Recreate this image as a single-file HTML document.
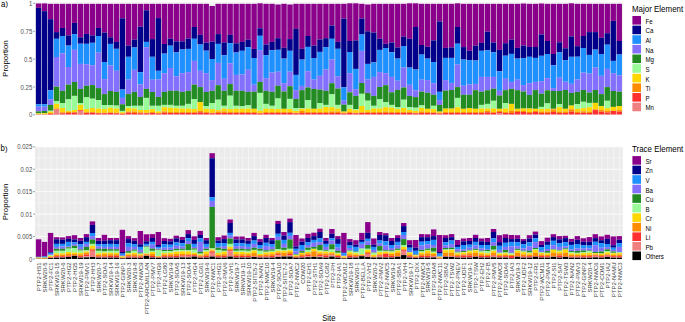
<!DOCTYPE html><html><head><meta charset="utf-8"><style>html,body{margin:0;padding:0;background:#fff;}svg{display:block}text{font-family:"Liberation Sans",sans-serif;}</style></head><body>
<svg width="685" height="322" viewBox="0 0 685 322">
<rect width="685" height="322" fill="#fff"/>
<rect x="35" y="2.4" width="587.8" height="112.4" fill="#EBEBEB"/>
<line x1="35" x2="622.8" y1="100.88" y2="100.88" stroke="#fff" stroke-width="0.45"/>
<line x1="35" x2="622.8" y1="73.03" y2="73.03" stroke="#fff" stroke-width="0.45"/>
<line x1="35" x2="622.8" y1="45.17" y2="45.17" stroke="#fff" stroke-width="0.45"/>
<line x1="35" x2="622.8" y1="17.33" y2="17.33" stroke="#fff" stroke-width="0.45"/>
<line x1="35" x2="622.8" y1="114.8" y2="114.8" stroke="#fff" stroke-width="0.8"/>
<line x1="35" x2="622.8" y1="86.95" y2="86.95" stroke="#fff" stroke-width="0.8"/>
<line x1="35" x2="622.8" y1="59.1" y2="59.1" stroke="#fff" stroke-width="0.8"/>
<line x1="35" x2="622.8" y1="31.25" y2="31.25" stroke="#fff" stroke-width="0.8"/>
<line x1="35" x2="622.8" y1="3.4" y2="3.4" stroke="#fff" stroke-width="0.8"/>
<line x1="39.09" x2="39.09" y1="3.4" y2="114.8" stroke="#fff" stroke-width="0.45"/>
<line x1="45.08" x2="45.08" y1="3.4" y2="114.8" stroke="#fff" stroke-width="0.45"/>
<line x1="51.07" x2="51.07" y1="3.4" y2="114.8" stroke="#fff" stroke-width="0.45"/>
<line x1="57.05" x2="57.05" y1="3.4" y2="114.8" stroke="#fff" stroke-width="0.45"/>
<line x1="63.04" x2="63.04" y1="3.4" y2="114.8" stroke="#fff" stroke-width="0.45"/>
<line x1="69.02" x2="69.02" y1="3.4" y2="114.8" stroke="#fff" stroke-width="0.45"/>
<line x1="75.01" x2="75.01" y1="3.4" y2="114.8" stroke="#fff" stroke-width="0.45"/>
<line x1="81" x2="81" y1="3.4" y2="114.8" stroke="#fff" stroke-width="0.45"/>
<line x1="86.98" x2="86.98" y1="3.4" y2="114.8" stroke="#fff" stroke-width="0.45"/>
<line x1="92.97" x2="92.97" y1="3.4" y2="114.8" stroke="#fff" stroke-width="0.45"/>
<line x1="98.95" x2="98.95" y1="3.4" y2="114.8" stroke="#fff" stroke-width="0.45"/>
<line x1="104.94" x2="104.94" y1="3.4" y2="114.8" stroke="#fff" stroke-width="0.45"/>
<line x1="110.93" x2="110.93" y1="3.4" y2="114.8" stroke="#fff" stroke-width="0.45"/>
<line x1="116.91" x2="116.91" y1="3.4" y2="114.8" stroke="#fff" stroke-width="0.45"/>
<line x1="122.9" x2="122.9" y1="3.4" y2="114.8" stroke="#fff" stroke-width="0.45"/>
<line x1="128.88" x2="128.88" y1="3.4" y2="114.8" stroke="#fff" stroke-width="0.45"/>
<line x1="134.87" x2="134.87" y1="3.4" y2="114.8" stroke="#fff" stroke-width="0.45"/>
<line x1="140.86" x2="140.86" y1="3.4" y2="114.8" stroke="#fff" stroke-width="0.45"/>
<line x1="146.84" x2="146.84" y1="3.4" y2="114.8" stroke="#fff" stroke-width="0.45"/>
<line x1="152.83" x2="152.83" y1="3.4" y2="114.8" stroke="#fff" stroke-width="0.45"/>
<line x1="158.81" x2="158.81" y1="3.4" y2="114.8" stroke="#fff" stroke-width="0.45"/>
<line x1="164.8" x2="164.8" y1="3.4" y2="114.8" stroke="#fff" stroke-width="0.45"/>
<line x1="170.79" x2="170.79" y1="3.4" y2="114.8" stroke="#fff" stroke-width="0.45"/>
<line x1="176.77" x2="176.77" y1="3.4" y2="114.8" stroke="#fff" stroke-width="0.45"/>
<line x1="182.76" x2="182.76" y1="3.4" y2="114.8" stroke="#fff" stroke-width="0.45"/>
<line x1="188.74" x2="188.74" y1="3.4" y2="114.8" stroke="#fff" stroke-width="0.45"/>
<line x1="194.73" x2="194.73" y1="3.4" y2="114.8" stroke="#fff" stroke-width="0.45"/>
<line x1="200.72" x2="200.72" y1="3.4" y2="114.8" stroke="#fff" stroke-width="0.45"/>
<line x1="206.7" x2="206.7" y1="3.4" y2="114.8" stroke="#fff" stroke-width="0.45"/>
<line x1="212.69" x2="212.69" y1="3.4" y2="114.8" stroke="#fff" stroke-width="0.45"/>
<line x1="218.67" x2="218.67" y1="3.4" y2="114.8" stroke="#fff" stroke-width="0.45"/>
<line x1="224.66" x2="224.66" y1="3.4" y2="114.8" stroke="#fff" stroke-width="0.45"/>
<line x1="230.65" x2="230.65" y1="3.4" y2="114.8" stroke="#fff" stroke-width="0.45"/>
<line x1="236.63" x2="236.63" y1="3.4" y2="114.8" stroke="#fff" stroke-width="0.45"/>
<line x1="242.62" x2="242.62" y1="3.4" y2="114.8" stroke="#fff" stroke-width="0.45"/>
<line x1="248.6" x2="248.6" y1="3.4" y2="114.8" stroke="#fff" stroke-width="0.45"/>
<line x1="254.59" x2="254.59" y1="3.4" y2="114.8" stroke="#fff" stroke-width="0.45"/>
<line x1="260.58" x2="260.58" y1="3.4" y2="114.8" stroke="#fff" stroke-width="0.45"/>
<line x1="266.56" x2="266.56" y1="3.4" y2="114.8" stroke="#fff" stroke-width="0.45"/>
<line x1="272.55" x2="272.55" y1="3.4" y2="114.8" stroke="#fff" stroke-width="0.45"/>
<line x1="278.53" x2="278.53" y1="3.4" y2="114.8" stroke="#fff" stroke-width="0.45"/>
<line x1="284.52" x2="284.52" y1="3.4" y2="114.8" stroke="#fff" stroke-width="0.45"/>
<line x1="290.51" x2="290.51" y1="3.4" y2="114.8" stroke="#fff" stroke-width="0.45"/>
<line x1="296.49" x2="296.49" y1="3.4" y2="114.8" stroke="#fff" stroke-width="0.45"/>
<line x1="302.48" x2="302.48" y1="3.4" y2="114.8" stroke="#fff" stroke-width="0.45"/>
<line x1="308.46" x2="308.46" y1="3.4" y2="114.8" stroke="#fff" stroke-width="0.45"/>
<line x1="314.45" x2="314.45" y1="3.4" y2="114.8" stroke="#fff" stroke-width="0.45"/>
<line x1="320.44" x2="320.44" y1="3.4" y2="114.8" stroke="#fff" stroke-width="0.45"/>
<line x1="326.42" x2="326.42" y1="3.4" y2="114.8" stroke="#fff" stroke-width="0.45"/>
<line x1="332.41" x2="332.41" y1="3.4" y2="114.8" stroke="#fff" stroke-width="0.45"/>
<line x1="338.39" x2="338.39" y1="3.4" y2="114.8" stroke="#fff" stroke-width="0.45"/>
<line x1="344.38" x2="344.38" y1="3.4" y2="114.8" stroke="#fff" stroke-width="0.45"/>
<line x1="350.37" x2="350.37" y1="3.4" y2="114.8" stroke="#fff" stroke-width="0.45"/>
<line x1="356.35" x2="356.35" y1="3.4" y2="114.8" stroke="#fff" stroke-width="0.45"/>
<line x1="362.34" x2="362.34" y1="3.4" y2="114.8" stroke="#fff" stroke-width="0.45"/>
<line x1="368.32" x2="368.32" y1="3.4" y2="114.8" stroke="#fff" stroke-width="0.45"/>
<line x1="374.31" x2="374.31" y1="3.4" y2="114.8" stroke="#fff" stroke-width="0.45"/>
<line x1="380.3" x2="380.3" y1="3.4" y2="114.8" stroke="#fff" stroke-width="0.45"/>
<line x1="386.28" x2="386.28" y1="3.4" y2="114.8" stroke="#fff" stroke-width="0.45"/>
<line x1="392.27" x2="392.27" y1="3.4" y2="114.8" stroke="#fff" stroke-width="0.45"/>
<line x1="398.25" x2="398.25" y1="3.4" y2="114.8" stroke="#fff" stroke-width="0.45"/>
<line x1="404.24" x2="404.24" y1="3.4" y2="114.8" stroke="#fff" stroke-width="0.45"/>
<line x1="410.23" x2="410.23" y1="3.4" y2="114.8" stroke="#fff" stroke-width="0.45"/>
<line x1="416.21" x2="416.21" y1="3.4" y2="114.8" stroke="#fff" stroke-width="0.45"/>
<line x1="422.2" x2="422.2" y1="3.4" y2="114.8" stroke="#fff" stroke-width="0.45"/>
<line x1="428.18" x2="428.18" y1="3.4" y2="114.8" stroke="#fff" stroke-width="0.45"/>
<line x1="434.17" x2="434.17" y1="3.4" y2="114.8" stroke="#fff" stroke-width="0.45"/>
<line x1="440.16" x2="440.16" y1="3.4" y2="114.8" stroke="#fff" stroke-width="0.45"/>
<line x1="446.14" x2="446.14" y1="3.4" y2="114.8" stroke="#fff" stroke-width="0.45"/>
<line x1="452.13" x2="452.13" y1="3.4" y2="114.8" stroke="#fff" stroke-width="0.45"/>
<line x1="458.11" x2="458.11" y1="3.4" y2="114.8" stroke="#fff" stroke-width="0.45"/>
<line x1="464.1" x2="464.1" y1="3.4" y2="114.8" stroke="#fff" stroke-width="0.45"/>
<line x1="470.09" x2="470.09" y1="3.4" y2="114.8" stroke="#fff" stroke-width="0.45"/>
<line x1="476.07" x2="476.07" y1="3.4" y2="114.8" stroke="#fff" stroke-width="0.45"/>
<line x1="482.06" x2="482.06" y1="3.4" y2="114.8" stroke="#fff" stroke-width="0.45"/>
<line x1="488.04" x2="488.04" y1="3.4" y2="114.8" stroke="#fff" stroke-width="0.45"/>
<line x1="494.03" x2="494.03" y1="3.4" y2="114.8" stroke="#fff" stroke-width="0.45"/>
<line x1="500.02" x2="500.02" y1="3.4" y2="114.8" stroke="#fff" stroke-width="0.45"/>
<line x1="506" x2="506" y1="3.4" y2="114.8" stroke="#fff" stroke-width="0.45"/>
<line x1="511.99" x2="511.99" y1="3.4" y2="114.8" stroke="#fff" stroke-width="0.45"/>
<line x1="517.97" x2="517.97" y1="3.4" y2="114.8" stroke="#fff" stroke-width="0.45"/>
<line x1="523.96" x2="523.96" y1="3.4" y2="114.8" stroke="#fff" stroke-width="0.45"/>
<line x1="529.95" x2="529.95" y1="3.4" y2="114.8" stroke="#fff" stroke-width="0.45"/>
<line x1="535.93" x2="535.93" y1="3.4" y2="114.8" stroke="#fff" stroke-width="0.45"/>
<line x1="541.92" x2="541.92" y1="3.4" y2="114.8" stroke="#fff" stroke-width="0.45"/>
<line x1="547.9" x2="547.9" y1="3.4" y2="114.8" stroke="#fff" stroke-width="0.45"/>
<line x1="553.89" x2="553.89" y1="3.4" y2="114.8" stroke="#fff" stroke-width="0.45"/>
<line x1="559.88" x2="559.88" y1="3.4" y2="114.8" stroke="#fff" stroke-width="0.45"/>
<line x1="565.86" x2="565.86" y1="3.4" y2="114.8" stroke="#fff" stroke-width="0.45"/>
<line x1="571.85" x2="571.85" y1="3.4" y2="114.8" stroke="#fff" stroke-width="0.45"/>
<line x1="577.83" x2="577.83" y1="3.4" y2="114.8" stroke="#fff" stroke-width="0.45"/>
<line x1="583.82" x2="583.82" y1="3.4" y2="114.8" stroke="#fff" stroke-width="0.45"/>
<line x1="589.81" x2="589.81" y1="3.4" y2="114.8" stroke="#fff" stroke-width="0.45"/>
<line x1="595.79" x2="595.79" y1="3.4" y2="114.8" stroke="#fff" stroke-width="0.45"/>
<line x1="601.78" x2="601.78" y1="3.4" y2="114.8" stroke="#fff" stroke-width="0.45"/>
<line x1="607.76" x2="607.76" y1="3.4" y2="114.8" stroke="#fff" stroke-width="0.45"/>
<line x1="613.75" x2="613.75" y1="3.4" y2="114.8" stroke="#fff" stroke-width="0.45"/>
<line x1="619.74" x2="619.74" y1="3.4" y2="114.8" stroke="#fff" stroke-width="0.45"/>
<rect x="35.9" y="3.45" width="5.39" height="4.35" fill="#8B008B"/>
<rect x="35.9" y="7.8" width="5.39" height="96.4" fill="#00008B"/>
<rect x="35.9" y="104.2" width="5.39" height="2.5" fill="#1E90FF"/>
<rect x="35.9" y="106.7" width="5.39" height="4.7" fill="#8470FF"/>
<rect x="35.9" y="111.4" width="5.39" height="1.9" fill="#228B22"/>
<rect x="35.9" y="113.3" width="5.39" height="0.2" fill="#98FB98"/>
<rect x="35.9" y="113.5" width="5.39" height="0.7" fill="#FFD700"/>
<rect x="35.9" y="114.2" width="5.39" height="0.2" fill="#FF8C00"/>
<rect x="35.9" y="114.4" width="5.39" height="0.2" fill="#FF3030"/>
<rect x="35.9" y="114.6" width="5.39" height="0.2" fill="#F08080"/>
<rect x="41.89" y="3.4" width="5.39" height="7.8" fill="#8B008B"/>
<rect x="41.89" y="11.2" width="5.39" height="93" fill="#00008B"/>
<rect x="41.89" y="104.2" width="5.39" height="2.5" fill="#1E90FF"/>
<rect x="41.89" y="106.7" width="5.39" height="4.3" fill="#8470FF"/>
<rect x="41.89" y="111" width="5.39" height="2" fill="#228B22"/>
<rect x="41.89" y="113" width="5.39" height="0.2" fill="#98FB98"/>
<rect x="41.89" y="113.2" width="5.39" height="1" fill="#FFD700"/>
<rect x="41.89" y="114.2" width="5.39" height="0.2" fill="#FF8C00"/>
<rect x="41.89" y="114.4" width="5.39" height="0.2" fill="#FF3030"/>
<rect x="41.89" y="114.6" width="5.39" height="0.2" fill="#F08080"/>
<rect x="47.87" y="3.8" width="5.39" height="15.4" fill="#8B008B"/>
<rect x="47.87" y="19.2" width="5.39" height="71" fill="#00008B"/>
<rect x="47.87" y="90.2" width="5.39" height="9.1" fill="#1E90FF"/>
<rect x="47.87" y="99.3" width="5.39" height="5.7" fill="#8470FF"/>
<rect x="47.87" y="105" width="5.39" height="5.7" fill="#228B22"/>
<rect x="47.87" y="110.7" width="5.39" height="0.9" fill="#98FB98"/>
<rect x="47.87" y="111.6" width="5.39" height="1.4" fill="#FFD700"/>
<rect x="47.87" y="113" width="5.39" height="0.8" fill="#FF8C00"/>
<rect x="47.87" y="113.8" width="5.39" height="0.8" fill="#FF3030"/>
<rect x="47.87" y="114.6" width="5.39" height="0.2" fill="#F08080"/>
<rect x="53.86" y="3.8" width="5.39" height="28.3" fill="#8B008B"/>
<rect x="53.86" y="32.1" width="5.39" height="6.7" fill="#00008B"/>
<rect x="53.86" y="38.8" width="5.39" height="18.2" fill="#1E90FF"/>
<rect x="53.86" y="57" width="5.39" height="29.7" fill="#8470FF"/>
<rect x="53.86" y="86.7" width="5.39" height="14.4" fill="#228B22"/>
<rect x="53.86" y="101.1" width="5.39" height="2.8" fill="#98FB98"/>
<rect x="53.86" y="103.9" width="5.39" height="4.7" fill="#FFD700"/>
<rect x="53.86" y="108.6" width="5.39" height="0.7" fill="#FF8C00"/>
<rect x="53.86" y="109.3" width="5.39" height="0.5" fill="#FF3030"/>
<rect x="53.86" y="109.8" width="5.39" height="5" fill="#F08080"/>
<rect x="59.84" y="3.8" width="5.39" height="24.2" fill="#8B008B"/>
<rect x="59.84" y="28" width="5.39" height="8" fill="#00008B"/>
<rect x="59.84" y="36" width="5.39" height="17.3" fill="#1E90FF"/>
<rect x="59.84" y="53.3" width="5.39" height="37.5" fill="#8470FF"/>
<rect x="59.84" y="90.8" width="5.39" height="12.2" fill="#228B22"/>
<rect x="59.84" y="103" width="5.39" height="4.9" fill="#98FB98"/>
<rect x="59.84" y="107.9" width="5.39" height="4.4" fill="#FFD700"/>
<rect x="59.84" y="112.3" width="5.39" height="1" fill="#FF8C00"/>
<rect x="59.84" y="113.3" width="5.39" height="1.2" fill="#FF3030"/>
<rect x="59.84" y="114.5" width="5.39" height="0.3" fill="#F08080"/>
<rect x="65.83" y="3.8" width="5.39" height="31.6" fill="#8B008B"/>
<rect x="65.83" y="35.4" width="5.39" height="10.2" fill="#00008B"/>
<rect x="65.83" y="45.6" width="5.39" height="21.4" fill="#1E90FF"/>
<rect x="65.83" y="67" width="5.39" height="17.7" fill="#8470FF"/>
<rect x="65.83" y="84.7" width="5.39" height="14.6" fill="#228B22"/>
<rect x="65.83" y="99.3" width="5.39" height="11.6" fill="#98FB98"/>
<rect x="65.83" y="110.9" width="5.39" height="0.9" fill="#FFD700"/>
<rect x="65.83" y="111.8" width="5.39" height="1.2" fill="#FF8C00"/>
<rect x="65.83" y="113" width="5.39" height="1.5" fill="#FF3030"/>
<rect x="65.83" y="114.5" width="5.39" height="0.3" fill="#F08080"/>
<rect x="71.82" y="3.8" width="5.39" height="19.1" fill="#8B008B"/>
<rect x="71.82" y="22.9" width="5.39" height="11.2" fill="#00008B"/>
<rect x="71.82" y="34.1" width="5.39" height="15.7" fill="#1E90FF"/>
<rect x="71.82" y="49.8" width="5.39" height="32.2" fill="#8470FF"/>
<rect x="71.82" y="82" width="5.39" height="13.9" fill="#228B22"/>
<rect x="71.82" y="95.9" width="5.39" height="14.1" fill="#98FB98"/>
<rect x="71.82" y="110" width="5.39" height="2.1" fill="#FFD700"/>
<rect x="71.82" y="112.1" width="5.39" height="0.5" fill="#FF8C00"/>
<rect x="71.82" y="112.6" width="5.39" height="1.9" fill="#FF3030"/>
<rect x="71.82" y="114.5" width="5.39" height="0.3" fill="#F08080"/>
<rect x="77.8" y="3.8" width="5.39" height="33.5" fill="#8B008B"/>
<rect x="77.8" y="37.3" width="5.39" height="6.4" fill="#00008B"/>
<rect x="77.8" y="43.7" width="5.39" height="20.2" fill="#1E90FF"/>
<rect x="77.8" y="63.9" width="5.39" height="25" fill="#8470FF"/>
<rect x="77.8" y="88.9" width="5.39" height="14.1" fill="#228B22"/>
<rect x="77.8" y="103" width="5.39" height="1.9" fill="#98FB98"/>
<rect x="77.8" y="104.9" width="5.39" height="5.1" fill="#FFD700"/>
<rect x="77.8" y="110" width="5.39" height="0.3" fill="#FF8C00"/>
<rect x="77.8" y="110.3" width="5.39" height="0.7" fill="#FF3030"/>
<rect x="77.8" y="111" width="5.39" height="3.8" fill="#F08080"/>
<rect x="83.79" y="3.8" width="5.39" height="30.1" fill="#8B008B"/>
<rect x="83.79" y="33.9" width="5.39" height="9.9" fill="#00008B"/>
<rect x="83.79" y="43.8" width="5.39" height="20.4" fill="#1E90FF"/>
<rect x="83.79" y="64.2" width="5.39" height="21.6" fill="#8470FF"/>
<rect x="83.79" y="85.8" width="5.39" height="11.5" fill="#228B22"/>
<rect x="83.79" y="97.3" width="5.39" height="11.8" fill="#98FB98"/>
<rect x="83.79" y="109.1" width="5.39" height="3.2" fill="#FFD700"/>
<rect x="83.79" y="112.3" width="5.39" height="0.7" fill="#FF8C00"/>
<rect x="83.79" y="113" width="5.39" height="1.5" fill="#FF3030"/>
<rect x="83.79" y="114.5" width="5.39" height="0.3" fill="#F08080"/>
<rect x="89.77" y="3.8" width="5.39" height="31.6" fill="#8B008B"/>
<rect x="89.77" y="35.4" width="5.39" height="7.4" fill="#00008B"/>
<rect x="89.77" y="42.8" width="5.39" height="22.4" fill="#1E90FF"/>
<rect x="89.77" y="65.2" width="5.39" height="19.9" fill="#8470FF"/>
<rect x="89.77" y="85.1" width="5.39" height="13.6" fill="#228B22"/>
<rect x="89.77" y="98.7" width="5.39" height="9.4" fill="#98FB98"/>
<rect x="89.77" y="108.1" width="5.39" height="4" fill="#FFD700"/>
<rect x="89.77" y="112.1" width="5.39" height="0.7" fill="#FF8C00"/>
<rect x="89.77" y="112.8" width="5.39" height="1.7" fill="#FF3030"/>
<rect x="89.77" y="114.5" width="5.39" height="0.3" fill="#F08080"/>
<rect x="95.76" y="3.8" width="5.39" height="24.2" fill="#8B008B"/>
<rect x="95.76" y="28" width="5.39" height="8" fill="#00008B"/>
<rect x="95.76" y="36" width="5.39" height="16.7" fill="#1E90FF"/>
<rect x="95.76" y="52.7" width="5.39" height="35.4" fill="#8470FF"/>
<rect x="95.76" y="88.1" width="5.39" height="12" fill="#228B22"/>
<rect x="95.76" y="100.1" width="5.39" height="8.5" fill="#98FB98"/>
<rect x="95.76" y="108.6" width="5.39" height="4.2" fill="#FFD700"/>
<rect x="95.76" y="112.8" width="5.39" height="0.5" fill="#FF8C00"/>
<rect x="95.76" y="113.3" width="5.39" height="1.2" fill="#FF3030"/>
<rect x="95.76" y="114.5" width="5.39" height="0.3" fill="#F08080"/>
<rect x="101.75" y="3.8" width="5.39" height="28.8" fill="#8B008B"/>
<rect x="101.75" y="32.6" width="5.39" height="29.4" fill="#00008B"/>
<rect x="101.75" y="62" width="5.39" height="17.1" fill="#1E90FF"/>
<rect x="101.75" y="79.1" width="5.39" height="15" fill="#8470FF"/>
<rect x="101.75" y="94.1" width="5.39" height="10.9" fill="#228B22"/>
<rect x="101.75" y="105" width="5.39" height="4.1" fill="#98FB98"/>
<rect x="101.75" y="109.1" width="5.39" height="3.7" fill="#FFD700"/>
<rect x="101.75" y="112.8" width="5.39" height="0.5" fill="#FF8C00"/>
<rect x="101.75" y="113.3" width="5.39" height="1.2" fill="#FF3030"/>
<rect x="101.75" y="114.5" width="5.39" height="0.3" fill="#F08080"/>
<rect x="107.73" y="3.8" width="5.39" height="33.5" fill="#8B008B"/>
<rect x="107.73" y="37.3" width="5.39" height="6.6" fill="#00008B"/>
<rect x="107.73" y="43.9" width="5.39" height="21.6" fill="#1E90FF"/>
<rect x="107.73" y="65.5" width="5.39" height="25.5" fill="#8470FF"/>
<rect x="107.73" y="91" width="5.39" height="14" fill="#228B22"/>
<rect x="107.73" y="105" width="5.39" height="2.7" fill="#98FB98"/>
<rect x="107.73" y="107.7" width="5.39" height="4.6" fill="#FFD700"/>
<rect x="107.73" y="112.3" width="5.39" height="0.7" fill="#FF8C00"/>
<rect x="107.73" y="113" width="5.39" height="1.5" fill="#FF3030"/>
<rect x="107.73" y="114.5" width="5.39" height="0.3" fill="#F08080"/>
<rect x="113.72" y="3.8" width="5.39" height="38.1" fill="#8B008B"/>
<rect x="113.72" y="41.9" width="5.39" height="6.9" fill="#00008B"/>
<rect x="113.72" y="48.8" width="5.39" height="22" fill="#1E90FF"/>
<rect x="113.72" y="70.8" width="5.39" height="21.1" fill="#8470FF"/>
<rect x="113.72" y="91.9" width="5.39" height="13.7" fill="#228B22"/>
<rect x="113.72" y="105.6" width="5.39" height="3" fill="#98FB98"/>
<rect x="113.72" y="108.6" width="5.39" height="4.2" fill="#FFD700"/>
<rect x="113.72" y="112.8" width="5.39" height="0.5" fill="#FF8C00"/>
<rect x="113.72" y="113.3" width="5.39" height="1.2" fill="#FF3030"/>
<rect x="113.72" y="114.5" width="5.39" height="0.3" fill="#F08080"/>
<rect x="119.7" y="3.8" width="5.39" height="14.5" fill="#8B008B"/>
<rect x="119.7" y="18.3" width="5.39" height="71.2" fill="#00008B"/>
<rect x="119.7" y="89.5" width="5.39" height="8.4" fill="#1E90FF"/>
<rect x="119.7" y="97.9" width="5.39" height="6.4" fill="#8470FF"/>
<rect x="119.7" y="104.3" width="5.39" height="6.6" fill="#228B22"/>
<rect x="119.7" y="110.9" width="5.39" height="1.4" fill="#98FB98"/>
<rect x="119.7" y="112.3" width="5.39" height="1" fill="#FFD700"/>
<rect x="119.7" y="113.3" width="5.39" height="0.7" fill="#FF8C00"/>
<rect x="119.7" y="114" width="5.39" height="0.6" fill="#FF3030"/>
<rect x="119.7" y="114.6" width="5.39" height="0.2" fill="#F08080"/>
<rect x="125.69" y="3.8" width="5.39" height="41.8" fill="#8B008B"/>
<rect x="125.69" y="45.6" width="5.39" height="11.2" fill="#00008B"/>
<rect x="125.69" y="56.8" width="5.39" height="22.8" fill="#1E90FF"/>
<rect x="125.69" y="79.6" width="5.39" height="14.5" fill="#8470FF"/>
<rect x="125.69" y="94.1" width="5.39" height="11.9" fill="#228B22"/>
<rect x="125.69" y="106" width="5.39" height="2.1" fill="#98FB98"/>
<rect x="125.69" y="108.1" width="5.39" height="3.5" fill="#FFD700"/>
<rect x="125.69" y="111.6" width="5.39" height="1" fill="#FF8C00"/>
<rect x="125.69" y="112.6" width="5.39" height="1.9" fill="#FF3030"/>
<rect x="125.69" y="114.5" width="5.39" height="0.3" fill="#F08080"/>
<rect x="131.68" y="3.8" width="5.39" height="35.9" fill="#8B008B"/>
<rect x="131.68" y="39.7" width="5.39" height="7.8" fill="#00008B"/>
<rect x="131.68" y="47.5" width="5.39" height="22.3" fill="#1E90FF"/>
<rect x="131.68" y="69.8" width="5.39" height="22.1" fill="#8470FF"/>
<rect x="131.68" y="91.9" width="5.39" height="13.9" fill="#228B22"/>
<rect x="131.68" y="105.8" width="5.39" height="2.8" fill="#98FB98"/>
<rect x="131.68" y="108.6" width="5.39" height="3" fill="#FFD700"/>
<rect x="131.68" y="111.6" width="5.39" height="1.4" fill="#FF8C00"/>
<rect x="131.68" y="113" width="5.39" height="1.5" fill="#FF3030"/>
<rect x="131.68" y="114.5" width="5.39" height="0.3" fill="#F08080"/>
<rect x="137.66" y="3.8" width="5.39" height="22.9" fill="#8B008B"/>
<rect x="137.66" y="26.7" width="5.39" height="45.5" fill="#00008B"/>
<rect x="137.66" y="72.2" width="5.39" height="12.2" fill="#1E90FF"/>
<rect x="137.66" y="84.4" width="5.39" height="12.5" fill="#8470FF"/>
<rect x="137.66" y="96.9" width="5.39" height="8.9" fill="#228B22"/>
<rect x="137.66" y="105.8" width="5.39" height="4.2" fill="#98FB98"/>
<rect x="137.66" y="110" width="5.39" height="2.3" fill="#FFD700"/>
<rect x="137.66" y="112.3" width="5.39" height="1" fill="#FF8C00"/>
<rect x="137.66" y="113.3" width="5.39" height="1.2" fill="#FF3030"/>
<rect x="137.66" y="114.5" width="5.39" height="0.3" fill="#F08080"/>
<rect x="143.65" y="3.8" width="5.39" height="6.5" fill="#8B008B"/>
<rect x="143.65" y="10.3" width="5.39" height="31.6" fill="#00008B"/>
<rect x="143.65" y="41.9" width="5.39" height="5.3" fill="#1E90FF"/>
<rect x="143.65" y="47.2" width="5.39" height="41.7" fill="#8470FF"/>
<rect x="143.65" y="88.9" width="5.39" height="9" fill="#228B22"/>
<rect x="143.65" y="97.9" width="5.39" height="12.1" fill="#98FB98"/>
<rect x="143.65" y="110" width="5.39" height="2.8" fill="#FFD700"/>
<rect x="143.65" y="112.8" width="5.39" height="0.5" fill="#FF8C00"/>
<rect x="143.65" y="113.3" width="5.39" height="1.2" fill="#FF3030"/>
<rect x="143.65" y="114.5" width="5.39" height="0.3" fill="#F08080"/>
<rect x="149.63" y="3.8" width="5.39" height="35.3" fill="#8B008B"/>
<rect x="149.63" y="39.1" width="5.39" height="17.7" fill="#00008B"/>
<rect x="149.63" y="56.8" width="5.39" height="22.9" fill="#1E90FF"/>
<rect x="149.63" y="79.7" width="5.39" height="12.3" fill="#8470FF"/>
<rect x="149.63" y="92" width="5.39" height="13.8" fill="#228B22"/>
<rect x="149.63" y="105.8" width="5.39" height="3.3" fill="#98FB98"/>
<rect x="149.63" y="109.1" width="5.39" height="3" fill="#FFD700"/>
<rect x="149.63" y="112.1" width="5.39" height="0.9" fill="#FF8C00"/>
<rect x="149.63" y="113" width="5.39" height="1.5" fill="#FF3030"/>
<rect x="149.63" y="114.5" width="5.39" height="0.3" fill="#F08080"/>
<rect x="155.62" y="3.8" width="5.39" height="14.3" fill="#8B008B"/>
<rect x="155.62" y="18.1" width="5.39" height="52.7" fill="#00008B"/>
<rect x="155.62" y="70.8" width="5.39" height="8.7" fill="#1E90FF"/>
<rect x="155.62" y="79.5" width="5.39" height="17.4" fill="#8470FF"/>
<rect x="155.62" y="96.9" width="5.39" height="8.9" fill="#228B22"/>
<rect x="155.62" y="105.8" width="5.39" height="5.6" fill="#98FB98"/>
<rect x="155.62" y="111.4" width="5.39" height="1.6" fill="#FFD700"/>
<rect x="155.62" y="113" width="5.39" height="0.5" fill="#FF8C00"/>
<rect x="155.62" y="113.5" width="5.39" height="1" fill="#FF3030"/>
<rect x="155.62" y="114.5" width="5.39" height="0.3" fill="#F08080"/>
<rect x="161.61" y="3.8" width="5.39" height="40.2" fill="#8B008B"/>
<rect x="161.61" y="44" width="5.39" height="9.6" fill="#00008B"/>
<rect x="161.61" y="53.6" width="5.39" height="19.6" fill="#1E90FF"/>
<rect x="161.61" y="73.2" width="5.39" height="18.7" fill="#8470FF"/>
<rect x="161.61" y="91.9" width="5.39" height="13" fill="#228B22"/>
<rect x="161.61" y="104.9" width="5.39" height="2.3" fill="#98FB98"/>
<rect x="161.61" y="107.2" width="5.39" height="4.4" fill="#FFD700"/>
<rect x="161.61" y="111.6" width="5.39" height="1.2" fill="#FF8C00"/>
<rect x="161.61" y="112.8" width="5.39" height="1.7" fill="#FF3030"/>
<rect x="161.61" y="114.5" width="5.39" height="0.3" fill="#F08080"/>
<rect x="167.59" y="3.8" width="5.39" height="35" fill="#8B008B"/>
<rect x="167.59" y="38.8" width="5.39" height="6.9" fill="#00008B"/>
<rect x="167.59" y="45.7" width="5.39" height="22.3" fill="#1E90FF"/>
<rect x="167.59" y="68" width="5.39" height="22.8" fill="#8470FF"/>
<rect x="167.59" y="90.8" width="5.39" height="14.1" fill="#228B22"/>
<rect x="167.59" y="104.9" width="5.39" height="2.8" fill="#98FB98"/>
<rect x="167.59" y="107.7" width="5.39" height="4.4" fill="#FFD700"/>
<rect x="167.59" y="112.1" width="5.39" height="0.9" fill="#FF8C00"/>
<rect x="167.59" y="113" width="5.39" height="1.5" fill="#FF3030"/>
<rect x="167.59" y="114.5" width="5.39" height="0.3" fill="#F08080"/>
<rect x="173.58" y="3.8" width="5.39" height="37.6" fill="#8B008B"/>
<rect x="173.58" y="41.4" width="5.39" height="11" fill="#00008B"/>
<rect x="173.58" y="52.4" width="5.39" height="23.9" fill="#1E90FF"/>
<rect x="173.58" y="76.3" width="5.39" height="14.5" fill="#8470FF"/>
<rect x="173.58" y="90.8" width="5.39" height="15" fill="#228B22"/>
<rect x="173.58" y="105.8" width="5.39" height="2.3" fill="#98FB98"/>
<rect x="173.58" y="108.1" width="5.39" height="4" fill="#FFD700"/>
<rect x="173.58" y="112.1" width="5.39" height="0.9" fill="#FF8C00"/>
<rect x="173.58" y="113" width="5.39" height="1.5" fill="#FF3030"/>
<rect x="173.58" y="114.5" width="5.39" height="0.3" fill="#F08080"/>
<rect x="179.56" y="3.8" width="5.39" height="37.6" fill="#8B008B"/>
<rect x="179.56" y="41.4" width="5.39" height="8.1" fill="#00008B"/>
<rect x="179.56" y="49.5" width="5.39" height="23.7" fill="#1E90FF"/>
<rect x="179.56" y="73.2" width="5.39" height="18.7" fill="#8470FF"/>
<rect x="179.56" y="91.9" width="5.39" height="13.9" fill="#228B22"/>
<rect x="179.56" y="105.8" width="5.39" height="2.8" fill="#98FB98"/>
<rect x="179.56" y="108.6" width="5.39" height="3.5" fill="#FFD700"/>
<rect x="179.56" y="112.1" width="5.39" height="0.9" fill="#FF8C00"/>
<rect x="179.56" y="113" width="5.39" height="1.5" fill="#FF3030"/>
<rect x="179.56" y="114.5" width="5.39" height="0.3" fill="#F08080"/>
<rect x="185.55" y="3.8" width="5.39" height="34.8" fill="#8B008B"/>
<rect x="185.55" y="38.6" width="5.39" height="10.3" fill="#00008B"/>
<rect x="185.55" y="48.9" width="5.39" height="23.2" fill="#1E90FF"/>
<rect x="185.55" y="72.1" width="5.39" height="18.7" fill="#8470FF"/>
<rect x="185.55" y="90.8" width="5.39" height="13.1" fill="#228B22"/>
<rect x="185.55" y="103.9" width="5.39" height="4.7" fill="#98FB98"/>
<rect x="185.55" y="108.6" width="5.39" height="3.5" fill="#FFD700"/>
<rect x="185.55" y="112.1" width="5.39" height="0.9" fill="#FF8C00"/>
<rect x="185.55" y="113" width="5.39" height="1.5" fill="#FF3030"/>
<rect x="185.55" y="114.5" width="5.39" height="0.3" fill="#F08080"/>
<rect x="191.54" y="3.8" width="5.39" height="23.2" fill="#8B008B"/>
<rect x="191.54" y="27" width="5.39" height="11.8" fill="#00008B"/>
<rect x="191.54" y="38.8" width="5.39" height="22.1" fill="#1E90FF"/>
<rect x="191.54" y="60.9" width="5.39" height="23.8" fill="#8470FF"/>
<rect x="191.54" y="84.7" width="5.39" height="14.3" fill="#228B22"/>
<rect x="191.54" y="99" width="5.39" height="10.1" fill="#98FB98"/>
<rect x="191.54" y="109.1" width="5.39" height="3" fill="#FFD700"/>
<rect x="191.54" y="112.1" width="5.39" height="0.9" fill="#FF8C00"/>
<rect x="191.54" y="113" width="5.39" height="1.5" fill="#FF3030"/>
<rect x="191.54" y="114.5" width="5.39" height="0.3" fill="#F08080"/>
<rect x="197.52" y="3.8" width="5.39" height="31.1" fill="#8B008B"/>
<rect x="197.52" y="34.9" width="5.39" height="9.6" fill="#00008B"/>
<rect x="197.52" y="44.5" width="5.39" height="26.3" fill="#1E90FF"/>
<rect x="197.52" y="70.8" width="5.39" height="16.3" fill="#8470FF"/>
<rect x="197.52" y="87.1" width="5.39" height="15" fill="#228B22"/>
<rect x="197.52" y="102.1" width="5.39" height="8.8" fill="#FFD700"/>
<rect x="197.52" y="110.9" width="5.39" height="1.4" fill="#FF8C00"/>
<rect x="197.52" y="112.3" width="5.39" height="2.2" fill="#FF3030"/>
<rect x="197.52" y="114.5" width="5.39" height="0.3" fill="#F08080"/>
<rect x="203.51" y="3.8" width="5.39" height="38.8" fill="#8B008B"/>
<rect x="203.51" y="42.6" width="5.39" height="8.1" fill="#00008B"/>
<rect x="203.51" y="50.7" width="5.39" height="22.5" fill="#1E90FF"/>
<rect x="203.51" y="73.2" width="5.39" height="18.7" fill="#8470FF"/>
<rect x="203.51" y="91.9" width="5.39" height="14.1" fill="#228B22"/>
<rect x="203.51" y="106" width="5.39" height="2.8" fill="#98FB98"/>
<rect x="203.51" y="108.8" width="5.39" height="3.3" fill="#FFD700"/>
<rect x="203.51" y="112.1" width="5.39" height="0.9" fill="#FF8C00"/>
<rect x="203.51" y="113" width="5.39" height="1.5" fill="#FF3030"/>
<rect x="203.51" y="114.5" width="5.39" height="0.3" fill="#F08080"/>
<rect x="209.49" y="6" width="5.39" height="35.7" fill="#8B008B"/>
<rect x="209.49" y="41.7" width="5.39" height="17.3" fill="#00008B"/>
<rect x="209.49" y="59" width="5.39" height="21.1" fill="#1E90FF"/>
<rect x="209.49" y="80.1" width="5.39" height="10.7" fill="#8470FF"/>
<rect x="209.49" y="90.8" width="5.39" height="12.2" fill="#228B22"/>
<rect x="209.49" y="103" width="5.39" height="6.1" fill="#98FB98"/>
<rect x="209.49" y="109.1" width="5.39" height="3.7" fill="#FFD700"/>
<rect x="209.49" y="112.8" width="5.39" height="0.5" fill="#FF8C00"/>
<rect x="209.49" y="113.3" width="5.39" height="1.2" fill="#FF3030"/>
<rect x="209.49" y="114.5" width="5.39" height="0.3" fill="#F08080"/>
<rect x="215.48" y="3.8" width="5.39" height="30.3" fill="#8B008B"/>
<rect x="215.48" y="34.1" width="5.39" height="9.8" fill="#00008B"/>
<rect x="215.48" y="43.9" width="5.39" height="19" fill="#1E90FF"/>
<rect x="215.48" y="62.9" width="5.39" height="22.3" fill="#8470FF"/>
<rect x="215.48" y="85.2" width="5.39" height="14.5" fill="#228B22"/>
<rect x="215.48" y="99.7" width="5.39" height="10.3" fill="#98FB98"/>
<rect x="215.48" y="110" width="5.39" height="1.6" fill="#FFD700"/>
<rect x="215.48" y="111.6" width="5.39" height="1.4" fill="#FF8C00"/>
<rect x="215.48" y="113" width="5.39" height="1.5" fill="#FF3030"/>
<rect x="215.48" y="114.5" width="5.39" height="0.3" fill="#F08080"/>
<rect x="221.47" y="3.8" width="5.39" height="38.6" fill="#8B008B"/>
<rect x="221.47" y="42.4" width="5.39" height="12.8" fill="#00008B"/>
<rect x="221.47" y="55.2" width="5.39" height="23.6" fill="#1E90FF"/>
<rect x="221.47" y="78.8" width="5.39" height="12" fill="#8470FF"/>
<rect x="221.47" y="90.8" width="5.39" height="15" fill="#228B22"/>
<rect x="221.47" y="105.8" width="5.39" height="2.8" fill="#98FB98"/>
<rect x="221.47" y="108.6" width="5.39" height="3" fill="#FFD700"/>
<rect x="221.47" y="111.6" width="5.39" height="1.4" fill="#FF8C00"/>
<rect x="221.47" y="113" width="5.39" height="1.5" fill="#FF3030"/>
<rect x="221.47" y="114.5" width="5.39" height="0.3" fill="#F08080"/>
<rect x="227.45" y="3.8" width="5.39" height="31.1" fill="#8B008B"/>
<rect x="227.45" y="34.9" width="5.39" height="8.3" fill="#00008B"/>
<rect x="227.45" y="43.2" width="5.39" height="20.1" fill="#1E90FF"/>
<rect x="227.45" y="63.3" width="5.39" height="20.8" fill="#8470FF"/>
<rect x="227.45" y="84.1" width="5.39" height="11.6" fill="#228B22"/>
<rect x="227.45" y="95.7" width="5.39" height="13.4" fill="#98FB98"/>
<rect x="227.45" y="109.1" width="5.39" height="3" fill="#FFD700"/>
<rect x="227.45" y="112.1" width="5.39" height="0.9" fill="#FF8C00"/>
<rect x="227.45" y="113" width="5.39" height="1.5" fill="#FF3030"/>
<rect x="227.45" y="114.5" width="5.39" height="0.3" fill="#F08080"/>
<rect x="233.44" y="3.8" width="5.39" height="39.5" fill="#8B008B"/>
<rect x="233.44" y="43.3" width="5.39" height="9.2" fill="#00008B"/>
<rect x="233.44" y="52.5" width="5.39" height="22.4" fill="#1E90FF"/>
<rect x="233.44" y="74.9" width="5.39" height="15.9" fill="#8470FF"/>
<rect x="233.44" y="90.8" width="5.39" height="15" fill="#228B22"/>
<rect x="233.44" y="105.8" width="5.39" height="3" fill="#98FB98"/>
<rect x="233.44" y="108.8" width="5.39" height="3.3" fill="#FFD700"/>
<rect x="233.44" y="112.1" width="5.39" height="0.9" fill="#FF8C00"/>
<rect x="233.44" y="113" width="5.39" height="1.5" fill="#FF3030"/>
<rect x="233.44" y="114.5" width="5.39" height="0.3" fill="#F08080"/>
<rect x="239.42" y="3.8" width="5.39" height="38.1" fill="#8B008B"/>
<rect x="239.42" y="41.9" width="5.39" height="8.9" fill="#00008B"/>
<rect x="239.42" y="50.8" width="5.39" height="23.7" fill="#1E90FF"/>
<rect x="239.42" y="74.5" width="5.39" height="16.3" fill="#8470FF"/>
<rect x="239.42" y="90.8" width="5.39" height="15.5" fill="#228B22"/>
<rect x="239.42" y="106.3" width="5.39" height="2.5" fill="#98FB98"/>
<rect x="239.42" y="108.8" width="5.39" height="3.3" fill="#FFD700"/>
<rect x="239.42" y="112.1" width="5.39" height="0.9" fill="#FF8C00"/>
<rect x="239.42" y="113" width="5.39" height="1.5" fill="#FF3030"/>
<rect x="239.42" y="114.5" width="5.39" height="0.3" fill="#F08080"/>
<rect x="245.41" y="3.8" width="5.39" height="35.9" fill="#8B008B"/>
<rect x="245.41" y="39.7" width="5.39" height="7.4" fill="#00008B"/>
<rect x="245.41" y="47.1" width="5.39" height="22.7" fill="#1E90FF"/>
<rect x="245.41" y="69.8" width="5.39" height="22.1" fill="#8470FF"/>
<rect x="245.41" y="91.9" width="5.39" height="13.4" fill="#228B22"/>
<rect x="245.41" y="105.3" width="5.39" height="3.3" fill="#98FB98"/>
<rect x="245.41" y="108.6" width="5.39" height="3.5" fill="#FFD700"/>
<rect x="245.41" y="112.1" width="5.39" height="0.9" fill="#FF8C00"/>
<rect x="245.41" y="113" width="5.39" height="1.5" fill="#FF3030"/>
<rect x="245.41" y="114.5" width="5.39" height="0.3" fill="#F08080"/>
<rect x="251.4" y="3.8" width="5.39" height="45.1" fill="#8B008B"/>
<rect x="251.4" y="48.9" width="5.39" height="9.1" fill="#00008B"/>
<rect x="251.4" y="58" width="5.39" height="26.7" fill="#1E90FF"/>
<rect x="251.4" y="84.7" width="5.39" height="7" fill="#8470FF"/>
<rect x="251.4" y="91.7" width="5.39" height="17.1" fill="#228B22"/>
<rect x="251.4" y="108.8" width="5.39" height="3.3" fill="#FFD700"/>
<rect x="251.4" y="112.1" width="5.39" height="0.9" fill="#FF8C00"/>
<rect x="251.4" y="113" width="5.39" height="1.5" fill="#FF3030"/>
<rect x="251.4" y="114.5" width="5.39" height="0.3" fill="#F08080"/>
<rect x="257.38" y="3.3" width="5.39" height="25" fill="#8B008B"/>
<rect x="257.38" y="28.3" width="5.39" height="7.5" fill="#00008B"/>
<rect x="257.38" y="35.8" width="5.39" height="14.4" fill="#1E90FF"/>
<rect x="257.38" y="50.2" width="5.39" height="31.7" fill="#8470FF"/>
<rect x="257.38" y="81.9" width="5.39" height="11" fill="#228B22"/>
<rect x="257.38" y="92.9" width="5.39" height="17.8" fill="#98FB98"/>
<rect x="257.38" y="110.7" width="5.39" height="2.3" fill="#FFD700"/>
<rect x="257.38" y="113" width="5.39" height="0.5" fill="#FF8C00"/>
<rect x="257.38" y="113.5" width="5.39" height="1" fill="#FF3030"/>
<rect x="257.38" y="114.5" width="5.39" height="0.3" fill="#F08080"/>
<rect x="263.37" y="3.8" width="5.39" height="40.7" fill="#8B008B"/>
<rect x="263.37" y="44.5" width="5.39" height="10.7" fill="#00008B"/>
<rect x="263.37" y="55.2" width="5.39" height="23" fill="#1E90FF"/>
<rect x="263.37" y="78.2" width="5.39" height="12.6" fill="#8470FF"/>
<rect x="263.37" y="90.8" width="5.39" height="13.1" fill="#228B22"/>
<rect x="263.37" y="103.9" width="5.39" height="4.9" fill="#98FB98"/>
<rect x="263.37" y="108.8" width="5.39" height="3.3" fill="#FFD700"/>
<rect x="263.37" y="112.1" width="5.39" height="0.9" fill="#FF8C00"/>
<rect x="263.37" y="113" width="5.39" height="1.5" fill="#FF3030"/>
<rect x="263.37" y="114.5" width="5.39" height="0.3" fill="#F08080"/>
<rect x="269.35" y="3.8" width="5.39" height="38.1" fill="#8B008B"/>
<rect x="269.35" y="41.9" width="5.39" height="8.4" fill="#00008B"/>
<rect x="269.35" y="50.3" width="5.39" height="22.3" fill="#1E90FF"/>
<rect x="269.35" y="72.6" width="5.39" height="19.2" fill="#8470FF"/>
<rect x="269.35" y="91.8" width="5.39" height="14" fill="#228B22"/>
<rect x="269.35" y="105.8" width="5.39" height="3" fill="#98FB98"/>
<rect x="269.35" y="108.8" width="5.39" height="3.3" fill="#FFD700"/>
<rect x="269.35" y="112.1" width="5.39" height="0.9" fill="#FF8C00"/>
<rect x="269.35" y="113" width="5.39" height="1.5" fill="#FF3030"/>
<rect x="269.35" y="114.5" width="5.39" height="0.3" fill="#F08080"/>
<rect x="275.34" y="4.5" width="5.39" height="33.7" fill="#8B008B"/>
<rect x="275.34" y="38.2" width="5.39" height="11.6" fill="#00008B"/>
<rect x="275.34" y="49.8" width="5.39" height="21.9" fill="#1E90FF"/>
<rect x="275.34" y="71.7" width="5.39" height="14.1" fill="#8470FF"/>
<rect x="275.34" y="85.8" width="5.39" height="12.7" fill="#228B22"/>
<rect x="275.34" y="98.5" width="5.39" height="10.6" fill="#98FB98"/>
<rect x="275.34" y="109.1" width="5.39" height="3" fill="#FFD700"/>
<rect x="275.34" y="112.1" width="5.39" height="0.9" fill="#FF8C00"/>
<rect x="275.34" y="113" width="5.39" height="1.5" fill="#FF3030"/>
<rect x="275.34" y="114.5" width="5.39" height="0.3" fill="#F08080"/>
<rect x="281.33" y="3.8" width="5.39" height="44" fill="#8B008B"/>
<rect x="281.33" y="47.8" width="5.39" height="10.8" fill="#00008B"/>
<rect x="281.33" y="58.6" width="5.39" height="24.6" fill="#1E90FF"/>
<rect x="281.33" y="83.2" width="5.39" height="8.3" fill="#8470FF"/>
<rect x="281.33" y="91.5" width="5.39" height="17.3" fill="#228B22"/>
<rect x="281.33" y="108.8" width="5.39" height="3.3" fill="#FFD700"/>
<rect x="281.33" y="112.1" width="5.39" height="0.9" fill="#FF8C00"/>
<rect x="281.33" y="113" width="5.39" height="1.5" fill="#FF3030"/>
<rect x="281.33" y="114.5" width="5.39" height="0.3" fill="#F08080"/>
<rect x="287.31" y="4.5" width="5.39" height="34.6" fill="#8B008B"/>
<rect x="287.31" y="39.1" width="5.39" height="11.7" fill="#00008B"/>
<rect x="287.31" y="50.8" width="5.39" height="20.9" fill="#1E90FF"/>
<rect x="287.31" y="71.7" width="5.39" height="14.5" fill="#8470FF"/>
<rect x="287.31" y="86.2" width="5.39" height="12.7" fill="#228B22"/>
<rect x="287.31" y="98.9" width="5.39" height="10.2" fill="#98FB98"/>
<rect x="287.31" y="109.1" width="5.39" height="3" fill="#FFD700"/>
<rect x="287.31" y="112.1" width="5.39" height="0.9" fill="#FF8C00"/>
<rect x="287.31" y="113" width="5.39" height="1.5" fill="#FF3030"/>
<rect x="287.31" y="114.5" width="5.39" height="0.3" fill="#F08080"/>
<rect x="293.3" y="3.8" width="5.39" height="25.1" fill="#8B008B"/>
<rect x="293.3" y="28.9" width="5.39" height="46" fill="#00008B"/>
<rect x="293.3" y="74.9" width="5.39" height="15.3" fill="#1E90FF"/>
<rect x="293.3" y="90.2" width="5.39" height="8.7" fill="#8470FF"/>
<rect x="293.3" y="98.9" width="5.39" height="9.2" fill="#228B22"/>
<rect x="293.3" y="108.1" width="5.39" height="2.8" fill="#98FB98"/>
<rect x="293.3" y="110.9" width="5.39" height="1.9" fill="#FFD700"/>
<rect x="293.3" y="112.8" width="5.39" height="0.5" fill="#FF8C00"/>
<rect x="293.3" y="113.3" width="5.39" height="1.2" fill="#FF3030"/>
<rect x="293.3" y="114.5" width="5.39" height="0.3" fill="#F08080"/>
<rect x="299.28" y="3.8" width="5.39" height="45" fill="#8B008B"/>
<rect x="299.28" y="48.8" width="5.39" height="10.8" fill="#00008B"/>
<rect x="299.28" y="59.6" width="5.39" height="26.3" fill="#1E90FF"/>
<rect x="299.28" y="85.9" width="5.39" height="4.3" fill="#8470FF"/>
<rect x="299.28" y="90.2" width="5.39" height="17.9" fill="#228B22"/>
<rect x="299.28" y="108.1" width="5.39" height="0.7" fill="#98FB98"/>
<rect x="299.28" y="108.8" width="5.39" height="2.2" fill="#FFD700"/>
<rect x="299.28" y="111" width="5.39" height="2" fill="#FF8C00"/>
<rect x="299.28" y="113" width="5.39" height="1.5" fill="#FF3030"/>
<rect x="299.28" y="114.5" width="5.39" height="0.3" fill="#F08080"/>
<rect x="305.27" y="3.8" width="5.39" height="32.2" fill="#8B008B"/>
<rect x="305.27" y="36" width="5.39" height="10.9" fill="#00008B"/>
<rect x="305.27" y="46.9" width="5.39" height="24.4" fill="#1E90FF"/>
<rect x="305.27" y="71.3" width="5.39" height="16.2" fill="#8470FF"/>
<rect x="305.27" y="87.5" width="5.39" height="12.5" fill="#228B22"/>
<rect x="305.27" y="100" width="5.39" height="8.6" fill="#98FB98"/>
<rect x="305.27" y="108.6" width="5.39" height="3.5" fill="#FFD700"/>
<rect x="305.27" y="112.1" width="5.39" height="0.9" fill="#FF8C00"/>
<rect x="305.27" y="113" width="5.39" height="1.5" fill="#FF3030"/>
<rect x="305.27" y="114.5" width="5.39" height="0.3" fill="#F08080"/>
<rect x="311.26" y="3.8" width="5.39" height="41.8" fill="#8B008B"/>
<rect x="311.26" y="45.6" width="5.39" height="12.4" fill="#00008B"/>
<rect x="311.26" y="58" width="5.39" height="21.6" fill="#1E90FF"/>
<rect x="311.26" y="79.6" width="5.39" height="9.4" fill="#8470FF"/>
<rect x="311.26" y="89" width="5.39" height="19.8" fill="#228B22"/>
<rect x="311.26" y="108.8" width="5.39" height="3.3" fill="#FFD700"/>
<rect x="311.26" y="112.1" width="5.39" height="0.9" fill="#FF8C00"/>
<rect x="311.26" y="113" width="5.39" height="1.5" fill="#FF3030"/>
<rect x="311.26" y="114.5" width="5.39" height="0.3" fill="#F08080"/>
<rect x="317.24" y="3.8" width="5.39" height="35.7" fill="#8B008B"/>
<rect x="317.24" y="39.5" width="5.39" height="12.4" fill="#00008B"/>
<rect x="317.24" y="51.9" width="5.39" height="23.9" fill="#1E90FF"/>
<rect x="317.24" y="75.8" width="5.39" height="13.8" fill="#8470FF"/>
<rect x="317.24" y="89.6" width="5.39" height="13.4" fill="#228B22"/>
<rect x="317.24" y="103" width="5.39" height="5.6" fill="#98FB98"/>
<rect x="317.24" y="108.6" width="5.39" height="3.5" fill="#FFD700"/>
<rect x="317.24" y="112.1" width="5.39" height="0.9" fill="#FF8C00"/>
<rect x="317.24" y="113" width="5.39" height="1.5" fill="#FF3030"/>
<rect x="317.24" y="114.5" width="5.39" height="0.3" fill="#F08080"/>
<rect x="323.23" y="3.8" width="5.39" height="34.4" fill="#8B008B"/>
<rect x="323.23" y="38.2" width="5.39" height="8.9" fill="#00008B"/>
<rect x="323.23" y="47.1" width="5.39" height="22.4" fill="#1E90FF"/>
<rect x="323.23" y="69.5" width="5.39" height="21.3" fill="#8470FF"/>
<rect x="323.23" y="90.8" width="5.39" height="14.1" fill="#228B22"/>
<rect x="323.23" y="104.9" width="5.39" height="2.1" fill="#98FB98"/>
<rect x="323.23" y="107" width="5.39" height="5.1" fill="#FFD700"/>
<rect x="323.23" y="112.1" width="5.39" height="0.9" fill="#FF8C00"/>
<rect x="323.23" y="113" width="5.39" height="1.5" fill="#FF3030"/>
<rect x="323.23" y="114.5" width="5.39" height="0.3" fill="#F08080"/>
<rect x="329.21" y="3.8" width="5.39" height="21.7" fill="#8B008B"/>
<rect x="329.21" y="25.5" width="5.39" height="13.3" fill="#00008B"/>
<rect x="329.21" y="38.8" width="5.39" height="20.8" fill="#1E90FF"/>
<rect x="329.21" y="59.6" width="5.39" height="23.6" fill="#8470FF"/>
<rect x="329.21" y="83.2" width="5.39" height="11.1" fill="#228B22"/>
<rect x="329.21" y="94.3" width="5.39" height="12.9" fill="#98FB98"/>
<rect x="329.21" y="107.2" width="5.39" height="4.4" fill="#FFD700"/>
<rect x="329.21" y="111.6" width="5.39" height="1.4" fill="#FF8C00"/>
<rect x="329.21" y="113" width="5.39" height="1.5" fill="#FF3030"/>
<rect x="329.21" y="114.5" width="5.39" height="0.3" fill="#F08080"/>
<rect x="335.2" y="3.8" width="5.39" height="38.1" fill="#8B008B"/>
<rect x="335.2" y="41.9" width="5.39" height="6.9" fill="#00008B"/>
<rect x="335.2" y="48.8" width="5.39" height="27.5" fill="#1E90FF"/>
<rect x="335.2" y="76.3" width="5.39" height="12.3" fill="#8470FF"/>
<rect x="335.2" y="88.6" width="5.39" height="16.3" fill="#228B22"/>
<rect x="335.2" y="104.9" width="5.39" height="3.7" fill="#98FB98"/>
<rect x="335.2" y="108.6" width="5.39" height="3" fill="#FFD700"/>
<rect x="335.2" y="111.6" width="5.39" height="1.4" fill="#FF8C00"/>
<rect x="335.2" y="113" width="5.39" height="1.5" fill="#FF3030"/>
<rect x="335.2" y="114.5" width="5.39" height="0.3" fill="#F08080"/>
<rect x="341.19" y="3.8" width="5.39" height="14.8" fill="#8B008B"/>
<rect x="341.19" y="18.6" width="5.39" height="68.7" fill="#00008B"/>
<rect x="341.19" y="87.3" width="5.39" height="13.4" fill="#1E90FF"/>
<rect x="341.19" y="100.7" width="5.39" height="3.9" fill="#8470FF"/>
<rect x="341.19" y="104.6" width="5.39" height="7" fill="#228B22"/>
<rect x="341.19" y="111.6" width="5.39" height="1.2" fill="#FFD700"/>
<rect x="341.19" y="112.8" width="5.39" height="0.7" fill="#FF8C00"/>
<rect x="341.19" y="113.5" width="5.39" height="1" fill="#FF3030"/>
<rect x="341.19" y="114.5" width="5.39" height="0.3" fill="#F08080"/>
<rect x="347.17" y="3.3" width="5.39" height="37.7" fill="#8B008B"/>
<rect x="347.17" y="41" width="5.39" height="11" fill="#00008B"/>
<rect x="347.17" y="52" width="5.39" height="21.2" fill="#1E90FF"/>
<rect x="347.17" y="73.2" width="5.39" height="19.2" fill="#8470FF"/>
<rect x="347.17" y="92.4" width="5.39" height="12.5" fill="#228B22"/>
<rect x="347.17" y="104.9" width="5.39" height="3.9" fill="#98FB98"/>
<rect x="347.17" y="108.8" width="5.39" height="3.3" fill="#FFD700"/>
<rect x="347.17" y="112.1" width="5.39" height="0.9" fill="#FF8C00"/>
<rect x="347.17" y="113" width="5.39" height="1.5" fill="#FF3030"/>
<rect x="347.17" y="114.5" width="5.39" height="0.3" fill="#F08080"/>
<rect x="353.16" y="3.3" width="5.39" height="37.1" fill="#8B008B"/>
<rect x="353.16" y="40.4" width="5.39" height="28.5" fill="#00008B"/>
<rect x="353.16" y="68.9" width="5.39" height="20.3" fill="#1E90FF"/>
<rect x="353.16" y="89.2" width="5.39" height="6.7" fill="#8470FF"/>
<rect x="353.16" y="95.9" width="5.39" height="13.2" fill="#228B22"/>
<rect x="353.16" y="109.1" width="5.39" height="1.1" fill="#98FB98"/>
<rect x="353.16" y="110.2" width="5.39" height="2.6" fill="#FFD700"/>
<rect x="353.16" y="112.8" width="5.39" height="0.5" fill="#FF8C00"/>
<rect x="353.16" y="113.3" width="5.39" height="1.2" fill="#FF3030"/>
<rect x="353.16" y="114.5" width="5.39" height="0.3" fill="#F08080"/>
<rect x="359.14" y="3.8" width="5.39" height="14.8" fill="#8B008B"/>
<rect x="359.14" y="18.6" width="5.39" height="15.9" fill="#00008B"/>
<rect x="359.14" y="34.5" width="5.39" height="16.3" fill="#1E90FF"/>
<rect x="359.14" y="50.8" width="5.39" height="32.2" fill="#8470FF"/>
<rect x="359.14" y="83" width="5.39" height="10.8" fill="#228B22"/>
<rect x="359.14" y="93.8" width="5.39" height="12.2" fill="#98FB98"/>
<rect x="359.14" y="106" width="5.39" height="6.3" fill="#FFD700"/>
<rect x="359.14" y="112.3" width="5.39" height="0.7" fill="#FF8C00"/>
<rect x="359.14" y="113" width="5.39" height="1.5" fill="#FF3030"/>
<rect x="359.14" y="114.5" width="5.39" height="0.3" fill="#F08080"/>
<rect x="365.13" y="4.5" width="5.39" height="26.8" fill="#8B008B"/>
<rect x="365.13" y="31.3" width="5.39" height="32.6" fill="#00008B"/>
<rect x="365.13" y="63.9" width="5.39" height="15.6" fill="#1E90FF"/>
<rect x="365.13" y="79.5" width="5.39" height="13.4" fill="#8470FF"/>
<rect x="365.13" y="92.9" width="5.39" height="7.8" fill="#228B22"/>
<rect x="365.13" y="100.7" width="5.39" height="9.3" fill="#98FB98"/>
<rect x="365.13" y="110" width="5.39" height="2.1" fill="#FFD700"/>
<rect x="365.13" y="112.1" width="5.39" height="0.9" fill="#FF8C00"/>
<rect x="365.13" y="113" width="5.39" height="1.5" fill="#FF3030"/>
<rect x="365.13" y="114.5" width="5.39" height="0.3" fill="#F08080"/>
<rect x="371.12" y="3.8" width="5.39" height="28.8" fill="#8B008B"/>
<rect x="371.12" y="32.6" width="5.39" height="29.8" fill="#00008B"/>
<rect x="371.12" y="62.4" width="5.39" height="14.5" fill="#1E90FF"/>
<rect x="371.12" y="76.9" width="5.39" height="19" fill="#8470FF"/>
<rect x="371.12" y="95.9" width="5.39" height="9.9" fill="#228B22"/>
<rect x="371.12" y="105.8" width="5.39" height="2.8" fill="#98FB98"/>
<rect x="371.12" y="108.6" width="5.39" height="3.5" fill="#FFD700"/>
<rect x="371.12" y="112.1" width="5.39" height="0.9" fill="#FF8C00"/>
<rect x="371.12" y="113" width="5.39" height="1.5" fill="#FF3030"/>
<rect x="371.12" y="114.5" width="5.39" height="0.3" fill="#F08080"/>
<rect x="377.1" y="3.8" width="5.39" height="35" fill="#8B008B"/>
<rect x="377.1" y="38.8" width="5.39" height="11.1" fill="#00008B"/>
<rect x="377.1" y="49.9" width="5.39" height="22.2" fill="#1E90FF"/>
<rect x="377.1" y="72.1" width="5.39" height="14.9" fill="#8470FF"/>
<rect x="377.1" y="87" width="5.39" height="12.3" fill="#228B22"/>
<rect x="377.1" y="99.3" width="5.39" height="9.3" fill="#98FB98"/>
<rect x="377.1" y="108.6" width="5.39" height="3.5" fill="#FFD700"/>
<rect x="377.1" y="112.1" width="5.39" height="0.9" fill="#FF8C00"/>
<rect x="377.1" y="113" width="5.39" height="1.5" fill="#FF3030"/>
<rect x="377.1" y="114.5" width="5.39" height="0.3" fill="#F08080"/>
<rect x="383.09" y="3.8" width="5.39" height="40" fill="#8B008B"/>
<rect x="383.09" y="43.8" width="5.39" height="4.2" fill="#00008B"/>
<rect x="383.09" y="48" width="5.39" height="25.2" fill="#1E90FF"/>
<rect x="383.09" y="73.2" width="5.39" height="12" fill="#8470FF"/>
<rect x="383.09" y="85.2" width="5.39" height="16.9" fill="#228B22"/>
<rect x="383.09" y="102.1" width="5.39" height="5.1" fill="#98FB98"/>
<rect x="383.09" y="107.2" width="5.39" height="4.4" fill="#FFD700"/>
<rect x="383.09" y="111.6" width="5.39" height="1.4" fill="#FF8C00"/>
<rect x="383.09" y="113" width="5.39" height="1.5" fill="#FF3030"/>
<rect x="383.09" y="114.5" width="5.39" height="0.3" fill="#F08080"/>
<rect x="389.07" y="3.8" width="5.39" height="38.7" fill="#8B008B"/>
<rect x="389.07" y="42.5" width="5.39" height="9.8" fill="#00008B"/>
<rect x="389.07" y="52.3" width="5.39" height="24.6" fill="#1E90FF"/>
<rect x="389.07" y="76.9" width="5.39" height="15.4" fill="#8470FF"/>
<rect x="389.07" y="92.3" width="5.39" height="12.6" fill="#228B22"/>
<rect x="389.07" y="104.9" width="5.39" height="2.8" fill="#98FB98"/>
<rect x="389.07" y="107.7" width="5.39" height="4.4" fill="#FFD700"/>
<rect x="389.07" y="112.1" width="5.39" height="0.9" fill="#FF8C00"/>
<rect x="389.07" y="113" width="5.39" height="1.5" fill="#FF3030"/>
<rect x="389.07" y="114.5" width="5.39" height="0.3" fill="#F08080"/>
<rect x="395.06" y="3.8" width="5.39" height="43.7" fill="#8B008B"/>
<rect x="395.06" y="47.5" width="5.39" height="11.1" fill="#00008B"/>
<rect x="395.06" y="58.6" width="5.39" height="22.1" fill="#1E90FF"/>
<rect x="395.06" y="80.7" width="5.39" height="9.2" fill="#8470FF"/>
<rect x="395.06" y="89.9" width="5.39" height="17.3" fill="#228B22"/>
<rect x="395.06" y="107.2" width="5.39" height="1.9" fill="#98FB98"/>
<rect x="395.06" y="109.1" width="5.39" height="3" fill="#FFD700"/>
<rect x="395.06" y="112.1" width="5.39" height="0.9" fill="#FF8C00"/>
<rect x="395.06" y="113" width="5.39" height="1.5" fill="#FF3030"/>
<rect x="395.06" y="114.5" width="5.39" height="0.3" fill="#F08080"/>
<rect x="401.05" y="3.8" width="5.39" height="32.9" fill="#8B008B"/>
<rect x="401.05" y="36.7" width="5.39" height="9.3" fill="#00008B"/>
<rect x="401.05" y="46" width="5.39" height="21.6" fill="#1E90FF"/>
<rect x="401.05" y="67.6" width="5.39" height="19.9" fill="#8470FF"/>
<rect x="401.05" y="87.5" width="5.39" height="12.2" fill="#228B22"/>
<rect x="401.05" y="99.7" width="5.39" height="8.4" fill="#98FB98"/>
<rect x="401.05" y="108.1" width="5.39" height="4" fill="#FFD700"/>
<rect x="401.05" y="112.1" width="5.39" height="0.9" fill="#FF8C00"/>
<rect x="401.05" y="113" width="5.39" height="1.5" fill="#FF3030"/>
<rect x="401.05" y="114.5" width="5.39" height="0.3" fill="#F08080"/>
<rect x="407.03" y="3.3" width="5.39" height="35.5" fill="#8B008B"/>
<rect x="407.03" y="38.8" width="5.39" height="28.8" fill="#00008B"/>
<rect x="407.03" y="67.6" width="5.39" height="17.2" fill="#1E90FF"/>
<rect x="407.03" y="84.8" width="5.39" height="11.1" fill="#8470FF"/>
<rect x="407.03" y="95.9" width="5.39" height="11.3" fill="#228B22"/>
<rect x="407.03" y="107.2" width="5.39" height="2.8" fill="#98FB98"/>
<rect x="407.03" y="110" width="5.39" height="2.1" fill="#FFD700"/>
<rect x="407.03" y="112.1" width="5.39" height="0.9" fill="#FF8C00"/>
<rect x="407.03" y="113" width="5.39" height="1.5" fill="#FF3030"/>
<rect x="407.03" y="114.5" width="5.39" height="0.3" fill="#F08080"/>
<rect x="413.02" y="3.3" width="5.39" height="23.7" fill="#8B008B"/>
<rect x="413.02" y="27" width="5.39" height="42.5" fill="#00008B"/>
<rect x="413.02" y="69.5" width="5.39" height="20.8" fill="#1E90FF"/>
<rect x="413.02" y="90.3" width="5.39" height="6.8" fill="#8470FF"/>
<rect x="413.02" y="97.1" width="5.39" height="10.6" fill="#228B22"/>
<rect x="413.02" y="107.7" width="5.39" height="3.2" fill="#98FB98"/>
<rect x="413.02" y="110.9" width="5.39" height="1.9" fill="#FFD700"/>
<rect x="413.02" y="112.8" width="5.39" height="0.5" fill="#FF8C00"/>
<rect x="413.02" y="113.3" width="5.39" height="1.2" fill="#FF3030"/>
<rect x="413.02" y="114.5" width="5.39" height="0.3" fill="#F08080"/>
<rect x="419" y="3.8" width="5.39" height="41.2" fill="#8B008B"/>
<rect x="419" y="45" width="5.39" height="9.6" fill="#00008B"/>
<rect x="419" y="54.6" width="5.39" height="25.1" fill="#1E90FF"/>
<rect x="419" y="79.7" width="5.39" height="12" fill="#8470FF"/>
<rect x="419" y="91.7" width="5.39" height="13.6" fill="#228B22"/>
<rect x="419" y="105.3" width="5.39" height="2.6" fill="#98FB98"/>
<rect x="419" y="107.9" width="5.39" height="3.7" fill="#FFD700"/>
<rect x="419" y="111.6" width="5.39" height="1.4" fill="#FF8C00"/>
<rect x="419" y="113" width="5.39" height="1.5" fill="#FF3030"/>
<rect x="419" y="114.5" width="5.39" height="0.3" fill="#F08080"/>
<rect x="424.99" y="3.8" width="5.39" height="43" fill="#8B008B"/>
<rect x="424.99" y="46.8" width="5.39" height="11.8" fill="#00008B"/>
<rect x="424.99" y="58.6" width="5.39" height="21.5" fill="#1E90FF"/>
<rect x="424.99" y="80.1" width="5.39" height="12.7" fill="#8470FF"/>
<rect x="424.99" y="92.8" width="5.39" height="16" fill="#228B22"/>
<rect x="424.99" y="108.8" width="5.39" height="3.3" fill="#FFD700"/>
<rect x="424.99" y="112.1" width="5.39" height="0.9" fill="#FF8C00"/>
<rect x="424.99" y="113" width="5.39" height="1.5" fill="#FF3030"/>
<rect x="424.99" y="114.5" width="5.39" height="0.3" fill="#F08080"/>
<rect x="430.98" y="3.8" width="5.39" height="36.6" fill="#8B008B"/>
<rect x="430.98" y="40.4" width="5.39" height="21.6" fill="#00008B"/>
<rect x="430.98" y="62" width="5.39" height="21.2" fill="#1E90FF"/>
<rect x="430.98" y="83.2" width="5.39" height="11.6" fill="#8470FF"/>
<rect x="430.98" y="94.8" width="5.39" height="11" fill="#228B22"/>
<rect x="430.98" y="105.8" width="5.39" height="3.3" fill="#98FB98"/>
<rect x="430.98" y="109.1" width="5.39" height="3.2" fill="#FFD700"/>
<rect x="430.98" y="112.3" width="5.39" height="0.7" fill="#FF8C00"/>
<rect x="430.98" y="113" width="5.39" height="1.5" fill="#FF3030"/>
<rect x="430.98" y="114.5" width="5.39" height="0.3" fill="#F08080"/>
<rect x="436.96" y="3.8" width="5.39" height="17.6" fill="#8B008B"/>
<rect x="436.96" y="21.4" width="5.39" height="70.4" fill="#00008B"/>
<rect x="436.96" y="91.8" width="5.39" height="8.3" fill="#1E90FF"/>
<rect x="436.96" y="100.1" width="5.39" height="4.8" fill="#8470FF"/>
<rect x="436.96" y="104.9" width="5.39" height="6.7" fill="#228B22"/>
<rect x="436.96" y="111.6" width="5.39" height="1.2" fill="#FFD700"/>
<rect x="436.96" y="112.8" width="5.39" height="0.7" fill="#FF8C00"/>
<rect x="436.96" y="113.5" width="5.39" height="1" fill="#FF3030"/>
<rect x="436.96" y="114.5" width="5.39" height="0.3" fill="#F08080"/>
<rect x="442.95" y="3.8" width="5.39" height="44.1" fill="#8B008B"/>
<rect x="442.95" y="47.9" width="5.39" height="10" fill="#00008B"/>
<rect x="442.95" y="57.9" width="5.39" height="22.2" fill="#1E90FF"/>
<rect x="442.95" y="80.1" width="5.39" height="10.5" fill="#8470FF"/>
<rect x="442.95" y="90.6" width="5.39" height="18" fill="#228B22"/>
<rect x="442.95" y="108.6" width="5.39" height="3.5" fill="#FFD700"/>
<rect x="442.95" y="112.1" width="5.39" height="0.9" fill="#FF8C00"/>
<rect x="442.95" y="113" width="5.39" height="1.5" fill="#FF3030"/>
<rect x="442.95" y="114.5" width="5.39" height="0.3" fill="#F08080"/>
<rect x="448.93" y="3.8" width="5.39" height="43.7" fill="#8B008B"/>
<rect x="448.93" y="47.5" width="5.39" height="10.4" fill="#00008B"/>
<rect x="448.93" y="57.9" width="5.39" height="25" fill="#1E90FF"/>
<rect x="448.93" y="82.9" width="5.39" height="7.1" fill="#8470FF"/>
<rect x="448.93" y="90" width="5.39" height="18.6" fill="#228B22"/>
<rect x="448.93" y="108.6" width="5.39" height="3.5" fill="#FFD700"/>
<rect x="448.93" y="112.1" width="5.39" height="0.9" fill="#FF8C00"/>
<rect x="448.93" y="113" width="5.39" height="1.5" fill="#FF3030"/>
<rect x="448.93" y="114.5" width="5.39" height="0.3" fill="#F08080"/>
<rect x="454.92" y="3.3" width="5.39" height="23.7" fill="#8B008B"/>
<rect x="454.92" y="27" width="5.39" height="16.7" fill="#00008B"/>
<rect x="454.92" y="43.7" width="5.39" height="20.9" fill="#1E90FF"/>
<rect x="454.92" y="64.6" width="5.39" height="22.5" fill="#8470FF"/>
<rect x="454.92" y="87.1" width="5.39" height="10.8" fill="#228B22"/>
<rect x="454.92" y="97.9" width="5.39" height="9.3" fill="#98FB98"/>
<rect x="454.92" y="107.2" width="5.39" height="4.9" fill="#FFD700"/>
<rect x="454.92" y="112.1" width="5.39" height="0.9" fill="#FF8C00"/>
<rect x="454.92" y="113" width="5.39" height="1.5" fill="#FF3030"/>
<rect x="454.92" y="114.5" width="5.39" height="0.3" fill="#F08080"/>
<rect x="460.91" y="3.8" width="5.39" height="43.3" fill="#8B008B"/>
<rect x="460.91" y="47.1" width="5.39" height="12.5" fill="#00008B"/>
<rect x="460.91" y="59.6" width="5.39" height="26.1" fill="#1E90FF"/>
<rect x="460.91" y="85.7" width="5.39" height="9.1" fill="#8470FF"/>
<rect x="460.91" y="94.8" width="5.39" height="14" fill="#228B22"/>
<rect x="460.91" y="108.8" width="5.39" height="3.3" fill="#FFD700"/>
<rect x="460.91" y="112.1" width="5.39" height="0.9" fill="#FF8C00"/>
<rect x="460.91" y="113" width="5.39" height="1.5" fill="#FF3030"/>
<rect x="460.91" y="114.5" width="5.39" height="0.3" fill="#F08080"/>
<rect x="466.89" y="3.8" width="5.39" height="47" fill="#8B008B"/>
<rect x="466.89" y="50.8" width="5.39" height="9.3" fill="#00008B"/>
<rect x="466.89" y="60.1" width="5.39" height="24.4" fill="#1E90FF"/>
<rect x="466.89" y="84.5" width="5.39" height="10.3" fill="#8470FF"/>
<rect x="466.89" y="94.8" width="5.39" height="13.3" fill="#228B22"/>
<rect x="466.89" y="108.1" width="5.39" height="4" fill="#FFD700"/>
<rect x="466.89" y="112.1" width="5.39" height="0.9" fill="#FF8C00"/>
<rect x="466.89" y="113" width="5.39" height="1.5" fill="#FF3030"/>
<rect x="466.89" y="114.5" width="5.39" height="0.3" fill="#F08080"/>
<rect x="472.88" y="3.8" width="5.39" height="41.9" fill="#8B008B"/>
<rect x="472.88" y="45.7" width="5.39" height="14.8" fill="#00008B"/>
<rect x="472.88" y="60.5" width="5.39" height="23.4" fill="#1E90FF"/>
<rect x="472.88" y="83.9" width="5.39" height="6.3" fill="#8470FF"/>
<rect x="472.88" y="90.2" width="5.39" height="18.6" fill="#228B22"/>
<rect x="472.88" y="108.8" width="5.39" height="3.3" fill="#FFD700"/>
<rect x="472.88" y="112.1" width="5.39" height="0.9" fill="#FF8C00"/>
<rect x="472.88" y="113" width="5.39" height="1.5" fill="#FF3030"/>
<rect x="472.88" y="114.5" width="5.39" height="0.3" fill="#F08080"/>
<rect x="478.86" y="3.8" width="5.39" height="39.1" fill="#8B008B"/>
<rect x="478.86" y="42.9" width="5.39" height="7.9" fill="#00008B"/>
<rect x="478.86" y="50.8" width="5.39" height="26.1" fill="#1E90FF"/>
<rect x="478.86" y="76.9" width="5.39" height="14.8" fill="#8470FF"/>
<rect x="478.86" y="91.7" width="5.39" height="13.2" fill="#228B22"/>
<rect x="478.86" y="104.9" width="5.39" height="3.7" fill="#98FB98"/>
<rect x="478.86" y="108.6" width="5.39" height="3.5" fill="#FFD700"/>
<rect x="478.86" y="112.1" width="5.39" height="0.9" fill="#FF8C00"/>
<rect x="478.86" y="113" width="5.39" height="1.5" fill="#FF3030"/>
<rect x="478.86" y="114.5" width="5.39" height="0.3" fill="#F08080"/>
<rect x="484.85" y="3.8" width="5.39" height="27.9" fill="#8B008B"/>
<rect x="484.85" y="31.7" width="5.39" height="18.5" fill="#00008B"/>
<rect x="484.85" y="50.2" width="5.39" height="26.7" fill="#1E90FF"/>
<rect x="484.85" y="76.9" width="5.39" height="13.3" fill="#8470FF"/>
<rect x="484.85" y="90.2" width="5.39" height="13.7" fill="#228B22"/>
<rect x="484.85" y="103.9" width="5.39" height="4.7" fill="#98FB98"/>
<rect x="484.85" y="108.6" width="5.39" height="2.3" fill="#FFD700"/>
<rect x="484.85" y="110.9" width="5.39" height="1.4" fill="#FF8C00"/>
<rect x="484.85" y="112.3" width="5.39" height="2.2" fill="#FF3030"/>
<rect x="484.85" y="114.5" width="5.39" height="0.3" fill="#F08080"/>
<rect x="490.84" y="3.8" width="5.39" height="38.7" fill="#8B008B"/>
<rect x="490.84" y="42.5" width="5.39" height="9.7" fill="#00008B"/>
<rect x="490.84" y="52.2" width="5.39" height="24.7" fill="#1E90FF"/>
<rect x="490.84" y="76.9" width="5.39" height="11.9" fill="#8470FF"/>
<rect x="490.84" y="88.8" width="5.39" height="12" fill="#228B22"/>
<rect x="490.84" y="100.8" width="5.39" height="7.8" fill="#98FB98"/>
<rect x="490.84" y="108.6" width="5.39" height="3.5" fill="#FFD700"/>
<rect x="490.84" y="112.1" width="5.39" height="0.9" fill="#FF8C00"/>
<rect x="490.84" y="113" width="5.39" height="1.5" fill="#FF3030"/>
<rect x="490.84" y="114.5" width="5.39" height="0.3" fill="#F08080"/>
<rect x="496.82" y="3.8" width="5.39" height="46.1" fill="#8B008B"/>
<rect x="496.82" y="49.9" width="5.39" height="21.4" fill="#00008B"/>
<rect x="496.82" y="71.3" width="5.39" height="19.5" fill="#1E90FF"/>
<rect x="496.82" y="90.8" width="5.39" height="4.7" fill="#8470FF"/>
<rect x="496.82" y="95.5" width="5.39" height="13.3" fill="#228B22"/>
<rect x="496.82" y="108.8" width="5.39" height="2.1" fill="#FFD700"/>
<rect x="496.82" y="110.9" width="5.39" height="1.1" fill="#FF8C00"/>
<rect x="496.82" y="112" width="5.39" height="1.5" fill="#FF3030"/>
<rect x="496.82" y="113.5" width="5.39" height="1.3" fill="#F08080"/>
<rect x="502.81" y="3.8" width="5.39" height="39.4" fill="#8B008B"/>
<rect x="502.81" y="43.2" width="5.39" height="12.5" fill="#00008B"/>
<rect x="502.81" y="55.7" width="5.39" height="23.1" fill="#1E90FF"/>
<rect x="502.81" y="78.8" width="5.39" height="11.4" fill="#8470FF"/>
<rect x="502.81" y="90.2" width="5.39" height="12.8" fill="#228B22"/>
<rect x="502.81" y="103" width="5.39" height="5.6" fill="#98FB98"/>
<rect x="502.81" y="108.6" width="5.39" height="3.5" fill="#FFD700"/>
<rect x="502.81" y="112.1" width="5.39" height="0.9" fill="#FF8C00"/>
<rect x="502.81" y="113" width="5.39" height="1.5" fill="#FF3030"/>
<rect x="502.81" y="114.5" width="5.39" height="0.3" fill="#F08080"/>
<rect x="508.79" y="3.8" width="5.39" height="35.9" fill="#8B008B"/>
<rect x="508.79" y="39.7" width="5.39" height="14.2" fill="#00008B"/>
<rect x="508.79" y="53.9" width="5.39" height="28" fill="#1E90FF"/>
<rect x="508.79" y="81.9" width="5.39" height="7" fill="#8470FF"/>
<rect x="508.79" y="88.9" width="5.39" height="15" fill="#228B22"/>
<rect x="508.79" y="103.9" width="5.39" height="7" fill="#FFD700"/>
<rect x="508.79" y="110.9" width="5.39" height="2.1" fill="#FF8C00"/>
<rect x="508.79" y="113" width="5.39" height="1.5" fill="#FF3030"/>
<rect x="508.79" y="114.5" width="5.39" height="0.3" fill="#F08080"/>
<rect x="514.78" y="3.8" width="5.39" height="44.1" fill="#8B008B"/>
<rect x="514.78" y="47.9" width="5.39" height="10.7" fill="#00008B"/>
<rect x="514.78" y="58.6" width="5.39" height="21.1" fill="#1E90FF"/>
<rect x="514.78" y="79.7" width="5.39" height="10.5" fill="#8470FF"/>
<rect x="514.78" y="90.2" width="5.39" height="18.6" fill="#228B22"/>
<rect x="514.78" y="108.8" width="5.39" height="2.1" fill="#FFD700"/>
<rect x="514.78" y="110.9" width="5.39" height="1.1" fill="#FF8C00"/>
<rect x="514.78" y="112" width="5.39" height="2.5" fill="#FF3030"/>
<rect x="514.78" y="114.5" width="5.39" height="0.3" fill="#F08080"/>
<rect x="520.77" y="3.5" width="5.39" height="42" fill="#8B008B"/>
<rect x="520.77" y="45.5" width="5.39" height="12.6" fill="#00008B"/>
<rect x="520.77" y="58.1" width="5.39" height="27" fill="#1E90FF"/>
<rect x="520.77" y="85.1" width="5.39" height="6.4" fill="#8470FF"/>
<rect x="520.77" y="91.5" width="5.39" height="17" fill="#228B22"/>
<rect x="520.77" y="108.5" width="5.39" height="2.4" fill="#FFD700"/>
<rect x="520.77" y="110.9" width="5.39" height="1.1" fill="#FF8C00"/>
<rect x="520.77" y="112" width="5.39" height="2.5" fill="#FF3030"/>
<rect x="520.77" y="114.5" width="5.39" height="0.3" fill="#F08080"/>
<rect x="526.75" y="3.8" width="5.39" height="43.1" fill="#8B008B"/>
<rect x="526.75" y="46.9" width="5.39" height="9.9" fill="#00008B"/>
<rect x="526.75" y="56.8" width="5.39" height="26.4" fill="#1E90FF"/>
<rect x="526.75" y="83.2" width="5.39" height="11.7" fill="#8470FF"/>
<rect x="526.75" y="94.9" width="5.39" height="13.6" fill="#228B22"/>
<rect x="526.75" y="108.5" width="5.39" height="3.5" fill="#FFD700"/>
<rect x="526.75" y="112" width="5.39" height="1" fill="#FF8C00"/>
<rect x="526.75" y="113" width="5.39" height="1.5" fill="#FF3030"/>
<rect x="526.75" y="114.5" width="5.39" height="0.3" fill="#F08080"/>
<rect x="532.74" y="3.8" width="5.39" height="43.2" fill="#8B008B"/>
<rect x="532.74" y="47" width="5.39" height="10.9" fill="#00008B"/>
<rect x="532.74" y="57.9" width="5.39" height="24" fill="#1E90FF"/>
<rect x="532.74" y="81.9" width="5.39" height="8.2" fill="#8470FF"/>
<rect x="532.74" y="90.1" width="5.39" height="18.7" fill="#228B22"/>
<rect x="532.74" y="108.8" width="5.39" height="2.1" fill="#FFD700"/>
<rect x="532.74" y="110.9" width="5.39" height="1.1" fill="#FF8C00"/>
<rect x="532.74" y="112" width="5.39" height="2.5" fill="#FF3030"/>
<rect x="532.74" y="114.5" width="5.39" height="0.3" fill="#F08080"/>
<rect x="538.72" y="3.5" width="5.39" height="31" fill="#8B008B"/>
<rect x="538.72" y="34.5" width="5.39" height="21.3" fill="#00008B"/>
<rect x="538.72" y="55.8" width="5.39" height="25.4" fill="#1E90FF"/>
<rect x="538.72" y="81.2" width="5.39" height="12.5" fill="#8470FF"/>
<rect x="538.72" y="93.7" width="5.39" height="13.2" fill="#228B22"/>
<rect x="538.72" y="106.9" width="5.39" height="2.1" fill="#98FB98"/>
<rect x="538.72" y="109" width="5.39" height="2.7" fill="#FFD700"/>
<rect x="538.72" y="111.7" width="5.39" height="1.3" fill="#FF8C00"/>
<rect x="538.72" y="113" width="5.39" height="1.5" fill="#FF3030"/>
<rect x="538.72" y="114.5" width="5.39" height="0.3" fill="#F08080"/>
<rect x="544.71" y="3.8" width="5.39" height="37.2" fill="#8B008B"/>
<rect x="544.71" y="41" width="5.39" height="13" fill="#00008B"/>
<rect x="544.71" y="54" width="5.39" height="24.2" fill="#1E90FF"/>
<rect x="544.71" y="78.2" width="5.39" height="12.1" fill="#8470FF"/>
<rect x="544.71" y="90.3" width="5.39" height="13.1" fill="#228B22"/>
<rect x="544.71" y="103.4" width="5.39" height="5.4" fill="#98FB98"/>
<rect x="544.71" y="108.8" width="5.39" height="2.9" fill="#FFD700"/>
<rect x="544.71" y="111.7" width="5.39" height="1.3" fill="#FF8C00"/>
<rect x="544.71" y="113" width="5.39" height="1.5" fill="#FF3030"/>
<rect x="544.71" y="114.5" width="5.39" height="0.3" fill="#F08080"/>
<rect x="550.7" y="3.8" width="5.39" height="50.2" fill="#8B008B"/>
<rect x="550.7" y="54" width="5.39" height="11.2" fill="#00008B"/>
<rect x="550.7" y="65.2" width="5.39" height="22.9" fill="#1E90FF"/>
<rect x="550.7" y="88.1" width="5.39" height="2.9" fill="#8470FF"/>
<rect x="550.7" y="91" width="5.39" height="17.8" fill="#228B22"/>
<rect x="550.7" y="108.8" width="5.39" height="0.7" fill="#FFD700"/>
<rect x="550.7" y="109.5" width="5.39" height="2.5" fill="#FF8C00"/>
<rect x="550.7" y="112" width="5.39" height="2.5" fill="#FF3030"/>
<rect x="550.7" y="114.5" width="5.39" height="0.3" fill="#F08080"/>
<rect x="556.68" y="3.8" width="5.39" height="38.5" fill="#8B008B"/>
<rect x="556.68" y="42.3" width="5.39" height="10.1" fill="#00008B"/>
<rect x="556.68" y="52.4" width="5.39" height="25.3" fill="#1E90FF"/>
<rect x="556.68" y="77.7" width="5.39" height="13.3" fill="#8470FF"/>
<rect x="556.68" y="91" width="5.39" height="13" fill="#228B22"/>
<rect x="556.68" y="104" width="5.39" height="3.2" fill="#98FB98"/>
<rect x="556.68" y="107.2" width="5.39" height="4.5" fill="#FFD700"/>
<rect x="556.68" y="111.7" width="5.39" height="1.3" fill="#FF8C00"/>
<rect x="556.68" y="113" width="5.39" height="1.5" fill="#FF3030"/>
<rect x="556.68" y="114.5" width="5.39" height="0.3" fill="#F08080"/>
<rect x="562.67" y="3.8" width="5.39" height="44.5" fill="#8B008B"/>
<rect x="562.67" y="48.3" width="5.39" height="11.8" fill="#00008B"/>
<rect x="562.67" y="60.1" width="5.39" height="21.6" fill="#1E90FF"/>
<rect x="562.67" y="81.7" width="5.39" height="8.3" fill="#8470FF"/>
<rect x="562.67" y="90" width="5.39" height="18.8" fill="#228B22"/>
<rect x="562.67" y="108.8" width="5.39" height="2.9" fill="#FFD700"/>
<rect x="562.67" y="111.7" width="5.39" height="1.3" fill="#FF8C00"/>
<rect x="562.67" y="113" width="5.39" height="1.5" fill="#FF3030"/>
<rect x="562.67" y="114.5" width="5.39" height="0.3" fill="#F08080"/>
<rect x="568.65" y="3.3" width="5.39" height="33.1" fill="#8B008B"/>
<rect x="568.65" y="36.4" width="5.39" height="20.4" fill="#00008B"/>
<rect x="568.65" y="56.8" width="5.39" height="27" fill="#1E90FF"/>
<rect x="568.65" y="83.8" width="5.39" height="9.1" fill="#8470FF"/>
<rect x="568.65" y="92.9" width="5.39" height="12.7" fill="#228B22"/>
<rect x="568.65" y="105.6" width="5.39" height="3.7" fill="#FFD700"/>
<rect x="568.65" y="109.3" width="5.39" height="2.4" fill="#FF8C00"/>
<rect x="568.65" y="111.7" width="5.39" height="2.8" fill="#FF3030"/>
<rect x="568.65" y="114.5" width="5.39" height="0.3" fill="#F08080"/>
<rect x="574.64" y="3.8" width="5.39" height="42.4" fill="#8B008B"/>
<rect x="574.64" y="46.2" width="5.39" height="10.5" fill="#00008B"/>
<rect x="574.64" y="56.7" width="5.39" height="22.8" fill="#1E90FF"/>
<rect x="574.64" y="79.5" width="5.39" height="12.4" fill="#8470FF"/>
<rect x="574.64" y="91.9" width="5.39" height="12.1" fill="#228B22"/>
<rect x="574.64" y="104" width="5.39" height="4.8" fill="#98FB98"/>
<rect x="574.64" y="108.8" width="5.39" height="2.9" fill="#FFD700"/>
<rect x="574.64" y="111.7" width="5.39" height="1.3" fill="#FF8C00"/>
<rect x="574.64" y="113" width="5.39" height="1.5" fill="#FF3030"/>
<rect x="574.64" y="114.5" width="5.39" height="0.3" fill="#F08080"/>
<rect x="580.63" y="3.8" width="5.39" height="32.2" fill="#8B008B"/>
<rect x="580.63" y="36" width="5.39" height="12" fill="#00008B"/>
<rect x="580.63" y="48" width="5.39" height="24.6" fill="#1E90FF"/>
<rect x="580.63" y="72.6" width="5.39" height="17.4" fill="#8470FF"/>
<rect x="580.63" y="90" width="5.39" height="11.8" fill="#228B22"/>
<rect x="580.63" y="101.8" width="5.39" height="6.4" fill="#98FB98"/>
<rect x="580.63" y="108.2" width="5.39" height="3.2" fill="#FFD700"/>
<rect x="580.63" y="111.4" width="5.39" height="1.4" fill="#FF8C00"/>
<rect x="580.63" y="112.8" width="5.39" height="1.7" fill="#FF3030"/>
<rect x="580.63" y="114.5" width="5.39" height="0.3" fill="#F08080"/>
<rect x="586.61" y="3.8" width="5.39" height="28.3" fill="#8B008B"/>
<rect x="586.61" y="32.1" width="5.39" height="22.8" fill="#00008B"/>
<rect x="586.61" y="54.9" width="5.39" height="18.7" fill="#1E90FF"/>
<rect x="586.61" y="73.6" width="5.39" height="18.9" fill="#8470FF"/>
<rect x="586.61" y="92.5" width="5.39" height="10.4" fill="#228B22"/>
<rect x="586.61" y="102.9" width="5.39" height="4.3" fill="#98FB98"/>
<rect x="586.61" y="107.2" width="5.39" height="4.5" fill="#FFD700"/>
<rect x="586.61" y="111.7" width="5.39" height="1.3" fill="#FF8C00"/>
<rect x="586.61" y="113" width="5.39" height="1.5" fill="#FF3030"/>
<rect x="586.61" y="114.5" width="5.39" height="0.3" fill="#F08080"/>
<rect x="592.6" y="3.8" width="5.39" height="28.3" fill="#8B008B"/>
<rect x="592.6" y="32.1" width="5.39" height="17.5" fill="#00008B"/>
<rect x="592.6" y="49.6" width="5.39" height="18" fill="#1E90FF"/>
<rect x="592.6" y="67.6" width="5.39" height="22.4" fill="#8470FF"/>
<rect x="592.6" y="90" width="5.39" height="12.9" fill="#228B22"/>
<rect x="592.6" y="102.9" width="5.39" height="6.4" fill="#FFD700"/>
<rect x="592.6" y="109.3" width="5.39" height="0.8" fill="#FF8C00"/>
<rect x="592.6" y="110.1" width="5.39" height="4.4" fill="#FF3030"/>
<rect x="592.6" y="114.5" width="5.39" height="0.3" fill="#F08080"/>
<rect x="598.58" y="3.8" width="5.39" height="34" fill="#8B008B"/>
<rect x="598.58" y="37.8" width="5.39" height="16.2" fill="#00008B"/>
<rect x="598.58" y="54" width="5.39" height="21.8" fill="#1E90FF"/>
<rect x="598.58" y="75.8" width="5.39" height="18.3" fill="#8470FF"/>
<rect x="598.58" y="94.1" width="5.39" height="12" fill="#228B22"/>
<rect x="598.58" y="106.1" width="5.39" height="4" fill="#FFD700"/>
<rect x="598.58" y="110.1" width="5.39" height="1.6" fill="#FF8C00"/>
<rect x="598.58" y="111.7" width="5.39" height="2.8" fill="#FF3030"/>
<rect x="598.58" y="114.5" width="5.39" height="0.3" fill="#F08080"/>
<rect x="604.57" y="3.8" width="5.39" height="29.4" fill="#8B008B"/>
<rect x="604.57" y="33.2" width="5.39" height="11.5" fill="#00008B"/>
<rect x="604.57" y="44.7" width="5.39" height="24.2" fill="#1E90FF"/>
<rect x="604.57" y="68.9" width="5.39" height="18.2" fill="#8470FF"/>
<rect x="604.57" y="87.1" width="5.39" height="13.7" fill="#228B22"/>
<rect x="604.57" y="100.8" width="5.39" height="7.4" fill="#98FB98"/>
<rect x="604.57" y="108.2" width="5.39" height="2.7" fill="#FFD700"/>
<rect x="604.57" y="110.9" width="5.39" height="1.6" fill="#FF8C00"/>
<rect x="604.57" y="112.5" width="5.39" height="2" fill="#FF3030"/>
<rect x="604.57" y="114.5" width="5.39" height="0.3" fill="#F08080"/>
<rect x="610.56" y="3.8" width="5.39" height="17.1" fill="#8B008B"/>
<rect x="610.56" y="20.9" width="5.39" height="40" fill="#00008B"/>
<rect x="610.56" y="60.9" width="5.39" height="12.3" fill="#1E90FF"/>
<rect x="610.56" y="73.2" width="5.39" height="17.8" fill="#8470FF"/>
<rect x="610.56" y="91" width="5.39" height="15.9" fill="#228B22"/>
<rect x="610.56" y="106.9" width="5.39" height="4" fill="#FFD700"/>
<rect x="610.56" y="110.9" width="5.39" height="3.6" fill="#FF3030"/>
<rect x="610.56" y="114.5" width="5.39" height="0.3" fill="#F08080"/>
<rect x="616.54" y="3.8" width="5.39" height="37.2" fill="#8B008B"/>
<rect x="616.54" y="41" width="5.39" height="13.5" fill="#00008B"/>
<rect x="616.54" y="54.5" width="5.39" height="20.9" fill="#1E90FF"/>
<rect x="616.54" y="75.4" width="5.39" height="16.3" fill="#8470FF"/>
<rect x="616.54" y="91.7" width="5.39" height="14.4" fill="#228B22"/>
<rect x="616.54" y="106.1" width="5.39" height="4" fill="#FFD700"/>
<rect x="616.54" y="110.1" width="5.39" height="1.6" fill="#FF8C00"/>
<rect x="616.54" y="111.7" width="5.39" height="2.8" fill="#FF3030"/>
<rect x="616.54" y="114.5" width="5.39" height="0.3" fill="#F08080"/>
<line x1="33.2" x2="35" y1="114.8" y2="114.8" stroke="#333" stroke-width="0.5"/>
<text transform="translate(32.3,117.4) scale(1,1.22)" font-size="6" fill="#4D4D4D" text-anchor="end">0</text>
<line x1="33.2" x2="35" y1="86.95" y2="86.95" stroke="#333" stroke-width="0.5"/>
<text transform="translate(32.3,89.55) scale(1,1.22)" font-size="6" fill="#4D4D4D" text-anchor="end">0.25</text>
<line x1="33.2" x2="35" y1="59.1" y2="59.1" stroke="#333" stroke-width="0.5"/>
<text transform="translate(32.3,61.7) scale(1,1.22)" font-size="6" fill="#4D4D4D" text-anchor="end">0.5</text>
<line x1="33.2" x2="35" y1="31.25" y2="31.25" stroke="#333" stroke-width="0.5"/>
<text transform="translate(32.3,33.85) scale(1,1.22)" font-size="6" fill="#4D4D4D" text-anchor="end">0.75</text>
<line x1="33.2" x2="35" y1="3.4" y2="3.4" stroke="#333" stroke-width="0.5"/>
<text transform="translate(32.3,6) scale(1,1.22)" font-size="6" fill="#4D4D4D" text-anchor="end">1</text>
<rect x="35" y="146.8" width="587.8" height="112.2" fill="#EBEBEB"/>
<line x1="35" x2="622.8" y1="247.78" y2="247.78" stroke="#fff" stroke-width="0.45"/>
<line x1="35" x2="622.8" y1="225.34" y2="225.34" stroke="#fff" stroke-width="0.45"/>
<line x1="35" x2="622.8" y1="202.9" y2="202.9" stroke="#fff" stroke-width="0.45"/>
<line x1="35" x2="622.8" y1="180.46" y2="180.46" stroke="#fff" stroke-width="0.45"/>
<line x1="35" x2="622.8" y1="158.02" y2="158.02" stroke="#fff" stroke-width="0.45"/>
<line x1="35" x2="622.8" y1="259" y2="259" stroke="#fff" stroke-width="0.8"/>
<line x1="35" x2="622.8" y1="236.56" y2="236.56" stroke="#fff" stroke-width="0.8"/>
<line x1="35" x2="622.8" y1="214.12" y2="214.12" stroke="#fff" stroke-width="0.8"/>
<line x1="35" x2="622.8" y1="191.68" y2="191.68" stroke="#fff" stroke-width="0.8"/>
<line x1="35" x2="622.8" y1="169.24" y2="169.24" stroke="#fff" stroke-width="0.8"/>
<line x1="35" x2="622.8" y1="146.8" y2="146.8" stroke="#fff" stroke-width="0.8"/>
<line x1="39.09" x2="39.09" y1="146.8" y2="259" stroke="#fff" stroke-width="0.45"/>
<line x1="45.08" x2="45.08" y1="146.8" y2="259" stroke="#fff" stroke-width="0.45"/>
<line x1="51.07" x2="51.07" y1="146.8" y2="259" stroke="#fff" stroke-width="0.45"/>
<line x1="57.05" x2="57.05" y1="146.8" y2="259" stroke="#fff" stroke-width="0.45"/>
<line x1="63.04" x2="63.04" y1="146.8" y2="259" stroke="#fff" stroke-width="0.45"/>
<line x1="69.02" x2="69.02" y1="146.8" y2="259" stroke="#fff" stroke-width="0.45"/>
<line x1="75.01" x2="75.01" y1="146.8" y2="259" stroke="#fff" stroke-width="0.45"/>
<line x1="81" x2="81" y1="146.8" y2="259" stroke="#fff" stroke-width="0.45"/>
<line x1="86.98" x2="86.98" y1="146.8" y2="259" stroke="#fff" stroke-width="0.45"/>
<line x1="92.97" x2="92.97" y1="146.8" y2="259" stroke="#fff" stroke-width="0.45"/>
<line x1="98.95" x2="98.95" y1="146.8" y2="259" stroke="#fff" stroke-width="0.45"/>
<line x1="104.94" x2="104.94" y1="146.8" y2="259" stroke="#fff" stroke-width="0.45"/>
<line x1="110.93" x2="110.93" y1="146.8" y2="259" stroke="#fff" stroke-width="0.45"/>
<line x1="116.91" x2="116.91" y1="146.8" y2="259" stroke="#fff" stroke-width="0.45"/>
<line x1="122.9" x2="122.9" y1="146.8" y2="259" stroke="#fff" stroke-width="0.45"/>
<line x1="128.88" x2="128.88" y1="146.8" y2="259" stroke="#fff" stroke-width="0.45"/>
<line x1="134.87" x2="134.87" y1="146.8" y2="259" stroke="#fff" stroke-width="0.45"/>
<line x1="140.86" x2="140.86" y1="146.8" y2="259" stroke="#fff" stroke-width="0.45"/>
<line x1="146.84" x2="146.84" y1="146.8" y2="259" stroke="#fff" stroke-width="0.45"/>
<line x1="152.83" x2="152.83" y1="146.8" y2="259" stroke="#fff" stroke-width="0.45"/>
<line x1="158.81" x2="158.81" y1="146.8" y2="259" stroke="#fff" stroke-width="0.45"/>
<line x1="164.8" x2="164.8" y1="146.8" y2="259" stroke="#fff" stroke-width="0.45"/>
<line x1="170.79" x2="170.79" y1="146.8" y2="259" stroke="#fff" stroke-width="0.45"/>
<line x1="176.77" x2="176.77" y1="146.8" y2="259" stroke="#fff" stroke-width="0.45"/>
<line x1="182.76" x2="182.76" y1="146.8" y2="259" stroke="#fff" stroke-width="0.45"/>
<line x1="188.74" x2="188.74" y1="146.8" y2="259" stroke="#fff" stroke-width="0.45"/>
<line x1="194.73" x2="194.73" y1="146.8" y2="259" stroke="#fff" stroke-width="0.45"/>
<line x1="200.72" x2="200.72" y1="146.8" y2="259" stroke="#fff" stroke-width="0.45"/>
<line x1="206.7" x2="206.7" y1="146.8" y2="259" stroke="#fff" stroke-width="0.45"/>
<line x1="212.69" x2="212.69" y1="146.8" y2="259" stroke="#fff" stroke-width="0.45"/>
<line x1="218.67" x2="218.67" y1="146.8" y2="259" stroke="#fff" stroke-width="0.45"/>
<line x1="224.66" x2="224.66" y1="146.8" y2="259" stroke="#fff" stroke-width="0.45"/>
<line x1="230.65" x2="230.65" y1="146.8" y2="259" stroke="#fff" stroke-width="0.45"/>
<line x1="236.63" x2="236.63" y1="146.8" y2="259" stroke="#fff" stroke-width="0.45"/>
<line x1="242.62" x2="242.62" y1="146.8" y2="259" stroke="#fff" stroke-width="0.45"/>
<line x1="248.6" x2="248.6" y1="146.8" y2="259" stroke="#fff" stroke-width="0.45"/>
<line x1="254.59" x2="254.59" y1="146.8" y2="259" stroke="#fff" stroke-width="0.45"/>
<line x1="260.58" x2="260.58" y1="146.8" y2="259" stroke="#fff" stroke-width="0.45"/>
<line x1="266.56" x2="266.56" y1="146.8" y2="259" stroke="#fff" stroke-width="0.45"/>
<line x1="272.55" x2="272.55" y1="146.8" y2="259" stroke="#fff" stroke-width="0.45"/>
<line x1="278.53" x2="278.53" y1="146.8" y2="259" stroke="#fff" stroke-width="0.45"/>
<line x1="284.52" x2="284.52" y1="146.8" y2="259" stroke="#fff" stroke-width="0.45"/>
<line x1="290.51" x2="290.51" y1="146.8" y2="259" stroke="#fff" stroke-width="0.45"/>
<line x1="296.49" x2="296.49" y1="146.8" y2="259" stroke="#fff" stroke-width="0.45"/>
<line x1="302.48" x2="302.48" y1="146.8" y2="259" stroke="#fff" stroke-width="0.45"/>
<line x1="308.46" x2="308.46" y1="146.8" y2="259" stroke="#fff" stroke-width="0.45"/>
<line x1="314.45" x2="314.45" y1="146.8" y2="259" stroke="#fff" stroke-width="0.45"/>
<line x1="320.44" x2="320.44" y1="146.8" y2="259" stroke="#fff" stroke-width="0.45"/>
<line x1="326.42" x2="326.42" y1="146.8" y2="259" stroke="#fff" stroke-width="0.45"/>
<line x1="332.41" x2="332.41" y1="146.8" y2="259" stroke="#fff" stroke-width="0.45"/>
<line x1="338.39" x2="338.39" y1="146.8" y2="259" stroke="#fff" stroke-width="0.45"/>
<line x1="344.38" x2="344.38" y1="146.8" y2="259" stroke="#fff" stroke-width="0.45"/>
<line x1="350.37" x2="350.37" y1="146.8" y2="259" stroke="#fff" stroke-width="0.45"/>
<line x1="356.35" x2="356.35" y1="146.8" y2="259" stroke="#fff" stroke-width="0.45"/>
<line x1="362.34" x2="362.34" y1="146.8" y2="259" stroke="#fff" stroke-width="0.45"/>
<line x1="368.32" x2="368.32" y1="146.8" y2="259" stroke="#fff" stroke-width="0.45"/>
<line x1="374.31" x2="374.31" y1="146.8" y2="259" stroke="#fff" stroke-width="0.45"/>
<line x1="380.3" x2="380.3" y1="146.8" y2="259" stroke="#fff" stroke-width="0.45"/>
<line x1="386.28" x2="386.28" y1="146.8" y2="259" stroke="#fff" stroke-width="0.45"/>
<line x1="392.27" x2="392.27" y1="146.8" y2="259" stroke="#fff" stroke-width="0.45"/>
<line x1="398.25" x2="398.25" y1="146.8" y2="259" stroke="#fff" stroke-width="0.45"/>
<line x1="404.24" x2="404.24" y1="146.8" y2="259" stroke="#fff" stroke-width="0.45"/>
<line x1="410.23" x2="410.23" y1="146.8" y2="259" stroke="#fff" stroke-width="0.45"/>
<line x1="416.21" x2="416.21" y1="146.8" y2="259" stroke="#fff" stroke-width="0.45"/>
<line x1="422.2" x2="422.2" y1="146.8" y2="259" stroke="#fff" stroke-width="0.45"/>
<line x1="428.18" x2="428.18" y1="146.8" y2="259" stroke="#fff" stroke-width="0.45"/>
<line x1="434.17" x2="434.17" y1="146.8" y2="259" stroke="#fff" stroke-width="0.45"/>
<line x1="440.16" x2="440.16" y1="146.8" y2="259" stroke="#fff" stroke-width="0.45"/>
<line x1="446.14" x2="446.14" y1="146.8" y2="259" stroke="#fff" stroke-width="0.45"/>
<line x1="452.13" x2="452.13" y1="146.8" y2="259" stroke="#fff" stroke-width="0.45"/>
<line x1="458.11" x2="458.11" y1="146.8" y2="259" stroke="#fff" stroke-width="0.45"/>
<line x1="464.1" x2="464.1" y1="146.8" y2="259" stroke="#fff" stroke-width="0.45"/>
<line x1="470.09" x2="470.09" y1="146.8" y2="259" stroke="#fff" stroke-width="0.45"/>
<line x1="476.07" x2="476.07" y1="146.8" y2="259" stroke="#fff" stroke-width="0.45"/>
<line x1="482.06" x2="482.06" y1="146.8" y2="259" stroke="#fff" stroke-width="0.45"/>
<line x1="488.04" x2="488.04" y1="146.8" y2="259" stroke="#fff" stroke-width="0.45"/>
<line x1="494.03" x2="494.03" y1="146.8" y2="259" stroke="#fff" stroke-width="0.45"/>
<line x1="500.02" x2="500.02" y1="146.8" y2="259" stroke="#fff" stroke-width="0.45"/>
<line x1="506" x2="506" y1="146.8" y2="259" stroke="#fff" stroke-width="0.45"/>
<line x1="511.99" x2="511.99" y1="146.8" y2="259" stroke="#fff" stroke-width="0.45"/>
<line x1="517.97" x2="517.97" y1="146.8" y2="259" stroke="#fff" stroke-width="0.45"/>
<line x1="523.96" x2="523.96" y1="146.8" y2="259" stroke="#fff" stroke-width="0.45"/>
<line x1="529.95" x2="529.95" y1="146.8" y2="259" stroke="#fff" stroke-width="0.45"/>
<line x1="535.93" x2="535.93" y1="146.8" y2="259" stroke="#fff" stroke-width="0.45"/>
<line x1="541.92" x2="541.92" y1="146.8" y2="259" stroke="#fff" stroke-width="0.45"/>
<line x1="547.9" x2="547.9" y1="146.8" y2="259" stroke="#fff" stroke-width="0.45"/>
<line x1="553.89" x2="553.89" y1="146.8" y2="259" stroke="#fff" stroke-width="0.45"/>
<line x1="559.88" x2="559.88" y1="146.8" y2="259" stroke="#fff" stroke-width="0.45"/>
<line x1="565.86" x2="565.86" y1="146.8" y2="259" stroke="#fff" stroke-width="0.45"/>
<line x1="571.85" x2="571.85" y1="146.8" y2="259" stroke="#fff" stroke-width="0.45"/>
<line x1="577.83" x2="577.83" y1="146.8" y2="259" stroke="#fff" stroke-width="0.45"/>
<line x1="583.82" x2="583.82" y1="146.8" y2="259" stroke="#fff" stroke-width="0.45"/>
<line x1="589.81" x2="589.81" y1="146.8" y2="259" stroke="#fff" stroke-width="0.45"/>
<line x1="595.79" x2="595.79" y1="146.8" y2="259" stroke="#fff" stroke-width="0.45"/>
<line x1="601.78" x2="601.78" y1="146.8" y2="259" stroke="#fff" stroke-width="0.45"/>
<line x1="607.76" x2="607.76" y1="146.8" y2="259" stroke="#fff" stroke-width="0.45"/>
<line x1="613.75" x2="613.75" y1="146.8" y2="259" stroke="#fff" stroke-width="0.45"/>
<line x1="619.74" x2="619.74" y1="146.8" y2="259" stroke="#fff" stroke-width="0.45"/>
<rect x="35.9" y="239.3" width="5.39" height="17.5" fill="#8B008B"/>
<rect x="35.9" y="256.8" width="5.39" height="0.1" fill="#00008B"/>
<rect x="35.9" y="256.9" width="5.39" height="0.6" fill="#1E90FF"/>
<rect x="35.9" y="257.5" width="5.39" height="0.1" fill="#98FB98"/>
<rect x="35.9" y="257.6" width="5.39" height="0.9" fill="#FFD700"/>
<rect x="35.9" y="258.5" width="5.39" height="0.1" fill="#FF8C00"/>
<rect x="35.9" y="258.6" width="5.39" height="0.1" fill="#FF3030"/>
<rect x="35.9" y="258.7" width="5.39" height="0.1" fill="#F08080"/>
<rect x="35.9" y="258.8" width="5.39" height="0.2" fill="#000000"/>
<rect x="41.89" y="241.9" width="5.39" height="14.2" fill="#8B008B"/>
<rect x="41.89" y="256.1" width="5.39" height="0.5" fill="#00008B"/>
<rect x="41.89" y="256.6" width="5.39" height="0.6" fill="#1E90FF"/>
<rect x="41.89" y="257.2" width="5.39" height="0.3" fill="#8470FF"/>
<rect x="41.89" y="257.5" width="5.39" height="0.2" fill="#228B22"/>
<rect x="41.89" y="257.7" width="5.39" height="0.2" fill="#98FB98"/>
<rect x="41.89" y="257.9" width="5.39" height="0.7" fill="#FFD700"/>
<rect x="41.89" y="258.6" width="5.39" height="0.1" fill="#FF8C00"/>
<rect x="41.89" y="258.7" width="5.39" height="0.1" fill="#FF3030"/>
<rect x="41.89" y="258.8" width="5.39" height="0.2" fill="#000000"/>
<rect x="47.87" y="232.9" width="5.39" height="19.1" fill="#8B008B"/>
<rect x="47.87" y="252" width="5.39" height="0.8" fill="#00008B"/>
<rect x="47.87" y="252.8" width="5.39" height="1.4" fill="#1E90FF"/>
<rect x="47.87" y="254.2" width="5.39" height="0.9" fill="#8470FF"/>
<rect x="47.87" y="255.1" width="5.39" height="0.8" fill="#98FB98"/>
<rect x="47.87" y="255.9" width="5.39" height="0.8" fill="#FFD700"/>
<rect x="47.87" y="256.7" width="5.39" height="0.8" fill="#FF8C00"/>
<rect x="47.87" y="257.5" width="5.39" height="0.5" fill="#FF3030"/>
<rect x="47.87" y="258" width="5.39" height="0.1" fill="#F08080"/>
<rect x="47.87" y="258.1" width="5.39" height="0.9" fill="#000000"/>
<rect x="53.86" y="237.2" width="5.39" height="2.1" fill="#8B008B"/>
<rect x="53.86" y="239.3" width="5.39" height="4.6" fill="#00008B"/>
<rect x="53.86" y="243.9" width="5.39" height="3" fill="#1E90FF"/>
<rect x="53.86" y="246.9" width="5.39" height="1.9" fill="#8470FF"/>
<rect x="53.86" y="248.8" width="5.39" height="2" fill="#228B22"/>
<rect x="53.86" y="250.8" width="5.39" height="2.5" fill="#98FB98"/>
<rect x="53.86" y="253.3" width="5.39" height="1.4" fill="#FFD700"/>
<rect x="53.86" y="254.7" width="5.39" height="1.5" fill="#FF8C00"/>
<rect x="53.86" y="256.2" width="5.39" height="1.1" fill="#FF3030"/>
<rect x="53.86" y="257.3" width="5.39" height="0.3" fill="#F08080"/>
<rect x="53.86" y="257.6" width="5.39" height="1.4" fill="#000000"/>
<rect x="59.84" y="237.4" width="5.39" height="2.3" fill="#8B008B"/>
<rect x="59.84" y="239.7" width="5.39" height="4.2" fill="#00008B"/>
<rect x="59.84" y="243.9" width="5.39" height="2.5" fill="#1E90FF"/>
<rect x="59.84" y="246.4" width="5.39" height="2.4" fill="#8470FF"/>
<rect x="59.84" y="248.8" width="5.39" height="2" fill="#228B22"/>
<rect x="59.84" y="250.8" width="5.39" height="2.5" fill="#98FB98"/>
<rect x="59.84" y="253.3" width="5.39" height="1.4" fill="#FFD700"/>
<rect x="59.84" y="254.7" width="5.39" height="1.5" fill="#FF8C00"/>
<rect x="59.84" y="256.2" width="5.39" height="1.1" fill="#FF3030"/>
<rect x="59.84" y="257.3" width="5.39" height="0.3" fill="#F08080"/>
<rect x="59.84" y="257.6" width="5.39" height="1.4" fill="#000000"/>
<rect x="65.83" y="236.1" width="5.39" height="2.8" fill="#8B008B"/>
<rect x="65.83" y="238.9" width="5.39" height="3" fill="#00008B"/>
<rect x="65.83" y="241.9" width="5.39" height="4.5" fill="#1E90FF"/>
<rect x="65.83" y="246.4" width="5.39" height="0.9" fill="#8470FF"/>
<rect x="65.83" y="247.3" width="5.39" height="1.3" fill="#228B22"/>
<rect x="65.83" y="248.6" width="5.39" height="3.4" fill="#98FB98"/>
<rect x="65.83" y="252" width="5.39" height="2" fill="#FFD700"/>
<rect x="65.83" y="254" width="5.39" height="1.9" fill="#FF8C00"/>
<rect x="65.83" y="255.9" width="5.39" height="0.9" fill="#FF3030"/>
<rect x="65.83" y="256.8" width="5.39" height="0.2" fill="#F08080"/>
<rect x="65.83" y="257" width="5.39" height="2" fill="#000000"/>
<rect x="71.82" y="235.2" width="5.39" height="4.2" fill="#8B008B"/>
<rect x="71.82" y="239.4" width="5.39" height="3" fill="#00008B"/>
<rect x="71.82" y="242.4" width="5.39" height="1.7" fill="#1E90FF"/>
<rect x="71.82" y="244.1" width="5.39" height="1.7" fill="#8470FF"/>
<rect x="71.82" y="245.8" width="5.39" height="2.2" fill="#228B22"/>
<rect x="71.82" y="248" width="5.39" height="4.5" fill="#98FB98"/>
<rect x="71.82" y="252.5" width="5.39" height="1.5" fill="#FFD700"/>
<rect x="71.82" y="254" width="5.39" height="1.5" fill="#FF8C00"/>
<rect x="71.82" y="255.5" width="5.39" height="0.3" fill="#FF3030"/>
<rect x="71.82" y="255.8" width="5.39" height="0.1" fill="#F08080"/>
<rect x="71.82" y="255.9" width="5.39" height="3.1" fill="#000000"/>
<rect x="77.8" y="238" width="5.39" height="2.8" fill="#8B008B"/>
<rect x="77.8" y="240.8" width="5.39" height="3.5" fill="#00008B"/>
<rect x="77.8" y="244.3" width="5.39" height="2.6" fill="#1E90FF"/>
<rect x="77.8" y="246.9" width="5.39" height="2.6" fill="#8470FF"/>
<rect x="77.8" y="249.5" width="5.39" height="1.1" fill="#228B22"/>
<rect x="77.8" y="250.6" width="5.39" height="2.2" fill="#98FB98"/>
<rect x="77.8" y="252.8" width="5.39" height="1.6" fill="#FFD700"/>
<rect x="77.8" y="254.4" width="5.39" height="1.7" fill="#FF8C00"/>
<rect x="77.8" y="256.1" width="5.39" height="1.2" fill="#FF3030"/>
<rect x="77.8" y="257.3" width="5.39" height="0.3" fill="#F08080"/>
<rect x="77.8" y="257.6" width="5.39" height="1.4" fill="#000000"/>
<rect x="83.79" y="234.1" width="5.39" height="3.1" fill="#8B008B"/>
<rect x="83.79" y="237.2" width="5.39" height="4.7" fill="#00008B"/>
<rect x="83.79" y="241.9" width="5.39" height="2" fill="#1E90FF"/>
<rect x="83.79" y="243.9" width="5.39" height="3" fill="#8470FF"/>
<rect x="83.79" y="246.9" width="5.39" height="3.4" fill="#228B22"/>
<rect x="83.79" y="250.3" width="5.39" height="1.1" fill="#98FB98"/>
<rect x="83.79" y="251.4" width="5.39" height="1.4" fill="#FFD700"/>
<rect x="83.79" y="252.8" width="5.39" height="1.9" fill="#FF8C00"/>
<rect x="83.79" y="254.7" width="5.39" height="1.5" fill="#FF3030"/>
<rect x="83.79" y="256.2" width="5.39" height="1.2" fill="#F08080"/>
<rect x="83.79" y="257.4" width="5.39" height="1.6" fill="#000000"/>
<rect x="89.77" y="221.4" width="5.39" height="3.5" fill="#8B008B"/>
<rect x="89.77" y="224.9" width="5.39" height="8.1" fill="#00008B"/>
<rect x="89.77" y="233" width="5.39" height="3.1" fill="#1E90FF"/>
<rect x="89.77" y="236.1" width="5.39" height="3.4" fill="#8470FF"/>
<rect x="89.77" y="239.5" width="5.39" height="4.4" fill="#228B22"/>
<rect x="89.77" y="243.9" width="5.39" height="1.9" fill="#98FB98"/>
<rect x="89.77" y="245.8" width="5.39" height="2.8" fill="#FFD700"/>
<rect x="89.77" y="248.6" width="5.39" height="1.3" fill="#FF8C00"/>
<rect x="89.77" y="249.9" width="5.39" height="0.9" fill="#FF3030"/>
<rect x="89.77" y="250.8" width="5.39" height="6.2" fill="#F08080"/>
<rect x="89.77" y="257" width="5.39" height="2" fill="#000000"/>
<rect x="95.76" y="238" width="5.39" height="2.8" fill="#8B008B"/>
<rect x="95.76" y="240.8" width="5.39" height="3.3" fill="#00008B"/>
<rect x="95.76" y="244.1" width="5.39" height="2.3" fill="#1E90FF"/>
<rect x="95.76" y="246.4" width="5.39" height="2.4" fill="#8470FF"/>
<rect x="95.76" y="248.8" width="5.39" height="2" fill="#228B22"/>
<rect x="95.76" y="250.8" width="5.39" height="2.5" fill="#98FB98"/>
<rect x="95.76" y="253.3" width="5.39" height="1.4" fill="#FFD700"/>
<rect x="95.76" y="254.7" width="5.39" height="1.7" fill="#FF8C00"/>
<rect x="95.76" y="256.4" width="5.39" height="0.9" fill="#FF3030"/>
<rect x="95.76" y="257.3" width="5.39" height="0.3" fill="#F08080"/>
<rect x="95.76" y="257.6" width="5.39" height="1.4" fill="#000000"/>
<rect x="101.75" y="234.8" width="5.39" height="6" fill="#8B008B"/>
<rect x="101.75" y="240.8" width="5.39" height="3.3" fill="#00008B"/>
<rect x="101.75" y="244.1" width="5.39" height="2.8" fill="#1E90FF"/>
<rect x="101.75" y="246.9" width="5.39" height="1.9" fill="#8470FF"/>
<rect x="101.75" y="248.8" width="5.39" height="2.6" fill="#228B22"/>
<rect x="101.75" y="251.4" width="5.39" height="1.1" fill="#98FB98"/>
<rect x="101.75" y="252.5" width="5.39" height="1.7" fill="#FFD700"/>
<rect x="101.75" y="254.2" width="5.39" height="2.2" fill="#FF8C00"/>
<rect x="101.75" y="256.4" width="5.39" height="0.9" fill="#FF3030"/>
<rect x="101.75" y="257.3" width="5.39" height="0.3" fill="#F08080"/>
<rect x="101.75" y="257.6" width="5.39" height="1.4" fill="#000000"/>
<rect x="107.73" y="238" width="5.39" height="2.2" fill="#8B008B"/>
<rect x="107.73" y="240.2" width="5.39" height="3.7" fill="#00008B"/>
<rect x="107.73" y="243.9" width="5.39" height="3" fill="#1E90FF"/>
<rect x="107.73" y="246.9" width="5.39" height="2.3" fill="#8470FF"/>
<rect x="107.73" y="249.2" width="5.39" height="1.6" fill="#228B22"/>
<rect x="107.73" y="250.8" width="5.39" height="2" fill="#98FB98"/>
<rect x="107.73" y="252.8" width="5.39" height="1.4" fill="#FFD700"/>
<rect x="107.73" y="254.2" width="5.39" height="1.7" fill="#FF8C00"/>
<rect x="107.73" y="255.9" width="5.39" height="1.1" fill="#FF3030"/>
<rect x="107.73" y="257" width="5.39" height="0.6" fill="#F08080"/>
<rect x="107.73" y="257.6" width="5.39" height="1.4" fill="#000000"/>
<rect x="113.72" y="238" width="5.39" height="2.2" fill="#8B008B"/>
<rect x="113.72" y="240.2" width="5.39" height="3.9" fill="#00008B"/>
<rect x="113.72" y="244.1" width="5.39" height="2.8" fill="#1E90FF"/>
<rect x="113.72" y="246.9" width="5.39" height="2.3" fill="#8470FF"/>
<rect x="113.72" y="249.2" width="5.39" height="1.6" fill="#228B22"/>
<rect x="113.72" y="250.8" width="5.39" height="2" fill="#98FB98"/>
<rect x="113.72" y="252.8" width="5.39" height="1.4" fill="#FFD700"/>
<rect x="113.72" y="254.2" width="5.39" height="1.7" fill="#FF8C00"/>
<rect x="113.72" y="255.9" width="5.39" height="1.1" fill="#FF3030"/>
<rect x="113.72" y="257" width="5.39" height="0.6" fill="#F08080"/>
<rect x="113.72" y="257.6" width="5.39" height="1.4" fill="#000000"/>
<rect x="119.7" y="229.8" width="5.39" height="22.2" fill="#8B008B"/>
<rect x="119.7" y="252" width="5.39" height="1.6" fill="#00008B"/>
<rect x="119.7" y="253.6" width="5.39" height="1.5" fill="#1E90FF"/>
<rect x="119.7" y="255.1" width="5.39" height="0.8" fill="#8470FF"/>
<rect x="119.7" y="255.9" width="5.39" height="0.3" fill="#228B22"/>
<rect x="119.7" y="256.2" width="5.39" height="0.3" fill="#98FB98"/>
<rect x="119.7" y="256.5" width="5.39" height="0.8" fill="#FFD700"/>
<rect x="119.7" y="257.3" width="5.39" height="0.7" fill="#FF8C00"/>
<rect x="119.7" y="258" width="5.39" height="0.3" fill="#FF3030"/>
<rect x="119.7" y="258.3" width="5.39" height="0.1" fill="#F08080"/>
<rect x="119.7" y="258.4" width="5.39" height="0.6" fill="#000000"/>
<rect x="125.69" y="236.1" width="5.39" height="3" fill="#8B008B"/>
<rect x="125.69" y="239.1" width="5.39" height="4.1" fill="#00008B"/>
<rect x="125.69" y="243.2" width="5.39" height="3.7" fill="#1E90FF"/>
<rect x="125.69" y="246.9" width="5.39" height="4.2" fill="#8470FF"/>
<rect x="125.69" y="251.1" width="5.39" height="1.7" fill="#228B22"/>
<rect x="125.69" y="252.8" width="5.39" height="0.7" fill="#98FB98"/>
<rect x="125.69" y="253.5" width="5.39" height="1.2" fill="#FFD700"/>
<rect x="125.69" y="254.7" width="5.39" height="1.7" fill="#FF8C00"/>
<rect x="125.69" y="256.4" width="5.39" height="1.1" fill="#FF3030"/>
<rect x="125.69" y="257.5" width="5.39" height="0.2" fill="#F08080"/>
<rect x="125.69" y="257.7" width="5.39" height="1.3" fill="#000000"/>
<rect x="131.68" y="238.2" width="5.39" height="2.6" fill="#8B008B"/>
<rect x="131.68" y="240.8" width="5.39" height="3.3" fill="#00008B"/>
<rect x="131.68" y="244.1" width="5.39" height="2.8" fill="#1E90FF"/>
<rect x="131.68" y="246.9" width="5.39" height="2.8" fill="#8470FF"/>
<rect x="131.68" y="249.7" width="5.39" height="1.1" fill="#228B22"/>
<rect x="131.68" y="250.8" width="5.39" height="2" fill="#98FB98"/>
<rect x="131.68" y="252.8" width="5.39" height="1.6" fill="#FFD700"/>
<rect x="131.68" y="254.4" width="5.39" height="2" fill="#FF8C00"/>
<rect x="131.68" y="256.4" width="5.39" height="1.1" fill="#FF3030"/>
<rect x="131.68" y="257.5" width="5.39" height="0.2" fill="#F08080"/>
<rect x="131.68" y="257.7" width="5.39" height="1.3" fill="#000000"/>
<rect x="137.66" y="231" width="5.39" height="13.3" fill="#8B008B"/>
<rect x="137.66" y="244.3" width="5.39" height="2.6" fill="#00008B"/>
<rect x="137.66" y="246.9" width="5.39" height="3" fill="#1E90FF"/>
<rect x="137.66" y="249.9" width="5.39" height="2.6" fill="#8470FF"/>
<rect x="137.66" y="252.5" width="5.39" height="1.1" fill="#228B22"/>
<rect x="137.66" y="253.6" width="5.39" height="0.8" fill="#98FB98"/>
<rect x="137.66" y="254.4" width="5.39" height="0.9" fill="#FFD700"/>
<rect x="137.66" y="255.3" width="5.39" height="1.3" fill="#FF8C00"/>
<rect x="137.66" y="256.6" width="5.39" height="1.1" fill="#FF3030"/>
<rect x="137.66" y="257.7" width="5.39" height="0.1" fill="#F08080"/>
<rect x="137.66" y="257.8" width="5.39" height="1.2" fill="#000000"/>
<rect x="143.65" y="234.3" width="5.39" height="7" fill="#8B008B"/>
<rect x="143.65" y="241.3" width="5.39" height="2.6" fill="#00008B"/>
<rect x="143.65" y="243.9" width="5.39" height="1.9" fill="#1E90FF"/>
<rect x="143.65" y="245.8" width="5.39" height="0.6" fill="#8470FF"/>
<rect x="143.65" y="246.4" width="5.39" height="0.5" fill="#228B22"/>
<rect x="143.65" y="246.9" width="5.39" height="6.7" fill="#98FB98"/>
<rect x="143.65" y="253.6" width="5.39" height="0.6" fill="#FFD700"/>
<rect x="143.65" y="254.2" width="5.39" height="1.3" fill="#FF8C00"/>
<rect x="143.65" y="255.5" width="5.39" height="0.3" fill="#FF3030"/>
<rect x="143.65" y="255.8" width="5.39" height="0.1" fill="#F08080"/>
<rect x="143.65" y="255.9" width="5.39" height="3.1" fill="#000000"/>
<rect x="149.63" y="234.1" width="5.39" height="3.9" fill="#8B008B"/>
<rect x="149.63" y="238" width="5.39" height="3.9" fill="#00008B"/>
<rect x="149.63" y="241.9" width="5.39" height="2.8" fill="#1E90FF"/>
<rect x="149.63" y="244.7" width="5.39" height="3.9" fill="#8470FF"/>
<rect x="149.63" y="248.6" width="5.39" height="2.2" fill="#228B22"/>
<rect x="149.63" y="250.8" width="5.39" height="1.2" fill="#98FB98"/>
<rect x="149.63" y="252" width="5.39" height="2" fill="#FFD700"/>
<rect x="149.63" y="254" width="5.39" height="1.9" fill="#FF8C00"/>
<rect x="149.63" y="255.9" width="5.39" height="1.4" fill="#FF3030"/>
<rect x="149.63" y="257.3" width="5.39" height="0.3" fill="#F08080"/>
<rect x="149.63" y="257.6" width="5.39" height="1.4" fill="#000000"/>
<rect x="155.62" y="232" width="5.39" height="13" fill="#8B008B"/>
<rect x="155.62" y="245" width="5.39" height="1.9" fill="#00008B"/>
<rect x="155.62" y="246.9" width="5.39" height="1.7" fill="#1E90FF"/>
<rect x="155.62" y="248.6" width="5.39" height="1.1" fill="#8470FF"/>
<rect x="155.62" y="249.7" width="5.39" height="0.3" fill="#228B22"/>
<rect x="155.62" y="250" width="5.39" height="5.9" fill="#98FB98"/>
<rect x="155.62" y="255.9" width="5.39" height="0.7" fill="#FFD700"/>
<rect x="155.62" y="256.6" width="5.39" height="0.7" fill="#FF8C00"/>
<rect x="155.62" y="257.3" width="5.39" height="0.4" fill="#FF3030"/>
<rect x="155.62" y="257.7" width="5.39" height="0.1" fill="#F08080"/>
<rect x="155.62" y="257.8" width="5.39" height="1.2" fill="#000000"/>
<rect x="161.61" y="238.2" width="5.39" height="2.8" fill="#8B008B"/>
<rect x="161.61" y="241" width="5.39" height="3.1" fill="#00008B"/>
<rect x="161.61" y="244.1" width="5.39" height="3.6" fill="#1E90FF"/>
<rect x="161.61" y="247.7" width="5.39" height="2.2" fill="#8470FF"/>
<rect x="161.61" y="249.9" width="5.39" height="1.2" fill="#228B22"/>
<rect x="161.61" y="251.1" width="5.39" height="2" fill="#98FB98"/>
<rect x="161.61" y="253.1" width="5.39" height="1.3" fill="#FFD700"/>
<rect x="161.61" y="254.4" width="5.39" height="1.8" fill="#FF8C00"/>
<rect x="161.61" y="256.2" width="5.39" height="1.1" fill="#FF3030"/>
<rect x="161.61" y="257.3" width="5.39" height="0.3" fill="#F08080"/>
<rect x="161.61" y="257.6" width="5.39" height="1.4" fill="#000000"/>
<rect x="167.59" y="238.8" width="5.39" height="2.5" fill="#8B008B"/>
<rect x="167.59" y="241.3" width="5.39" height="3.4" fill="#00008B"/>
<rect x="167.59" y="244.7" width="5.39" height="3" fill="#1E90FF"/>
<rect x="167.59" y="247.7" width="5.39" height="2.2" fill="#8470FF"/>
<rect x="167.59" y="249.9" width="5.39" height="1.2" fill="#228B22"/>
<rect x="167.59" y="251.1" width="5.39" height="1.7" fill="#98FB98"/>
<rect x="167.59" y="252.8" width="5.39" height="1.6" fill="#FFD700"/>
<rect x="167.59" y="254.4" width="5.39" height="1.8" fill="#FF8C00"/>
<rect x="167.59" y="256.2" width="5.39" height="1.1" fill="#FF3030"/>
<rect x="167.59" y="257.3" width="5.39" height="0.3" fill="#F08080"/>
<rect x="167.59" y="257.6" width="5.39" height="1.4" fill="#000000"/>
<rect x="173.58" y="235.7" width="5.39" height="2.6" fill="#8B008B"/>
<rect x="173.58" y="238.3" width="5.39" height="4.1" fill="#00008B"/>
<rect x="173.58" y="242.4" width="5.39" height="3.4" fill="#1E90FF"/>
<rect x="173.58" y="245.8" width="5.39" height="3" fill="#8470FF"/>
<rect x="173.58" y="248.8" width="5.39" height="1.5" fill="#228B22"/>
<rect x="173.58" y="250.3" width="5.39" height="1.4" fill="#98FB98"/>
<rect x="173.58" y="251.7" width="5.39" height="2.3" fill="#FFD700"/>
<rect x="173.58" y="254" width="5.39" height="1.9" fill="#FF8C00"/>
<rect x="173.58" y="255.9" width="5.39" height="1.4" fill="#FF3030"/>
<rect x="173.58" y="257.3" width="5.39" height="0.3" fill="#F08080"/>
<rect x="173.58" y="257.6" width="5.39" height="1.4" fill="#000000"/>
<rect x="179.56" y="236.9" width="5.39" height="3" fill="#8B008B"/>
<rect x="179.56" y="239.9" width="5.39" height="3.3" fill="#00008B"/>
<rect x="179.56" y="243.2" width="5.39" height="3.2" fill="#1E90FF"/>
<rect x="179.56" y="246.4" width="5.39" height="2.4" fill="#8470FF"/>
<rect x="179.56" y="248.8" width="5.39" height="1.1" fill="#228B22"/>
<rect x="179.56" y="249.9" width="5.39" height="1.5" fill="#98FB98"/>
<rect x="179.56" y="251.4" width="5.39" height="2.6" fill="#FFD700"/>
<rect x="179.56" y="254" width="5.39" height="1.5" fill="#FF8C00"/>
<rect x="179.56" y="255.5" width="5.39" height="1.1" fill="#FF3030"/>
<rect x="179.56" y="256.6" width="5.39" height="0.8" fill="#F08080"/>
<rect x="179.56" y="257.4" width="5.39" height="1.6" fill="#000000"/>
<rect x="185.55" y="230.1" width="5.39" height="4" fill="#8B008B"/>
<rect x="185.55" y="234.1" width="5.39" height="4.2" fill="#00008B"/>
<rect x="185.55" y="238.3" width="5.39" height="2.7" fill="#1E90FF"/>
<rect x="185.55" y="241" width="5.39" height="3.1" fill="#8470FF"/>
<rect x="185.55" y="244.1" width="5.39" height="6.2" fill="#228B22"/>
<rect x="185.55" y="250.3" width="5.39" height="1.1" fill="#98FB98"/>
<rect x="185.55" y="251.4" width="5.39" height="2.8" fill="#FFD700"/>
<rect x="185.55" y="254.2" width="5.39" height="1.1" fill="#FF8C00"/>
<rect x="185.55" y="255.3" width="5.39" height="1.3" fill="#FF3030"/>
<rect x="185.55" y="256.6" width="5.39" height="0.9" fill="#F08080"/>
<rect x="185.55" y="257.5" width="5.39" height="1.5" fill="#000000"/>
<rect x="191.54" y="236.3" width="5.39" height="3.6" fill="#8B008B"/>
<rect x="191.54" y="239.9" width="5.39" height="4" fill="#00008B"/>
<rect x="191.54" y="243.9" width="5.39" height="3" fill="#1E90FF"/>
<rect x="191.54" y="246.9" width="5.39" height="1.5" fill="#8470FF"/>
<rect x="191.54" y="248.4" width="5.39" height="1.3" fill="#228B22"/>
<rect x="191.54" y="249.7" width="5.39" height="3.1" fill="#98FB98"/>
<rect x="191.54" y="252.8" width="5.39" height="1.2" fill="#FFD700"/>
<rect x="191.54" y="254" width="5.39" height="1.3" fill="#FF8C00"/>
<rect x="191.54" y="255.3" width="5.39" height="1.1" fill="#FF3030"/>
<rect x="191.54" y="256.4" width="5.39" height="0.2" fill="#F08080"/>
<rect x="191.54" y="256.6" width="5.39" height="2.4" fill="#000000"/>
<rect x="197.52" y="230.9" width="5.39" height="4.1" fill="#8B008B"/>
<rect x="197.52" y="235" width="5.39" height="3.3" fill="#00008B"/>
<rect x="197.52" y="238.3" width="5.39" height="3.6" fill="#1E90FF"/>
<rect x="197.52" y="241.9" width="5.39" height="9.8" fill="#8470FF"/>
<rect x="197.52" y="251.7" width="5.39" height="1.9" fill="#228B22"/>
<rect x="197.52" y="253.6" width="5.39" height="0.8" fill="#98FB98"/>
<rect x="197.52" y="254.4" width="5.39" height="1.1" fill="#FFD700"/>
<rect x="197.52" y="255.5" width="5.39" height="1.1" fill="#FF8C00"/>
<rect x="197.52" y="256.6" width="5.39" height="0.9" fill="#FF3030"/>
<rect x="197.52" y="257.5" width="5.39" height="0.2" fill="#F08080"/>
<rect x="197.52" y="257.7" width="5.39" height="1.3" fill="#000000"/>
<rect x="203.51" y="238" width="5.39" height="2.2" fill="#8B008B"/>
<rect x="203.51" y="240.2" width="5.39" height="3.7" fill="#00008B"/>
<rect x="203.51" y="243.9" width="5.39" height="3" fill="#1E90FF"/>
<rect x="203.51" y="246.9" width="5.39" height="1.9" fill="#8470FF"/>
<rect x="203.51" y="248.8" width="5.39" height="1.5" fill="#228B22"/>
<rect x="203.51" y="250.3" width="5.39" height="1.4" fill="#98FB98"/>
<rect x="203.51" y="251.7" width="5.39" height="2.5" fill="#FFD700"/>
<rect x="203.51" y="254.2" width="5.39" height="1.7" fill="#FF8C00"/>
<rect x="203.51" y="255.9" width="5.39" height="1.1" fill="#FF3030"/>
<rect x="203.51" y="257" width="5.39" height="0.6" fill="#F08080"/>
<rect x="203.51" y="257.6" width="5.39" height="1.4" fill="#000000"/>
<rect x="209.49" y="153.2" width="5.39" height="5" fill="#8B008B"/>
<rect x="209.49" y="158.2" width="5.39" height="38.9" fill="#00008B"/>
<rect x="209.49" y="197.1" width="5.39" height="3.8" fill="#1E90FF"/>
<rect x="209.49" y="200.9" width="5.39" height="6" fill="#8470FF"/>
<rect x="209.49" y="206.9" width="5.39" height="41.5" fill="#228B22"/>
<rect x="209.49" y="248.4" width="5.39" height="1.1" fill="#98FB98"/>
<rect x="209.49" y="249.5" width="5.39" height="1.1" fill="#FFD700"/>
<rect x="209.49" y="250.6" width="5.39" height="1.1" fill="#FF8C00"/>
<rect x="209.49" y="251.7" width="5.39" height="1.1" fill="#FF3030"/>
<rect x="209.49" y="252.8" width="5.39" height="3.8" fill="#F08080"/>
<rect x="209.49" y="256.6" width="5.39" height="2.4" fill="#000000"/>
<rect x="215.48" y="237.2" width="5.39" height="3.3" fill="#8B008B"/>
<rect x="215.48" y="240.5" width="5.39" height="2.5" fill="#00008B"/>
<rect x="215.48" y="243" width="5.39" height="3.9" fill="#1E90FF"/>
<rect x="215.48" y="246.9" width="5.39" height="0.8" fill="#8470FF"/>
<rect x="215.48" y="247.7" width="5.39" height="2.2" fill="#228B22"/>
<rect x="215.48" y="249.9" width="5.39" height="3.2" fill="#98FB98"/>
<rect x="215.48" y="253.1" width="5.39" height="1.6" fill="#FFD700"/>
<rect x="215.48" y="254.7" width="5.39" height="1.5" fill="#FF8C00"/>
<rect x="215.48" y="256.2" width="5.39" height="1.1" fill="#FF3030"/>
<rect x="215.48" y="257.3" width="5.39" height="0.3" fill="#F08080"/>
<rect x="215.48" y="257.6" width="5.39" height="1.4" fill="#000000"/>
<rect x="221.47" y="235.5" width="5.39" height="3.6" fill="#8B008B"/>
<rect x="221.47" y="239.1" width="5.39" height="3.9" fill="#00008B"/>
<rect x="221.47" y="243" width="5.39" height="3.1" fill="#1E90FF"/>
<rect x="221.47" y="246.1" width="5.39" height="2.7" fill="#8470FF"/>
<rect x="221.47" y="248.8" width="5.39" height="2" fill="#228B22"/>
<rect x="221.47" y="250.8" width="5.39" height="0.9" fill="#98FB98"/>
<rect x="221.47" y="251.7" width="5.39" height="2.5" fill="#FFD700"/>
<rect x="221.47" y="254.2" width="5.39" height="1.7" fill="#FF8C00"/>
<rect x="221.47" y="255.9" width="5.39" height="1.1" fill="#FF3030"/>
<rect x="221.47" y="257" width="5.39" height="0.6" fill="#F08080"/>
<rect x="221.47" y="257.6" width="5.39" height="1.4" fill="#000000"/>
<rect x="227.45" y="219.5" width="5.39" height="3.5" fill="#8B008B"/>
<rect x="227.45" y="223" width="5.39" height="9.9" fill="#00008B"/>
<rect x="227.45" y="232.9" width="5.39" height="2.8" fill="#1E90FF"/>
<rect x="227.45" y="235.7" width="5.39" height="2.8" fill="#8470FF"/>
<rect x="227.45" y="238.5" width="5.39" height="5.4" fill="#228B22"/>
<rect x="227.45" y="243.9" width="5.39" height="3" fill="#98FB98"/>
<rect x="227.45" y="246.9" width="5.39" height="1.9" fill="#FFD700"/>
<rect x="227.45" y="248.8" width="5.39" height="1.5" fill="#FF8C00"/>
<rect x="227.45" y="250.3" width="5.39" height="1.1" fill="#FF3030"/>
<rect x="227.45" y="251.4" width="5.39" height="5.2" fill="#F08080"/>
<rect x="227.45" y="256.6" width="5.39" height="2.4" fill="#000000"/>
<rect x="233.44" y="236.5" width="5.39" height="2.9" fill="#8B008B"/>
<rect x="233.44" y="239.4" width="5.39" height="3.8" fill="#00008B"/>
<rect x="233.44" y="243.2" width="5.39" height="2.9" fill="#1E90FF"/>
<rect x="233.44" y="246.1" width="5.39" height="2.7" fill="#8470FF"/>
<rect x="233.44" y="248.8" width="5.39" height="2" fill="#228B22"/>
<rect x="233.44" y="250.8" width="5.39" height="1.2" fill="#98FB98"/>
<rect x="233.44" y="252" width="5.39" height="2.2" fill="#FFD700"/>
<rect x="233.44" y="254.2" width="5.39" height="1.7" fill="#FF8C00"/>
<rect x="233.44" y="255.9" width="5.39" height="1.1" fill="#FF3030"/>
<rect x="233.44" y="257" width="5.39" height="0.6" fill="#F08080"/>
<rect x="233.44" y="257.6" width="5.39" height="1.4" fill="#000000"/>
<rect x="239.42" y="236.5" width="5.39" height="2.9" fill="#8B008B"/>
<rect x="239.42" y="239.4" width="5.39" height="3.8" fill="#00008B"/>
<rect x="239.42" y="243.2" width="5.39" height="2.9" fill="#1E90FF"/>
<rect x="239.42" y="246.1" width="5.39" height="2.7" fill="#8470FF"/>
<rect x="239.42" y="248.8" width="5.39" height="1.8" fill="#228B22"/>
<rect x="239.42" y="250.6" width="5.39" height="1.4" fill="#98FB98"/>
<rect x="239.42" y="252" width="5.39" height="2.2" fill="#FFD700"/>
<rect x="239.42" y="254.2" width="5.39" height="1.7" fill="#FF8C00"/>
<rect x="239.42" y="255.9" width="5.39" height="1.1" fill="#FF3030"/>
<rect x="239.42" y="257" width="5.39" height="0.6" fill="#F08080"/>
<rect x="239.42" y="257.6" width="5.39" height="1.4" fill="#000000"/>
<rect x="245.41" y="238" width="5.39" height="2.8" fill="#8B008B"/>
<rect x="245.41" y="240.8" width="5.39" height="3.1" fill="#00008B"/>
<rect x="245.41" y="243.9" width="5.39" height="3" fill="#1E90FF"/>
<rect x="245.41" y="246.9" width="5.39" height="2.3" fill="#8470FF"/>
<rect x="245.41" y="249.2" width="5.39" height="1.6" fill="#228B22"/>
<rect x="245.41" y="250.8" width="5.39" height="1.7" fill="#98FB98"/>
<rect x="245.41" y="252.5" width="5.39" height="1.7" fill="#FFD700"/>
<rect x="245.41" y="254.2" width="5.39" height="1.7" fill="#FF8C00"/>
<rect x="245.41" y="255.9" width="5.39" height="1.1" fill="#FF3030"/>
<rect x="245.41" y="257" width="5.39" height="0.6" fill="#F08080"/>
<rect x="245.41" y="257.6" width="5.39" height="1.4" fill="#000000"/>
<rect x="251.4" y="232.9" width="5.39" height="3.2" fill="#8B008B"/>
<rect x="251.4" y="236.1" width="5.39" height="4.4" fill="#00008B"/>
<rect x="251.4" y="240.5" width="5.39" height="3.4" fill="#1E90FF"/>
<rect x="251.4" y="243.9" width="5.39" height="3.8" fill="#8470FF"/>
<rect x="251.4" y="247.7" width="5.39" height="2.2" fill="#228B22"/>
<rect x="251.4" y="249.9" width="5.39" height="0.7" fill="#98FB98"/>
<rect x="251.4" y="250.6" width="5.39" height="2.5" fill="#FFD700"/>
<rect x="251.4" y="253.1" width="5.39" height="2.9" fill="#FF8C00"/>
<rect x="251.4" y="256" width="5.39" height="0.6" fill="#FF3030"/>
<rect x="251.4" y="256.6" width="5.39" height="0.4" fill="#F08080"/>
<rect x="251.4" y="257" width="5.39" height="2" fill="#000000"/>
<rect x="257.38" y="239.1" width="5.39" height="2.8" fill="#8B008B"/>
<rect x="257.38" y="241.9" width="5.39" height="3.1" fill="#00008B"/>
<rect x="257.38" y="245" width="5.39" height="3" fill="#1E90FF"/>
<rect x="257.38" y="248" width="5.39" height="0.8" fill="#8470FF"/>
<rect x="257.38" y="248.8" width="5.39" height="2" fill="#228B22"/>
<rect x="257.38" y="250.8" width="5.39" height="3.2" fill="#98FB98"/>
<rect x="257.38" y="254" width="5.39" height="1.1" fill="#FFD700"/>
<rect x="257.38" y="255.1" width="5.39" height="1.3" fill="#FF8C00"/>
<rect x="257.38" y="256.4" width="5.39" height="0.8" fill="#FF3030"/>
<rect x="257.38" y="257.2" width="5.39" height="0.4" fill="#F08080"/>
<rect x="257.38" y="257.6" width="5.39" height="1.4" fill="#000000"/>
<rect x="263.37" y="234.8" width="5.39" height="3.2" fill="#8B008B"/>
<rect x="263.37" y="238" width="5.39" height="4.8" fill="#00008B"/>
<rect x="263.37" y="242.8" width="5.39" height="3.3" fill="#1E90FF"/>
<rect x="263.37" y="246.1" width="5.39" height="4.2" fill="#8470FF"/>
<rect x="263.37" y="250.3" width="5.39" height="1.4" fill="#228B22"/>
<rect x="263.37" y="251.7" width="5.39" height="0.8" fill="#98FB98"/>
<rect x="263.37" y="252.5" width="5.39" height="1.9" fill="#FFD700"/>
<rect x="263.37" y="254.4" width="5.39" height="2" fill="#FF8C00"/>
<rect x="263.37" y="256.4" width="5.39" height="0.9" fill="#FF3030"/>
<rect x="263.37" y="257.3" width="5.39" height="0.3" fill="#F08080"/>
<rect x="263.37" y="257.6" width="5.39" height="1.4" fill="#000000"/>
<rect x="269.35" y="238" width="5.39" height="2.2" fill="#8B008B"/>
<rect x="269.35" y="240.2" width="5.39" height="3.9" fill="#00008B"/>
<rect x="269.35" y="244.1" width="5.39" height="2.8" fill="#1E90FF"/>
<rect x="269.35" y="246.9" width="5.39" height="2.6" fill="#8470FF"/>
<rect x="269.35" y="249.5" width="5.39" height="1.3" fill="#228B22"/>
<rect x="269.35" y="250.8" width="5.39" height="1.2" fill="#98FB98"/>
<rect x="269.35" y="252" width="5.39" height="2.2" fill="#FFD700"/>
<rect x="269.35" y="254.2" width="5.39" height="1.7" fill="#FF8C00"/>
<rect x="269.35" y="255.9" width="5.39" height="1.1" fill="#FF3030"/>
<rect x="269.35" y="257" width="5.39" height="0.6" fill="#F08080"/>
<rect x="269.35" y="257.6" width="5.39" height="1.4" fill="#000000"/>
<rect x="275.34" y="220.9" width="5.39" height="3.1" fill="#8B008B"/>
<rect x="275.34" y="224" width="5.39" height="9.8" fill="#00008B"/>
<rect x="275.34" y="233.8" width="5.39" height="3.1" fill="#1E90FF"/>
<rect x="275.34" y="236.9" width="5.39" height="3.3" fill="#8470FF"/>
<rect x="275.34" y="240.2" width="5.39" height="9" fill="#228B22"/>
<rect x="275.34" y="249.2" width="5.39" height="1.6" fill="#98FB98"/>
<rect x="275.34" y="250.8" width="5.39" height="1.7" fill="#FFD700"/>
<rect x="275.34" y="252.5" width="5.39" height="1.7" fill="#FF8C00"/>
<rect x="275.34" y="254.2" width="5.39" height="1.1" fill="#FF3030"/>
<rect x="275.34" y="255.3" width="5.39" height="1.7" fill="#F08080"/>
<rect x="275.34" y="257" width="5.39" height="2" fill="#000000"/>
<rect x="281.33" y="232" width="5.39" height="3.7" fill="#8B008B"/>
<rect x="281.33" y="235.7" width="5.39" height="4.2" fill="#00008B"/>
<rect x="281.33" y="239.9" width="5.39" height="4" fill="#1E90FF"/>
<rect x="281.33" y="243.9" width="5.39" height="3.8" fill="#8470FF"/>
<rect x="281.33" y="247.7" width="5.39" height="2.2" fill="#228B22"/>
<rect x="281.33" y="249.9" width="5.39" height="0.9" fill="#98FB98"/>
<rect x="281.33" y="250.8" width="5.39" height="2" fill="#FFD700"/>
<rect x="281.33" y="252.8" width="5.39" height="3.1" fill="#FF8C00"/>
<rect x="281.33" y="255.9" width="5.39" height="0.5" fill="#FF3030"/>
<rect x="281.33" y="256.4" width="5.39" height="0.2" fill="#F08080"/>
<rect x="281.33" y="256.6" width="5.39" height="2.4" fill="#000000"/>
<rect x="287.31" y="218.6" width="5.39" height="3.5" fill="#8B008B"/>
<rect x="287.31" y="222.1" width="5.39" height="10.7" fill="#00008B"/>
<rect x="287.31" y="232.8" width="5.39" height="3.1" fill="#1E90FF"/>
<rect x="287.31" y="235.9" width="5.39" height="3.5" fill="#8470FF"/>
<rect x="287.31" y="239.4" width="5.39" height="9.4" fill="#228B22"/>
<rect x="287.31" y="248.8" width="5.39" height="1.5" fill="#98FB98"/>
<rect x="287.31" y="250.3" width="5.39" height="1.7" fill="#FFD700"/>
<rect x="287.31" y="252" width="5.39" height="2" fill="#FF8C00"/>
<rect x="287.31" y="254" width="5.39" height="1.5" fill="#FF3030"/>
<rect x="287.31" y="255.5" width="5.39" height="1.1" fill="#F08080"/>
<rect x="287.31" y="256.6" width="5.39" height="2.4" fill="#000000"/>
<rect x="293.3" y="235" width="5.39" height="11.4" fill="#8B008B"/>
<rect x="293.3" y="246.4" width="5.39" height="2.4" fill="#00008B"/>
<rect x="293.3" y="248.8" width="5.39" height="2.6" fill="#1E90FF"/>
<rect x="293.3" y="251.4" width="5.39" height="2.6" fill="#8470FF"/>
<rect x="293.3" y="254" width="5.39" height="0.7" fill="#228B22"/>
<rect x="293.3" y="254.7" width="5.39" height="0.6" fill="#98FB98"/>
<rect x="293.3" y="255.3" width="5.39" height="0.9" fill="#FFD700"/>
<rect x="293.3" y="256.2" width="5.39" height="0.8" fill="#FF8C00"/>
<rect x="293.3" y="257" width="5.39" height="0.6" fill="#FF3030"/>
<rect x="293.3" y="257.6" width="5.39" height="0.1" fill="#F08080"/>
<rect x="293.3" y="257.7" width="5.39" height="1.3" fill="#000000"/>
<rect x="299.28" y="238.5" width="5.39" height="3.2" fill="#8B008B"/>
<rect x="299.28" y="241.7" width="5.39" height="3.3" fill="#00008B"/>
<rect x="299.28" y="245" width="5.39" height="4.9" fill="#1E90FF"/>
<rect x="299.28" y="249.9" width="5.39" height="1.2" fill="#8470FF"/>
<rect x="299.28" y="251.1" width="5.39" height="1.7" fill="#228B22"/>
<rect x="299.28" y="252.8" width="5.39" height="0.2" fill="#98FB98"/>
<rect x="299.28" y="253" width="5.39" height="1.4" fill="#FFD700"/>
<rect x="299.28" y="254.4" width="5.39" height="1.8" fill="#FF8C00"/>
<rect x="299.28" y="256.2" width="5.39" height="1.1" fill="#FF3030"/>
<rect x="299.28" y="257.3" width="5.39" height="0.3" fill="#F08080"/>
<rect x="299.28" y="257.6" width="5.39" height="1.4" fill="#000000"/>
<rect x="305.27" y="233.8" width="5.39" height="4.2" fill="#8B008B"/>
<rect x="305.27" y="238" width="5.39" height="4.1" fill="#00008B"/>
<rect x="305.27" y="242.1" width="5.39" height="2.9" fill="#1E90FF"/>
<rect x="305.27" y="245" width="5.39" height="2.7" fill="#8470FF"/>
<rect x="305.27" y="247.7" width="5.39" height="2.2" fill="#228B22"/>
<rect x="305.27" y="249.9" width="5.39" height="2.1" fill="#98FB98"/>
<rect x="305.27" y="252" width="5.39" height="1.3" fill="#FFD700"/>
<rect x="305.27" y="253.3" width="5.39" height="1.6" fill="#FF8C00"/>
<rect x="305.27" y="254.9" width="5.39" height="1.5" fill="#FF3030"/>
<rect x="305.27" y="256.4" width="5.39" height="0.8" fill="#F08080"/>
<rect x="305.27" y="257.2" width="5.39" height="1.8" fill="#000000"/>
<rect x="311.26" y="232.7" width="5.39" height="3.4" fill="#8B008B"/>
<rect x="311.26" y="236.1" width="5.39" height="3.8" fill="#00008B"/>
<rect x="311.26" y="239.9" width="5.39" height="2.9" fill="#1E90FF"/>
<rect x="311.26" y="242.8" width="5.39" height="4.1" fill="#8470FF"/>
<rect x="311.26" y="246.9" width="5.39" height="1.9" fill="#228B22"/>
<rect x="311.26" y="248.8" width="5.39" height="0.4" fill="#98FB98"/>
<rect x="311.26" y="249.2" width="5.39" height="2.2" fill="#FFD700"/>
<rect x="311.26" y="251.4" width="5.39" height="5.2" fill="#FF8C00"/>
<rect x="311.26" y="256.6" width="5.39" height="0.2" fill="#FF3030"/>
<rect x="311.26" y="256.8" width="5.39" height="0.1" fill="#F08080"/>
<rect x="311.26" y="256.9" width="5.39" height="2.1" fill="#000000"/>
<rect x="317.24" y="228.7" width="5.39" height="3.3" fill="#8B008B"/>
<rect x="317.24" y="232" width="5.39" height="6.3" fill="#00008B"/>
<rect x="317.24" y="238.3" width="5.39" height="3.8" fill="#1E90FF"/>
<rect x="317.24" y="242.1" width="5.39" height="2.9" fill="#8470FF"/>
<rect x="317.24" y="245" width="5.39" height="5.3" fill="#228B22"/>
<rect x="317.24" y="250.3" width="5.39" height="1.1" fill="#98FB98"/>
<rect x="317.24" y="251.4" width="5.39" height="1.9" fill="#FFD700"/>
<rect x="317.24" y="253.3" width="5.39" height="1.8" fill="#FF8C00"/>
<rect x="317.24" y="255.1" width="5.39" height="1.3" fill="#FF3030"/>
<rect x="317.24" y="256.4" width="5.39" height="0.9" fill="#F08080"/>
<rect x="317.24" y="257.3" width="5.39" height="1.7" fill="#000000"/>
<rect x="323.23" y="238" width="5.39" height="2.8" fill="#8B008B"/>
<rect x="323.23" y="240.8" width="5.39" height="3.1" fill="#00008B"/>
<rect x="323.23" y="243.9" width="5.39" height="3" fill="#1E90FF"/>
<rect x="323.23" y="246.9" width="5.39" height="3" fill="#8470FF"/>
<rect x="323.23" y="249.9" width="5.39" height="0.9" fill="#228B22"/>
<rect x="323.23" y="250.8" width="5.39" height="0.9" fill="#98FB98"/>
<rect x="323.23" y="251.7" width="5.39" height="1.9" fill="#FFD700"/>
<rect x="323.23" y="253.6" width="5.39" height="1.9" fill="#FF8C00"/>
<rect x="323.23" y="255.5" width="5.39" height="1.5" fill="#FF3030"/>
<rect x="323.23" y="257" width="5.39" height="0.6" fill="#F08080"/>
<rect x="323.23" y="257.6" width="5.39" height="1.4" fill="#000000"/>
<rect x="329.21" y="229" width="5.39" height="4.8" fill="#8B008B"/>
<rect x="329.21" y="233.8" width="5.39" height="4.5" fill="#00008B"/>
<rect x="329.21" y="238.3" width="5.39" height="2.2" fill="#1E90FF"/>
<rect x="329.21" y="240.5" width="5.39" height="3.8" fill="#8470FF"/>
<rect x="329.21" y="244.3" width="5.39" height="5.2" fill="#228B22"/>
<rect x="329.21" y="249.5" width="5.39" height="2.5" fill="#98FB98"/>
<rect x="329.21" y="252" width="5.39" height="1.3" fill="#FFD700"/>
<rect x="329.21" y="253.3" width="5.39" height="1.4" fill="#FF8C00"/>
<rect x="329.21" y="254.7" width="5.39" height="0.6" fill="#FF3030"/>
<rect x="329.21" y="255.3" width="5.39" height="1.3" fill="#F08080"/>
<rect x="329.21" y="256.6" width="5.39" height="2.4" fill="#000000"/>
<rect x="335.2" y="236.1" width="5.39" height="3" fill="#8B008B"/>
<rect x="335.2" y="239.1" width="5.39" height="4.8" fill="#00008B"/>
<rect x="335.2" y="243.9" width="5.39" height="3.8" fill="#1E90FF"/>
<rect x="335.2" y="247.7" width="5.39" height="3.1" fill="#8470FF"/>
<rect x="335.2" y="250.8" width="5.39" height="2" fill="#228B22"/>
<rect x="335.2" y="252.8" width="5.39" height="0.8" fill="#98FB98"/>
<rect x="335.2" y="253.6" width="5.39" height="1.5" fill="#FFD700"/>
<rect x="335.2" y="255.1" width="5.39" height="0.9" fill="#FF8C00"/>
<rect x="335.2" y="256" width="5.39" height="1.3" fill="#FF3030"/>
<rect x="335.2" y="257.3" width="5.39" height="0.3" fill="#F08080"/>
<rect x="335.2" y="257.6" width="5.39" height="1.4" fill="#000000"/>
<rect x="341.19" y="232.9" width="5.39" height="19.6" fill="#8B008B"/>
<rect x="341.19" y="252.5" width="5.39" height="0.6" fill="#00008B"/>
<rect x="341.19" y="253.1" width="5.39" height="2.2" fill="#1E90FF"/>
<rect x="341.19" y="255.3" width="5.39" height="0.6" fill="#8470FF"/>
<rect x="341.19" y="255.9" width="5.39" height="0.1" fill="#228B22"/>
<rect x="341.19" y="256" width="5.39" height="0.4" fill="#98FB98"/>
<rect x="341.19" y="256.4" width="5.39" height="1.1" fill="#FFD700"/>
<rect x="341.19" y="257.5" width="5.39" height="0.5" fill="#FF8C00"/>
<rect x="341.19" y="258" width="5.39" height="0.3" fill="#FF3030"/>
<rect x="341.19" y="258.3" width="5.39" height="0.1" fill="#F08080"/>
<rect x="341.19" y="258.4" width="5.39" height="0.6" fill="#000000"/>
<rect x="347.17" y="239.1" width="5.39" height="2.8" fill="#8B008B"/>
<rect x="347.17" y="241.9" width="5.39" height="3.6" fill="#00008B"/>
<rect x="347.17" y="245.5" width="5.39" height="2.5" fill="#1E90FF"/>
<rect x="347.17" y="248" width="5.39" height="2.3" fill="#8470FF"/>
<rect x="347.17" y="250.3" width="5.39" height="0.5" fill="#228B22"/>
<rect x="347.17" y="250.8" width="5.39" height="1.4" fill="#98FB98"/>
<rect x="347.17" y="252.2" width="5.39" height="2" fill="#FFD700"/>
<rect x="347.17" y="254.2" width="5.39" height="1.7" fill="#FF8C00"/>
<rect x="347.17" y="255.9" width="5.39" height="1.1" fill="#FF3030"/>
<rect x="347.17" y="257" width="5.39" height="0.6" fill="#F08080"/>
<rect x="347.17" y="257.6" width="5.39" height="1.4" fill="#000000"/>
<rect x="353.16" y="240.2" width="5.39" height="4.5" fill="#8B008B"/>
<rect x="353.16" y="244.7" width="5.39" height="2.2" fill="#00008B"/>
<rect x="353.16" y="246.9" width="5.39" height="4.5" fill="#1E90FF"/>
<rect x="353.16" y="251.4" width="5.39" height="0.2" fill="#8470FF"/>
<rect x="353.16" y="251.6" width="5.39" height="0.4" fill="#228B22"/>
<rect x="353.16" y="252" width="5.39" height="1.3" fill="#98FB98"/>
<rect x="353.16" y="253.3" width="5.39" height="1.4" fill="#FFD700"/>
<rect x="353.16" y="254.7" width="5.39" height="1.7" fill="#FF8C00"/>
<rect x="353.16" y="256.4" width="5.39" height="0.9" fill="#FF3030"/>
<rect x="353.16" y="257.3" width="5.39" height="0.3" fill="#F08080"/>
<rect x="353.16" y="257.6" width="5.39" height="1.4" fill="#000000"/>
<rect x="359.14" y="232.9" width="5.39" height="7" fill="#8B008B"/>
<rect x="359.14" y="239.9" width="5.39" height="2" fill="#00008B"/>
<rect x="359.14" y="241.9" width="5.39" height="2" fill="#1E90FF"/>
<rect x="359.14" y="243.9" width="5.39" height="4.5" fill="#8470FF"/>
<rect x="359.14" y="248.4" width="5.39" height="0.2" fill="#228B22"/>
<rect x="359.14" y="248.6" width="5.39" height="5.6" fill="#98FB98"/>
<rect x="359.14" y="254.2" width="5.39" height="0.9" fill="#FFD700"/>
<rect x="359.14" y="255.1" width="5.39" height="0.5" fill="#FF8C00"/>
<rect x="359.14" y="255.6" width="5.39" height="0.4" fill="#FF3030"/>
<rect x="359.14" y="256" width="5.39" height="0.2" fill="#F08080"/>
<rect x="359.14" y="256.2" width="5.39" height="2.8" fill="#000000"/>
<rect x="365.13" y="222.1" width="5.39" height="10.7" fill="#8B008B"/>
<rect x="365.13" y="232.8" width="5.39" height="6" fill="#00008B"/>
<rect x="365.13" y="238.8" width="5.39" height="2.5" fill="#1E90FF"/>
<rect x="365.13" y="241.3" width="5.39" height="3.7" fill="#8470FF"/>
<rect x="365.13" y="245" width="5.39" height="3.8" fill="#228B22"/>
<rect x="365.13" y="248.8" width="5.39" height="1.1" fill="#98FB98"/>
<rect x="365.13" y="249.9" width="5.39" height="2.1" fill="#FFD700"/>
<rect x="365.13" y="252" width="5.39" height="1.3" fill="#FF8C00"/>
<rect x="365.13" y="253.3" width="5.39" height="0.7" fill="#FF3030"/>
<rect x="365.13" y="254" width="5.39" height="3" fill="#F08080"/>
<rect x="365.13" y="257" width="5.39" height="2" fill="#000000"/>
<rect x="371.12" y="238.5" width="5.39" height="6.2" fill="#8B008B"/>
<rect x="371.12" y="244.7" width="5.39" height="2.2" fill="#00008B"/>
<rect x="371.12" y="246.9" width="5.39" height="3" fill="#1E90FF"/>
<rect x="371.12" y="249.9" width="5.39" height="2.6" fill="#8470FF"/>
<rect x="371.12" y="252.5" width="5.39" height="0.3" fill="#228B22"/>
<rect x="371.12" y="252.8" width="5.39" height="1.9" fill="#98FB98"/>
<rect x="371.12" y="254.7" width="5.39" height="1.7" fill="#FFD700"/>
<rect x="371.12" y="256.4" width="5.39" height="0.9" fill="#FF8C00"/>
<rect x="371.12" y="257.3" width="5.39" height="0.2" fill="#FF3030"/>
<rect x="371.12" y="257.5" width="5.39" height="0.1" fill="#F08080"/>
<rect x="371.12" y="257.6" width="5.39" height="1.4" fill="#000000"/>
<rect x="377.1" y="232" width="5.39" height="3" fill="#8B008B"/>
<rect x="377.1" y="235" width="5.39" height="5.5" fill="#00008B"/>
<rect x="377.1" y="240.5" width="5.39" height="3.1" fill="#1E90FF"/>
<rect x="377.1" y="243.6" width="5.39" height="2.5" fill="#8470FF"/>
<rect x="377.1" y="246.1" width="5.39" height="4.7" fill="#228B22"/>
<rect x="377.1" y="250.8" width="5.39" height="1.4" fill="#98FB98"/>
<rect x="377.1" y="252.2" width="5.39" height="2.2" fill="#FFD700"/>
<rect x="377.1" y="254.4" width="5.39" height="1.1" fill="#FF8C00"/>
<rect x="377.1" y="255.5" width="5.39" height="1.1" fill="#FF3030"/>
<rect x="377.1" y="256.6" width="5.39" height="0.8" fill="#F08080"/>
<rect x="377.1" y="257.4" width="5.39" height="1.6" fill="#000000"/>
<rect x="383.09" y="233.2" width="5.39" height="2" fill="#8B008B"/>
<rect x="383.09" y="235.2" width="5.39" height="6.1" fill="#00008B"/>
<rect x="383.09" y="241.3" width="5.39" height="4.2" fill="#1E90FF"/>
<rect x="383.09" y="245.5" width="5.39" height="4.8" fill="#8470FF"/>
<rect x="383.09" y="250.3" width="5.39" height="0.8" fill="#228B22"/>
<rect x="383.09" y="251.1" width="5.39" height="0.6" fill="#98FB98"/>
<rect x="383.09" y="251.7" width="5.39" height="1.6" fill="#FFD700"/>
<rect x="383.09" y="253.3" width="5.39" height="0.7" fill="#FF8C00"/>
<rect x="383.09" y="254" width="5.39" height="3.3" fill="#FF3030"/>
<rect x="383.09" y="257.3" width="5.39" height="0.3" fill="#F08080"/>
<rect x="383.09" y="257.6" width="5.39" height="1.4" fill="#000000"/>
<rect x="389.07" y="238" width="5.39" height="3" fill="#8B008B"/>
<rect x="389.07" y="241" width="5.39" height="4" fill="#00008B"/>
<rect x="389.07" y="245" width="5.39" height="3" fill="#1E90FF"/>
<rect x="389.07" y="248" width="5.39" height="2.3" fill="#8470FF"/>
<rect x="389.07" y="250.3" width="5.39" height="1.1" fill="#228B22"/>
<rect x="389.07" y="251.4" width="5.39" height="1.1" fill="#98FB98"/>
<rect x="389.07" y="252.5" width="5.39" height="1.5" fill="#FFD700"/>
<rect x="389.07" y="254" width="5.39" height="1.9" fill="#FF8C00"/>
<rect x="389.07" y="255.9" width="5.39" height="1.1" fill="#FF3030"/>
<rect x="389.07" y="257" width="5.39" height="0.6" fill="#F08080"/>
<rect x="389.07" y="257.6" width="5.39" height="1.4" fill="#000000"/>
<rect x="395.06" y="235.2" width="5.39" height="2.8" fill="#8B008B"/>
<rect x="395.06" y="238" width="5.39" height="3.9" fill="#00008B"/>
<rect x="395.06" y="241.9" width="5.39" height="3.6" fill="#1E90FF"/>
<rect x="395.06" y="245.5" width="5.39" height="3.1" fill="#8470FF"/>
<rect x="395.06" y="248.6" width="5.39" height="1.3" fill="#228B22"/>
<rect x="395.06" y="249.9" width="5.39" height="0.7" fill="#98FB98"/>
<rect x="395.06" y="250.6" width="5.39" height="2.2" fill="#FFD700"/>
<rect x="395.06" y="252.8" width="5.39" height="3.2" fill="#FF8C00"/>
<rect x="395.06" y="256" width="5.39" height="0.5" fill="#FF3030"/>
<rect x="395.06" y="256.5" width="5.39" height="0.3" fill="#F08080"/>
<rect x="395.06" y="256.8" width="5.39" height="2.2" fill="#000000"/>
<rect x="401.05" y="223" width="5.39" height="3.1" fill="#8B008B"/>
<rect x="401.05" y="226.1" width="5.39" height="5.9" fill="#00008B"/>
<rect x="401.05" y="232" width="5.39" height="3" fill="#1E90FF"/>
<rect x="401.05" y="235" width="5.39" height="4.1" fill="#8470FF"/>
<rect x="401.05" y="239.1" width="5.39" height="5.9" fill="#228B22"/>
<rect x="401.05" y="245" width="5.39" height="1.9" fill="#98FB98"/>
<rect x="401.05" y="246.9" width="5.39" height="2.3" fill="#FFD700"/>
<rect x="401.05" y="249.2" width="5.39" height="0.7" fill="#FF8C00"/>
<rect x="401.05" y="249.9" width="5.39" height="0.9" fill="#FF3030"/>
<rect x="401.05" y="250.8" width="5.39" height="4.3" fill="#F08080"/>
<rect x="401.05" y="255.1" width="5.39" height="3.9" fill="#000000"/>
<rect x="407.03" y="240.2" width="5.39" height="4.5" fill="#8B008B"/>
<rect x="407.03" y="244.7" width="5.39" height="3" fill="#00008B"/>
<rect x="407.03" y="247.7" width="5.39" height="3.1" fill="#1E90FF"/>
<rect x="407.03" y="250.8" width="5.39" height="1.2" fill="#8470FF"/>
<rect x="407.03" y="252" width="5.39" height="0.3" fill="#228B22"/>
<rect x="407.03" y="252.3" width="5.39" height="0.5" fill="#98FB98"/>
<rect x="407.03" y="252.8" width="5.39" height="1.6" fill="#FFD700"/>
<rect x="407.03" y="254.4" width="5.39" height="1.8" fill="#FF8C00"/>
<rect x="407.03" y="256.2" width="5.39" height="1.1" fill="#FF3030"/>
<rect x="407.03" y="257.3" width="5.39" height="0.3" fill="#F08080"/>
<rect x="407.03" y="257.6" width="5.39" height="1.4" fill="#000000"/>
<rect x="413.02" y="240" width="5.39" height="7.7" fill="#8B008B"/>
<rect x="413.02" y="247.7" width="5.39" height="3.1" fill="#00008B"/>
<rect x="413.02" y="250.8" width="5.39" height="3.2" fill="#1E90FF"/>
<rect x="413.02" y="254" width="5.39" height="0.7" fill="#8470FF"/>
<rect x="413.02" y="254.7" width="5.39" height="0.3" fill="#228B22"/>
<rect x="413.02" y="255" width="5.39" height="0.5" fill="#98FB98"/>
<rect x="413.02" y="255.5" width="5.39" height="0.9" fill="#FFD700"/>
<rect x="413.02" y="256.4" width="5.39" height="0.8" fill="#FF8C00"/>
<rect x="413.02" y="257.2" width="5.39" height="0.5" fill="#FF3030"/>
<rect x="413.02" y="257.7" width="5.39" height="0.1" fill="#F08080"/>
<rect x="413.02" y="257.8" width="5.39" height="1.2" fill="#000000"/>
<rect x="419" y="234.1" width="5.39" height="3.1" fill="#8B008B"/>
<rect x="419" y="237.2" width="5.39" height="4.5" fill="#00008B"/>
<rect x="419" y="241.7" width="5.39" height="3.8" fill="#1E90FF"/>
<rect x="419" y="245.5" width="5.39" height="4.4" fill="#8470FF"/>
<rect x="419" y="249.9" width="5.39" height="1.5" fill="#228B22"/>
<rect x="419" y="251.4" width="5.39" height="1.1" fill="#98FB98"/>
<rect x="419" y="252.5" width="5.39" height="1.7" fill="#FFD700"/>
<rect x="419" y="254.2" width="5.39" height="1.7" fill="#FF8C00"/>
<rect x="419" y="255.9" width="5.39" height="1.1" fill="#FF3030"/>
<rect x="419" y="257" width="5.39" height="0.6" fill="#F08080"/>
<rect x="419" y="257.6" width="5.39" height="1.4" fill="#000000"/>
<rect x="424.99" y="234.3" width="5.39" height="2.9" fill="#8B008B"/>
<rect x="424.99" y="237.2" width="5.39" height="3.8" fill="#00008B"/>
<rect x="424.99" y="241" width="5.39" height="3.3" fill="#1E90FF"/>
<rect x="424.99" y="244.3" width="5.39" height="4.3" fill="#8470FF"/>
<rect x="424.99" y="248.6" width="5.39" height="1.3" fill="#228B22"/>
<rect x="424.99" y="249.9" width="5.39" height="0.9" fill="#98FB98"/>
<rect x="424.99" y="250.8" width="5.39" height="2.5" fill="#FFD700"/>
<rect x="424.99" y="253.3" width="5.39" height="2.6" fill="#FF8C00"/>
<rect x="424.99" y="255.9" width="5.39" height="1.1" fill="#FF3030"/>
<rect x="424.99" y="257" width="5.39" height="0.6" fill="#F08080"/>
<rect x="424.99" y="257.6" width="5.39" height="1.4" fill="#000000"/>
<rect x="430.98" y="229.4" width="5.39" height="6.7" fill="#8B008B"/>
<rect x="430.98" y="236.1" width="5.39" height="3.8" fill="#00008B"/>
<rect x="430.98" y="239.9" width="5.39" height="5.1" fill="#1E90FF"/>
<rect x="430.98" y="245" width="5.39" height="2.7" fill="#8470FF"/>
<rect x="430.98" y="247.7" width="5.39" height="4" fill="#228B22"/>
<rect x="430.98" y="251.7" width="5.39" height="1.1" fill="#98FB98"/>
<rect x="430.98" y="252.8" width="5.39" height="1.2" fill="#FFD700"/>
<rect x="430.98" y="254" width="5.39" height="1.9" fill="#FF8C00"/>
<rect x="430.98" y="255.9" width="5.39" height="0.7" fill="#FF3030"/>
<rect x="430.98" y="256.6" width="5.39" height="0.9" fill="#F08080"/>
<rect x="430.98" y="257.5" width="5.39" height="1.5" fill="#000000"/>
<rect x="436.96" y="235" width="5.39" height="17" fill="#8B008B"/>
<rect x="436.96" y="252" width="5.39" height="1.6" fill="#00008B"/>
<rect x="436.96" y="253.6" width="5.39" height="2.3" fill="#1E90FF"/>
<rect x="436.96" y="255.9" width="5.39" height="0.7" fill="#8470FF"/>
<rect x="436.96" y="256.6" width="5.39" height="0.1" fill="#228B22"/>
<rect x="436.96" y="256.7" width="5.39" height="0.2" fill="#98FB98"/>
<rect x="436.96" y="256.9" width="5.39" height="0.7" fill="#FFD700"/>
<rect x="436.96" y="257.6" width="5.39" height="0.9" fill="#FF8C00"/>
<rect x="436.96" y="258.5" width="5.39" height="0.2" fill="#FF3030"/>
<rect x="436.96" y="258.7" width="5.39" height="0.1" fill="#F08080"/>
<rect x="436.96" y="258.8" width="5.39" height="0.2" fill="#000000"/>
<rect x="442.95" y="235.2" width="5.39" height="2.8" fill="#8B008B"/>
<rect x="442.95" y="238" width="5.39" height="4.1" fill="#00008B"/>
<rect x="442.95" y="242.1" width="5.39" height="3.4" fill="#1E90FF"/>
<rect x="442.95" y="245.5" width="5.39" height="2.5" fill="#8470FF"/>
<rect x="442.95" y="248" width="5.39" height="1.5" fill="#228B22"/>
<rect x="442.95" y="249.5" width="5.39" height="0.8" fill="#98FB98"/>
<rect x="442.95" y="250.3" width="5.39" height="2.5" fill="#FFD700"/>
<rect x="442.95" y="252.8" width="5.39" height="3.2" fill="#FF8C00"/>
<rect x="442.95" y="256" width="5.39" height="0.5" fill="#FF3030"/>
<rect x="442.95" y="256.5" width="5.39" height="0.3" fill="#F08080"/>
<rect x="442.95" y="256.8" width="5.39" height="2.2" fill="#000000"/>
<rect x="448.93" y="234.1" width="5.39" height="3.1" fill="#8B008B"/>
<rect x="448.93" y="237.2" width="5.39" height="3.3" fill="#00008B"/>
<rect x="448.93" y="240.5" width="5.39" height="3.6" fill="#1E90FF"/>
<rect x="448.93" y="244.1" width="5.39" height="3.6" fill="#8470FF"/>
<rect x="448.93" y="247.7" width="5.39" height="1.5" fill="#228B22"/>
<rect x="448.93" y="249.2" width="5.39" height="0.7" fill="#98FB98"/>
<rect x="448.93" y="249.9" width="5.39" height="2.9" fill="#FFD700"/>
<rect x="448.93" y="252.8" width="5.39" height="3.1" fill="#FF8C00"/>
<rect x="448.93" y="255.9" width="5.39" height="0.7" fill="#FF3030"/>
<rect x="448.93" y="256.6" width="5.39" height="0.4" fill="#F08080"/>
<rect x="448.93" y="257" width="5.39" height="2" fill="#000000"/>
<rect x="454.92" y="240" width="5.39" height="5" fill="#8B008B"/>
<rect x="454.92" y="245" width="5.39" height="1.9" fill="#00008B"/>
<rect x="454.92" y="246.9" width="5.39" height="2.3" fill="#1E90FF"/>
<rect x="454.92" y="249.2" width="5.39" height="2.5" fill="#8470FF"/>
<rect x="454.92" y="251.7" width="5.39" height="0.8" fill="#228B22"/>
<rect x="454.92" y="252.5" width="5.39" height="0.8" fill="#98FB98"/>
<rect x="454.92" y="253.3" width="5.39" height="1.4" fill="#FFD700"/>
<rect x="454.92" y="254.7" width="5.39" height="1.5" fill="#FF8C00"/>
<rect x="454.92" y="256.2" width="5.39" height="1.1" fill="#FF3030"/>
<rect x="454.92" y="257.3" width="5.39" height="0.3" fill="#F08080"/>
<rect x="454.92" y="257.6" width="5.39" height="1.4" fill="#000000"/>
<rect x="460.91" y="238.5" width="5.39" height="2.8" fill="#8B008B"/>
<rect x="460.91" y="241.3" width="5.39" height="3.7" fill="#00008B"/>
<rect x="460.91" y="245" width="5.39" height="4.5" fill="#1E90FF"/>
<rect x="460.91" y="249.5" width="5.39" height="1.6" fill="#8470FF"/>
<rect x="460.91" y="251.1" width="5.39" height="0.9" fill="#228B22"/>
<rect x="460.91" y="252" width="5.39" height="0.6" fill="#98FB98"/>
<rect x="460.91" y="252.6" width="5.39" height="1.8" fill="#FFD700"/>
<rect x="460.91" y="254.4" width="5.39" height="1.1" fill="#FF8C00"/>
<rect x="460.91" y="255.5" width="5.39" height="2" fill="#FF3030"/>
<rect x="460.91" y="257.5" width="5.39" height="0.2" fill="#F08080"/>
<rect x="460.91" y="257.7" width="5.39" height="1.3" fill="#000000"/>
<rect x="466.89" y="238" width="5.39" height="3" fill="#8B008B"/>
<rect x="466.89" y="241" width="5.39" height="3.7" fill="#00008B"/>
<rect x="466.89" y="244.7" width="5.39" height="3" fill="#1E90FF"/>
<rect x="466.89" y="247.7" width="5.39" height="2.2" fill="#8470FF"/>
<rect x="466.89" y="249.9" width="5.39" height="0.7" fill="#228B22"/>
<rect x="466.89" y="250.6" width="5.39" height="0.8" fill="#98FB98"/>
<rect x="466.89" y="251.4" width="5.39" height="1.9" fill="#FFD700"/>
<rect x="466.89" y="253.3" width="5.39" height="2.2" fill="#FF8C00"/>
<rect x="466.89" y="255.5" width="5.39" height="1.5" fill="#FF3030"/>
<rect x="466.89" y="257" width="5.39" height="0.6" fill="#F08080"/>
<rect x="466.89" y="257.6" width="5.39" height="1.4" fill="#000000"/>
<rect x="472.88" y="234.8" width="5.39" height="3.2" fill="#8B008B"/>
<rect x="472.88" y="238" width="5.39" height="3.9" fill="#00008B"/>
<rect x="472.88" y="241.9" width="5.39" height="3.6" fill="#1E90FF"/>
<rect x="472.88" y="245.5" width="5.39" height="3.3" fill="#8470FF"/>
<rect x="472.88" y="248.8" width="5.39" height="1.1" fill="#228B22"/>
<rect x="472.88" y="249.9" width="5.39" height="0.7" fill="#98FB98"/>
<rect x="472.88" y="250.6" width="5.39" height="2.2" fill="#FFD700"/>
<rect x="472.88" y="252.8" width="5.39" height="3.2" fill="#FF8C00"/>
<rect x="472.88" y="256" width="5.39" height="0.5" fill="#FF3030"/>
<rect x="472.88" y="256.5" width="5.39" height="0.3" fill="#F08080"/>
<rect x="472.88" y="256.8" width="5.39" height="2.2" fill="#000000"/>
<rect x="478.86" y="238.5" width="5.39" height="2.8" fill="#8B008B"/>
<rect x="478.86" y="241.3" width="5.39" height="3.7" fill="#00008B"/>
<rect x="478.86" y="245" width="5.39" height="3.4" fill="#1E90FF"/>
<rect x="478.86" y="248.4" width="5.39" height="2.2" fill="#8470FF"/>
<rect x="478.86" y="250.6" width="5.39" height="0.8" fill="#228B22"/>
<rect x="478.86" y="251.4" width="5.39" height="1.1" fill="#98FB98"/>
<rect x="478.86" y="252.5" width="5.39" height="1.7" fill="#FFD700"/>
<rect x="478.86" y="254.2" width="5.39" height="1.7" fill="#FF8C00"/>
<rect x="478.86" y="255.9" width="5.39" height="1.4" fill="#FF3030"/>
<rect x="478.86" y="257.3" width="5.39" height="0.3" fill="#F08080"/>
<rect x="478.86" y="257.6" width="5.39" height="1.4" fill="#000000"/>
<rect x="484.85" y="238" width="5.39" height="3.9" fill="#8B008B"/>
<rect x="484.85" y="241.9" width="5.39" height="3.1" fill="#00008B"/>
<rect x="484.85" y="245" width="5.39" height="4.2" fill="#1E90FF"/>
<rect x="484.85" y="249.2" width="5.39" height="0.8" fill="#8470FF"/>
<rect x="484.85" y="250" width="5.39" height="1.1" fill="#228B22"/>
<rect x="484.85" y="251.1" width="5.39" height="2.2" fill="#98FB98"/>
<rect x="484.85" y="253.3" width="5.39" height="1.4" fill="#FFD700"/>
<rect x="484.85" y="254.7" width="5.39" height="1.3" fill="#FF8C00"/>
<rect x="484.85" y="256" width="5.39" height="1.3" fill="#FF3030"/>
<rect x="484.85" y="257.3" width="5.39" height="0.3" fill="#F08080"/>
<rect x="484.85" y="257.6" width="5.39" height="1.4" fill="#000000"/>
<rect x="490.84" y="229" width="5.39" height="3" fill="#8B008B"/>
<rect x="490.84" y="232" width="5.39" height="6.3" fill="#00008B"/>
<rect x="490.84" y="238.3" width="5.39" height="3.8" fill="#1E90FF"/>
<rect x="490.84" y="242.1" width="5.39" height="3.7" fill="#8470FF"/>
<rect x="490.84" y="245.8" width="5.39" height="3.9" fill="#228B22"/>
<rect x="490.84" y="249.7" width="5.39" height="1.1" fill="#98FB98"/>
<rect x="490.84" y="250.8" width="5.39" height="2" fill="#FFD700"/>
<rect x="490.84" y="252.8" width="5.39" height="2.7" fill="#FF8C00"/>
<rect x="490.84" y="255.5" width="5.39" height="1.1" fill="#FF3030"/>
<rect x="490.84" y="256.6" width="5.39" height="0.7" fill="#F08080"/>
<rect x="490.84" y="257.3" width="5.39" height="1.7" fill="#000000"/>
<rect x="496.82" y="235.2" width="5.39" height="6.9" fill="#8B008B"/>
<rect x="496.82" y="242.1" width="5.39" height="3.7" fill="#00008B"/>
<rect x="496.82" y="245.8" width="5.39" height="4.1" fill="#1E90FF"/>
<rect x="496.82" y="249.9" width="5.39" height="2.6" fill="#8470FF"/>
<rect x="496.82" y="252.5" width="5.39" height="0.3" fill="#228B22"/>
<rect x="496.82" y="252.8" width="5.39" height="0.8" fill="#98FB98"/>
<rect x="496.82" y="253.6" width="5.39" height="1.5" fill="#FFD700"/>
<rect x="496.82" y="255.1" width="5.39" height="1.1" fill="#FF8C00"/>
<rect x="496.82" y="256.2" width="5.39" height="1.1" fill="#FF3030"/>
<rect x="496.82" y="257.3" width="5.39" height="0.3" fill="#F08080"/>
<rect x="496.82" y="257.6" width="5.39" height="1.4" fill="#000000"/>
<rect x="502.81" y="234.3" width="5.39" height="3.7" fill="#8B008B"/>
<rect x="502.81" y="238" width="5.39" height="4.8" fill="#00008B"/>
<rect x="502.81" y="242.8" width="5.39" height="4.1" fill="#1E90FF"/>
<rect x="502.81" y="246.9" width="5.39" height="3" fill="#8470FF"/>
<rect x="502.81" y="249.9" width="5.39" height="2.6" fill="#228B22"/>
<rect x="502.81" y="252.5" width="5.39" height="0.8" fill="#98FB98"/>
<rect x="502.81" y="253.3" width="5.39" height="1.4" fill="#FFD700"/>
<rect x="502.81" y="254.7" width="5.39" height="1.5" fill="#FF8C00"/>
<rect x="502.81" y="256.2" width="5.39" height="1.1" fill="#FF3030"/>
<rect x="502.81" y="257.3" width="5.39" height="0.3" fill="#F08080"/>
<rect x="502.81" y="257.6" width="5.39" height="1.4" fill="#000000"/>
<rect x="508.79" y="235" width="5.39" height="4.1" fill="#8B008B"/>
<rect x="508.79" y="239.1" width="5.39" height="2.8" fill="#00008B"/>
<rect x="508.79" y="241.9" width="5.39" height="4.5" fill="#1E90FF"/>
<rect x="508.79" y="246.4" width="5.39" height="6.4" fill="#8470FF"/>
<rect x="508.79" y="252.8" width="5.39" height="0.5" fill="#228B22"/>
<rect x="508.79" y="253.3" width="5.39" height="1.4" fill="#98FB98"/>
<rect x="508.79" y="254.7" width="5.39" height="0.3" fill="#FFD700"/>
<rect x="508.79" y="255" width="5.39" height="1" fill="#FF8C00"/>
<rect x="508.79" y="256" width="5.39" height="2.1" fill="#FF3030"/>
<rect x="508.79" y="258.1" width="5.39" height="0.2" fill="#F08080"/>
<rect x="508.79" y="258.3" width="5.39" height="0.7" fill="#000000"/>
<rect x="514.78" y="235.2" width="5.39" height="3.6" fill="#8B008B"/>
<rect x="514.78" y="238.8" width="5.39" height="3.3" fill="#00008B"/>
<rect x="514.78" y="242.1" width="5.39" height="4.3" fill="#1E90FF"/>
<rect x="514.78" y="246.4" width="5.39" height="2.4" fill="#8470FF"/>
<rect x="514.78" y="248.8" width="5.39" height="1.1" fill="#228B22"/>
<rect x="514.78" y="249.9" width="5.39" height="0.9" fill="#98FB98"/>
<rect x="514.78" y="250.8" width="5.39" height="2" fill="#FFD700"/>
<rect x="514.78" y="252.8" width="5.39" height="3.2" fill="#FF8C00"/>
<rect x="514.78" y="256" width="5.39" height="0.5" fill="#FF3030"/>
<rect x="514.78" y="256.5" width="5.39" height="0.3" fill="#F08080"/>
<rect x="514.78" y="256.8" width="5.39" height="2.2" fill="#000000"/>
<rect x="520.77" y="239.1" width="5.39" height="1.9" fill="#8B008B"/>
<rect x="520.77" y="241" width="5.39" height="3.3" fill="#00008B"/>
<rect x="520.77" y="244.3" width="5.39" height="4.1" fill="#1E90FF"/>
<rect x="520.77" y="248.4" width="5.39" height="2.2" fill="#8470FF"/>
<rect x="520.77" y="250.6" width="5.39" height="0.8" fill="#228B22"/>
<rect x="520.77" y="251.4" width="5.39" height="0.8" fill="#98FB98"/>
<rect x="520.77" y="252.2" width="5.39" height="2.2" fill="#FFD700"/>
<rect x="520.77" y="254.4" width="5.39" height="2" fill="#FF8C00"/>
<rect x="520.77" y="256.4" width="5.39" height="0.9" fill="#FF3030"/>
<rect x="520.77" y="257.3" width="5.39" height="0.3" fill="#F08080"/>
<rect x="520.77" y="257.6" width="5.39" height="1.4" fill="#000000"/>
<rect x="526.75" y="235.2" width="5.39" height="3.3" fill="#8B008B"/>
<rect x="526.75" y="238.5" width="5.39" height="3.9" fill="#00008B"/>
<rect x="526.75" y="242.4" width="5.39" height="4" fill="#1E90FF"/>
<rect x="526.75" y="246.4" width="5.39" height="4.4" fill="#8470FF"/>
<rect x="526.75" y="250.8" width="5.39" height="1.7" fill="#228B22"/>
<rect x="526.75" y="252.5" width="5.39" height="0.8" fill="#98FB98"/>
<rect x="526.75" y="253.3" width="5.39" height="1.4" fill="#FFD700"/>
<rect x="526.75" y="254.7" width="5.39" height="1.5" fill="#FF8C00"/>
<rect x="526.75" y="256.2" width="5.39" height="1.1" fill="#FF3030"/>
<rect x="526.75" y="257.3" width="5.39" height="0.3" fill="#F08080"/>
<rect x="526.75" y="257.6" width="5.39" height="1.4" fill="#000000"/>
<rect x="532.74" y="231.6" width="5.39" height="3" fill="#8B008B"/>
<rect x="532.74" y="234.6" width="5.39" height="3.7" fill="#00008B"/>
<rect x="532.74" y="238.3" width="5.39" height="3.8" fill="#1E90FF"/>
<rect x="532.74" y="242.1" width="5.39" height="5.9" fill="#8470FF"/>
<rect x="532.74" y="248" width="5.39" height="1.2" fill="#228B22"/>
<rect x="532.74" y="249.2" width="5.39" height="0.8" fill="#98FB98"/>
<rect x="532.74" y="250" width="5.39" height="2.8" fill="#FFD700"/>
<rect x="532.74" y="252.8" width="5.39" height="3.2" fill="#FF8C00"/>
<rect x="532.74" y="256" width="5.39" height="0.6" fill="#FF3030"/>
<rect x="532.74" y="256.6" width="5.39" height="0.2" fill="#F08080"/>
<rect x="532.74" y="256.8" width="5.39" height="2.2" fill="#000000"/>
<rect x="538.72" y="241.1" width="5.39" height="3.8" fill="#8B008B"/>
<rect x="538.72" y="244.9" width="5.39" height="2.2" fill="#00008B"/>
<rect x="538.72" y="247.1" width="5.39" height="3.8" fill="#1E90FF"/>
<rect x="538.72" y="250.9" width="5.39" height="1.2" fill="#8470FF"/>
<rect x="538.72" y="252.1" width="5.39" height="0.3" fill="#228B22"/>
<rect x="538.72" y="252.4" width="5.39" height="0.7" fill="#98FB98"/>
<rect x="538.72" y="253.1" width="5.39" height="1.3" fill="#FFD700"/>
<rect x="538.72" y="254.4" width="5.39" height="1.5" fill="#FF8C00"/>
<rect x="538.72" y="255.9" width="5.39" height="1.3" fill="#FF3030"/>
<rect x="538.72" y="257.2" width="5.39" height="0.4" fill="#F08080"/>
<rect x="538.72" y="257.6" width="5.39" height="1.4" fill="#000000"/>
<rect x="544.71" y="237.7" width="5.39" height="4.1" fill="#8B008B"/>
<rect x="544.71" y="241.8" width="5.39" height="3.1" fill="#00008B"/>
<rect x="544.71" y="244.9" width="5.39" height="4.1" fill="#1E90FF"/>
<rect x="544.71" y="249" width="5.39" height="2.1" fill="#8470FF"/>
<rect x="544.71" y="251.1" width="5.39" height="1.7" fill="#228B22"/>
<rect x="544.71" y="252.8" width="5.39" height="0.6" fill="#98FB98"/>
<rect x="544.71" y="253.4" width="5.39" height="1.5" fill="#FFD700"/>
<rect x="544.71" y="254.9" width="5.39" height="1.3" fill="#FF8C00"/>
<rect x="544.71" y="256.2" width="5.39" height="1.1" fill="#FF3030"/>
<rect x="544.71" y="257.3" width="5.39" height="0.3" fill="#F08080"/>
<rect x="544.71" y="257.6" width="5.39" height="1.4" fill="#000000"/>
<rect x="550.7" y="234.2" width="5.39" height="2.9" fill="#8B008B"/>
<rect x="550.7" y="237.1" width="5.39" height="3.7" fill="#00008B"/>
<rect x="550.7" y="240.8" width="5.39" height="4.4" fill="#1E90FF"/>
<rect x="550.7" y="245.2" width="5.39" height="3.8" fill="#8470FF"/>
<rect x="550.7" y="249" width="5.39" height="0.6" fill="#228B22"/>
<rect x="550.7" y="249.6" width="5.39" height="0.3" fill="#98FB98"/>
<rect x="550.7" y="249.9" width="5.39" height="2.9" fill="#FFD700"/>
<rect x="550.7" y="252.8" width="5.39" height="3.7" fill="#FF8C00"/>
<rect x="550.7" y="256.5" width="5.39" height="0.2" fill="#FF3030"/>
<rect x="550.7" y="256.7" width="5.39" height="0.2" fill="#F08080"/>
<rect x="550.7" y="256.9" width="5.39" height="2.1" fill="#000000"/>
<rect x="556.68" y="236.1" width="5.39" height="3.2" fill="#8B008B"/>
<rect x="556.68" y="239.3" width="5.39" height="4" fill="#00008B"/>
<rect x="556.68" y="243.3" width="5.39" height="3.6" fill="#1E90FF"/>
<rect x="556.68" y="246.9" width="5.39" height="3" fill="#8470FF"/>
<rect x="556.68" y="249.9" width="5.39" height="0.7" fill="#228B22"/>
<rect x="556.68" y="250.6" width="5.39" height="0.9" fill="#98FB98"/>
<rect x="556.68" y="251.5" width="5.39" height="1.9" fill="#FFD700"/>
<rect x="556.68" y="253.4" width="5.39" height="2.2" fill="#FF8C00"/>
<rect x="556.68" y="255.6" width="5.39" height="1.6" fill="#FF3030"/>
<rect x="556.68" y="257.2" width="5.39" height="0.4" fill="#F08080"/>
<rect x="556.68" y="257.6" width="5.39" height="1.4" fill="#000000"/>
<rect x="562.67" y="235.8" width="5.39" height="2.3" fill="#8B008B"/>
<rect x="562.67" y="238.1" width="5.39" height="4" fill="#00008B"/>
<rect x="562.67" y="242.1" width="5.39" height="4.4" fill="#1E90FF"/>
<rect x="562.67" y="246.5" width="5.39" height="1.9" fill="#8470FF"/>
<rect x="562.67" y="248.4" width="5.39" height="1" fill="#228B22"/>
<rect x="562.67" y="249.4" width="5.39" height="0.3" fill="#98FB98"/>
<rect x="562.67" y="249.7" width="5.39" height="3.1" fill="#FFD700"/>
<rect x="562.67" y="252.8" width="5.39" height="3.7" fill="#FF8C00"/>
<rect x="562.67" y="256.5" width="5.39" height="0.3" fill="#FF3030"/>
<rect x="562.67" y="256.8" width="5.39" height="0.1" fill="#F08080"/>
<rect x="562.67" y="256.9" width="5.39" height="2.1" fill="#000000"/>
<rect x="568.65" y="238.9" width="5.39" height="2.9" fill="#8B008B"/>
<rect x="568.65" y="241.8" width="5.39" height="3.1" fill="#00008B"/>
<rect x="568.65" y="244.9" width="5.39" height="4.7" fill="#1E90FF"/>
<rect x="568.65" y="249.6" width="5.39" height="1.5" fill="#8470FF"/>
<rect x="568.65" y="251.1" width="5.39" height="1" fill="#228B22"/>
<rect x="568.65" y="252.1" width="5.39" height="1.3" fill="#98FB98"/>
<rect x="568.65" y="253.4" width="5.39" height="1.5" fill="#FFD700"/>
<rect x="568.65" y="254.9" width="5.39" height="1.6" fill="#FF8C00"/>
<rect x="568.65" y="256.5" width="5.39" height="1" fill="#FF3030"/>
<rect x="568.65" y="257.5" width="5.39" height="0.2" fill="#F08080"/>
<rect x="568.65" y="257.7" width="5.39" height="1.3" fill="#000000"/>
<rect x="574.64" y="236.1" width="5.39" height="3.7" fill="#8B008B"/>
<rect x="574.64" y="239.8" width="5.39" height="4.2" fill="#00008B"/>
<rect x="574.64" y="244" width="5.39" height="4.4" fill="#1E90FF"/>
<rect x="574.64" y="248.4" width="5.39" height="2.5" fill="#8470FF"/>
<rect x="574.64" y="250.9" width="5.39" height="1.9" fill="#228B22"/>
<rect x="574.64" y="252.8" width="5.39" height="0.9" fill="#98FB98"/>
<rect x="574.64" y="253.7" width="5.39" height="1.2" fill="#FFD700"/>
<rect x="574.64" y="254.9" width="5.39" height="1.6" fill="#FF8C00"/>
<rect x="574.64" y="256.5" width="5.39" height="1" fill="#FF3030"/>
<rect x="574.64" y="257.5" width="5.39" height="0.2" fill="#F08080"/>
<rect x="574.64" y="257.7" width="5.39" height="1.3" fill="#000000"/>
<rect x="580.63" y="238.3" width="5.39" height="3.5" fill="#8B008B"/>
<rect x="580.63" y="241.8" width="5.39" height="3.4" fill="#00008B"/>
<rect x="580.63" y="245.2" width="5.39" height="3.4" fill="#1E90FF"/>
<rect x="580.63" y="248.6" width="5.39" height="2" fill="#8470FF"/>
<rect x="580.63" y="250.6" width="5.39" height="1.5" fill="#228B22"/>
<rect x="580.63" y="252.1" width="5.39" height="1" fill="#98FB98"/>
<rect x="580.63" y="253.1" width="5.39" height="1.8" fill="#FFD700"/>
<rect x="580.63" y="254.9" width="5.39" height="1.3" fill="#FF8C00"/>
<rect x="580.63" y="256.2" width="5.39" height="1.2" fill="#FF3030"/>
<rect x="580.63" y="257.4" width="5.39" height="0.3" fill="#F08080"/>
<rect x="580.63" y="257.7" width="5.39" height="1.3" fill="#000000"/>
<rect x="586.61" y="237.1" width="5.39" height="4.7" fill="#8B008B"/>
<rect x="586.61" y="241.8" width="5.39" height="3.8" fill="#00008B"/>
<rect x="586.61" y="245.6" width="5.39" height="2.8" fill="#1E90FF"/>
<rect x="586.61" y="248.4" width="5.39" height="2.2" fill="#8470FF"/>
<rect x="586.61" y="250.6" width="5.39" height="0.4" fill="#228B22"/>
<rect x="586.61" y="251" width="5.39" height="1.8" fill="#98FB98"/>
<rect x="586.61" y="252.8" width="5.39" height="1.8" fill="#FFD700"/>
<rect x="586.61" y="254.6" width="5.39" height="1.6" fill="#FF8C00"/>
<rect x="586.61" y="256.2" width="5.39" height="1.2" fill="#FF3030"/>
<rect x="586.61" y="257.4" width="5.39" height="0.3" fill="#F08080"/>
<rect x="586.61" y="257.7" width="5.39" height="1.3" fill="#000000"/>
<rect x="592.6" y="234.2" width="5.39" height="3.9" fill="#8B008B"/>
<rect x="592.6" y="238.1" width="5.39" height="3.7" fill="#00008B"/>
<rect x="592.6" y="241.8" width="5.39" height="3.4" fill="#1E90FF"/>
<rect x="592.6" y="245.2" width="5.39" height="6.7" fill="#8470FF"/>
<rect x="592.6" y="251.9" width="5.39" height="1.2" fill="#228B22"/>
<rect x="592.6" y="253.1" width="5.39" height="0.3" fill="#98FB98"/>
<rect x="592.6" y="253.4" width="5.39" height="1.2" fill="#FFD700"/>
<rect x="592.6" y="254.6" width="5.39" height="0.9" fill="#FF8C00"/>
<rect x="592.6" y="255.5" width="5.39" height="1.1" fill="#FF3030"/>
<rect x="592.6" y="256.6" width="5.39" height="0.8" fill="#F08080"/>
<rect x="592.6" y="257.4" width="5.39" height="1.6" fill="#000000"/>
<rect x="598.58" y="236.4" width="5.39" height="3.8" fill="#8B008B"/>
<rect x="598.58" y="240.2" width="5.39" height="2.9" fill="#00008B"/>
<rect x="598.58" y="243.1" width="5.39" height="4.6" fill="#1E90FF"/>
<rect x="598.58" y="247.7" width="5.39" height="3.8" fill="#8470FF"/>
<rect x="598.58" y="251.5" width="5.39" height="1.9" fill="#228B22"/>
<rect x="598.58" y="253.4" width="5.39" height="0.3" fill="#98FB98"/>
<rect x="598.58" y="253.7" width="5.39" height="1.2" fill="#FFD700"/>
<rect x="598.58" y="254.9" width="5.39" height="1.3" fill="#FF8C00"/>
<rect x="598.58" y="256.2" width="5.39" height="1.3" fill="#FF3030"/>
<rect x="598.58" y="257.5" width="5.39" height="0.2" fill="#F08080"/>
<rect x="598.58" y="257.7" width="5.39" height="1.3" fill="#000000"/>
<rect x="604.57" y="234.8" width="5.39" height="4.1" fill="#8B008B"/>
<rect x="604.57" y="238.9" width="5.39" height="5.1" fill="#00008B"/>
<rect x="604.57" y="244" width="5.39" height="3.1" fill="#1E90FF"/>
<rect x="604.57" y="247.1" width="5.39" height="2.3" fill="#8470FF"/>
<rect x="604.57" y="249.4" width="5.39" height="1.7" fill="#228B22"/>
<rect x="604.57" y="251.1" width="5.39" height="1.3" fill="#98FB98"/>
<rect x="604.57" y="252.4" width="5.39" height="2" fill="#FFD700"/>
<rect x="604.57" y="254.4" width="5.39" height="1.1" fill="#FF8C00"/>
<rect x="604.57" y="255.5" width="5.39" height="1.1" fill="#FF3030"/>
<rect x="604.57" y="256.6" width="5.39" height="0.3" fill="#F08080"/>
<rect x="604.57" y="256.9" width="5.39" height="2.1" fill="#000000"/>
<rect x="610.56" y="236.4" width="5.39" height="8.8" fill="#8B008B"/>
<rect x="610.56" y="245.2" width="5.39" height="2.5" fill="#00008B"/>
<rect x="610.56" y="247.7" width="5.39" height="2.2" fill="#1E90FF"/>
<rect x="610.56" y="249.9" width="5.39" height="1.6" fill="#8470FF"/>
<rect x="610.56" y="251.5" width="5.39" height="1.3" fill="#228B22"/>
<rect x="610.56" y="252.8" width="5.39" height="0.6" fill="#98FB98"/>
<rect x="610.56" y="253.4" width="5.39" height="1.5" fill="#FFD700"/>
<rect x="610.56" y="254.9" width="5.39" height="1.3" fill="#FF8C00"/>
<rect x="610.56" y="256.2" width="5.39" height="1.2" fill="#FF3030"/>
<rect x="610.56" y="257.4" width="5.39" height="0.3" fill="#F08080"/>
<rect x="610.56" y="257.7" width="5.39" height="1.3" fill="#000000"/>
<rect x="616.54" y="236.1" width="5.39" height="3.7" fill="#8B008B"/>
<rect x="616.54" y="239.8" width="5.39" height="3.3" fill="#00008B"/>
<rect x="616.54" y="243.1" width="5.39" height="3.8" fill="#1E90FF"/>
<rect x="616.54" y="246.9" width="5.39" height="5.2" fill="#8470FF"/>
<rect x="616.54" y="252.1" width="5.39" height="0.2" fill="#228B22"/>
<rect x="616.54" y="252.3" width="5.39" height="0.8" fill="#98FB98"/>
<rect x="616.54" y="253.1" width="5.39" height="1.5" fill="#FFD700"/>
<rect x="616.54" y="254.6" width="5.39" height="1.6" fill="#FF8C00"/>
<rect x="616.54" y="256.2" width="5.39" height="1.2" fill="#FF3030"/>
<rect x="616.54" y="257.4" width="5.39" height="0.3" fill="#F08080"/>
<rect x="616.54" y="257.7" width="5.39" height="1.3" fill="#000000"/>
<line x1="33.2" x2="35" y1="259" y2="259" stroke="#333" stroke-width="0.5"/>
<text transform="translate(32.3,261.6) scale(1,1.22)" font-size="6" fill="#4D4D4D" text-anchor="end">0</text>
<line x1="33.2" x2="35" y1="236.56" y2="236.56" stroke="#333" stroke-width="0.5"/>
<text transform="translate(32.3,239.16) scale(1,1.22)" font-size="6" fill="#4D4D4D" text-anchor="end">0.005</text>
<line x1="33.2" x2="35" y1="214.12" y2="214.12" stroke="#333" stroke-width="0.5"/>
<text transform="translate(32.3,216.72) scale(1,1.22)" font-size="6" fill="#4D4D4D" text-anchor="end">0.01</text>
<line x1="33.2" x2="35" y1="191.68" y2="191.68" stroke="#333" stroke-width="0.5"/>
<text transform="translate(32.3,194.28) scale(1,1.22)" font-size="6" fill="#4D4D4D" text-anchor="end">0.015</text>
<line x1="33.2" x2="35" y1="169.24" y2="169.24" stroke="#333" stroke-width="0.5"/>
<text transform="translate(32.3,171.84) scale(1,1.22)" font-size="6" fill="#4D4D4D" text-anchor="end">0.02</text>
<line x1="33.2" x2="35" y1="146.8" y2="146.8" stroke="#333" stroke-width="0.5"/>
<text transform="translate(32.3,149.4) scale(1,1.22)" font-size="6" fill="#4D4D4D" text-anchor="end">0.025</text>
<text transform="translate(41.39,262.3) rotate(-90)" font-size="6.05" fill="#404040" text-anchor="end">PTP2-HS1</text>
<text transform="translate(47.38,262.3) rotate(-90)" font-size="6.05" fill="#404040" text-anchor="end">SRKW20-5</text>
<text transform="translate(53.37,262.3) rotate(-90)" font-size="6.05" fill="#404040" text-anchor="end">PTP2-FC1</text>
<text transform="translate(59.35,262.3) rotate(-90)" font-size="6.05" fill="#404040" text-anchor="end">SRKW19-15</text>
<text transform="translate(65.34,262.3) rotate(-90)" font-size="6.05" fill="#404040" text-anchor="end">SRKW20-6</text>
<text transform="translate(71.32,262.3) rotate(-90)" font-size="6.05" fill="#404040" text-anchor="end">PTP2-HG2</text>
<text transform="translate(77.31,262.3) rotate(-90)" font-size="6.05" fill="#404040" text-anchor="end">PTP2-HG5</text>
<text transform="translate(83.3,262.3) rotate(-90)" font-size="6.05" fill="#404040" text-anchor="end">SRKW19-19</text>
<text transform="translate(89.28,262.3) rotate(-90)" font-size="6.05" fill="#404040" text-anchor="end">PTP2-PMV1</text>
<text transform="translate(95.27,262.3) rotate(-90)" font-size="6.05" fill="#404040" text-anchor="end">PTP2-HH3</text>
<text transform="translate(101.25,262.3) rotate(-90)" font-size="6.05" fill="#404040" text-anchor="end">SRKW20-7</text>
<text transform="translate(107.24,262.3) rotate(-90)" font-size="6.05" fill="#404040" text-anchor="end">PTP2-SOA3</text>
<text transform="translate(113.23,262.3) rotate(-90)" font-size="6.05" fill="#404040" text-anchor="end">SRKW19-14</text>
<text transform="translate(119.21,262.3) rotate(-90)" font-size="6.05" fill="#404040" text-anchor="end">SRKW19-16</text>
<text transform="translate(125.2,262.3) rotate(-90)" font-size="6.05" fill="#404040" text-anchor="end">PTP2-GINP1</text>
<text transform="translate(131.18,262.3) rotate(-90)" font-size="6.05" fill="#404040" text-anchor="end">SRKW20-3</text>
<text transform="translate(137.17,262.3) rotate(-90)" font-size="6.05" fill="#404040" text-anchor="end">SRKW19-8</text>
<text transform="translate(143.16,262.3) rotate(-90)" font-size="6.05" fill="#404040" text-anchor="end">PTP2-NWC9</text>
<text transform="translate(149.14,262.3) rotate(-90)" font-size="6.05" fill="#404040" text-anchor="end">PTP2-ARCMILLAN</text>
<text transform="translate(155.13,262.3) rotate(-90)" font-size="6.05" fill="#404040" text-anchor="end">PTP2-PMV7</text>
<text transform="translate(161.11,262.3) rotate(-90)" font-size="6.05" fill="#404040" text-anchor="end">PTP2-HG6</text>
<text transform="translate(167.1,262.3) rotate(-90)" font-size="6.05" fill="#404040" text-anchor="end">PTP2-LG80</text>
<text transform="translate(173.09,262.3) rotate(-90)" font-size="6.05" fill="#404040" text-anchor="end">SRKW19-9</text>
<text transform="translate(179.07,262.3) rotate(-90)" font-size="6.05" fill="#404040" text-anchor="end">PTP2-SOA5</text>
<text transform="translate(185.06,262.3) rotate(-90)" font-size="6.05" fill="#404040" text-anchor="end">SRKW19-13</text>
<text transform="translate(191.04,262.3) rotate(-90)" font-size="6.05" fill="#404040" text-anchor="end">PTP2-SOA4</text>
<text transform="translate(197.03,262.3) rotate(-90)" font-size="6.05" fill="#404040" text-anchor="end">PTP2-HG4</text>
<text transform="translate(203.02,262.3) rotate(-90)" font-size="6.05" fill="#404040" text-anchor="end">PTP2-LG61</text>
<text transform="translate(209,262.3) rotate(-90)" font-size="6.05" fill="#404040" text-anchor="end">SRKW19-6</text>
<text transform="translate(214.99,262.3) rotate(-90)" font-size="6.05" fill="#404040" text-anchor="end">PTP2-NWC1</text>
<text transform="translate(220.97,262.3) rotate(-90)" font-size="6.05" fill="#404040" text-anchor="end">PTP2-HG1</text>
<text transform="translate(226.96,262.3) rotate(-90)" font-size="6.05" fill="#404040" text-anchor="end">PTP2-PMV6</text>
<text transform="translate(232.95,262.3) rotate(-90)" font-size="6.05" fill="#404040" text-anchor="end">PTP2-VH1</text>
<text transform="translate(238.93,262.3) rotate(-90)" font-size="6.05" fill="#404040" text-anchor="end">SRKW19-7</text>
<text transform="translate(244.92,262.3) rotate(-90)" font-size="6.05" fill="#404040" text-anchor="end">SRKW19-11</text>
<text transform="translate(250.9,262.3) rotate(-90)" font-size="6.05" fill="#404040" text-anchor="end">SRKW19-10</text>
<text transform="translate(256.89,262.3) rotate(-90)" font-size="6.05" fill="#404040" text-anchor="end">PTP2-SITE5-2</text>
<text transform="translate(262.88,262.3) rotate(-90)" font-size="6.05" fill="#404040" text-anchor="end">PTP2-NAN1</text>
<text transform="translate(268.86,262.3) rotate(-90)" font-size="6.05" fill="#404040" text-anchor="end">PTP2-NWC10</text>
<text transform="translate(274.85,262.3) rotate(-90)" font-size="6.05" fill="#404040" text-anchor="end">SRKW19-4</text>
<text transform="translate(280.83,262.3) rotate(-90)" font-size="6.05" fill="#404040" text-anchor="end">PTP2-SOA10</text>
<text transform="translate(286.82,262.3) rotate(-90)" font-size="6.05" fill="#404040" text-anchor="end">PTP2-SITE7-2</text>
<text transform="translate(292.81,262.3) rotate(-90)" font-size="6.05" fill="#404040" text-anchor="end">PTP2-SOA7</text>
<text transform="translate(298.79,262.3) rotate(-90)" font-size="6.05" fill="#404040" text-anchor="end">PTP2-NWC2</text>
<text transform="translate(304.78,262.3) rotate(-90)" font-size="6.05" fill="#404040" text-anchor="end">COW20</text>
<text transform="translate(310.76,262.3) rotate(-90)" font-size="6.05" fill="#404040" text-anchor="end">PTP2-EH1</text>
<text transform="translate(316.75,262.3) rotate(-90)" font-size="6.05" fill="#404040" text-anchor="end">PTP2-STH1</text>
<text transform="translate(322.74,262.3) rotate(-90)" font-size="6.05" fill="#404040" text-anchor="end">PTP2-SOA9</text>
<text transform="translate(328.72,262.3) rotate(-90)" font-size="6.05" fill="#404040" text-anchor="end">PTP2-LG82</text>
<text transform="translate(334.71,262.3) rotate(-90)" font-size="6.05" fill="#404040" text-anchor="end">PTP2-PH</text>
<text transform="translate(340.69,262.3) rotate(-90)" font-size="6.05" fill="#404040" text-anchor="end">PTP2-IA1</text>
<text transform="translate(346.68,262.3) rotate(-90)" font-size="6.05" fill="#404040" text-anchor="end">PTP2-WCM12</text>
<text transform="translate(352.67,262.3) rotate(-90)" font-size="6.05" fill="#404040" text-anchor="end">SRKW19-18</text>
<text transform="translate(358.65,262.3) rotate(-90)" font-size="6.05" fill="#404040" text-anchor="end">SRKW20-1</text>
<text transform="translate(364.64,262.3) rotate(-90)" font-size="6.05" fill="#404040" text-anchor="end">PTP2-BELLA</text>
<text transform="translate(370.62,262.3) rotate(-90)" font-size="6.05" fill="#404040" text-anchor="end">PTP2-VH2</text>
<text transform="translate(376.61,262.3) rotate(-90)" font-size="6.05" fill="#404040" text-anchor="end">SRKW20-2</text>
<text transform="translate(382.6,262.3) rotate(-90)" font-size="6.05" fill="#404040" text-anchor="end">PTP2-PMV2</text>
<text transform="translate(388.58,262.3) rotate(-90)" font-size="6.05" fill="#404040" text-anchor="end">PTP2-NWC5</text>
<text transform="translate(394.57,262.3) rotate(-90)" font-size="6.05" fill="#404040" text-anchor="end">SRKW19-2</text>
<text transform="translate(400.55,262.3) rotate(-90)" font-size="6.05" fill="#404040" text-anchor="end">PTP2-SBA1</text>
<text transform="translate(406.54,262.3) rotate(-90)" font-size="6.05" fill="#404040" text-anchor="end">PTP2-VH4</text>
<text transform="translate(412.53,262.3) rotate(-90)" font-size="6.05" fill="#404040" text-anchor="end">SRKW19-17</text>
<text transform="translate(418.51,262.3) rotate(-90)" font-size="6.05" fill="#404040" text-anchor="end">PTP2-DIX</text>
<text transform="translate(424.5,262.3) rotate(-90)" font-size="6.05" fill="#404040" text-anchor="end">PTP2-NWC4</text>
<text transform="translate(430.48,262.3) rotate(-90)" font-size="6.05" fill="#404040" text-anchor="end">SRKW19-5</text>
<text transform="translate(436.47,262.3) rotate(-90)" font-size="6.05" fill="#404040" text-anchor="end">PTP2-SOA8</text>
<text transform="translate(442.46,262.3) rotate(-90)" font-size="6.05" fill="#404040" text-anchor="end">PTP2-NWC11</text>
<text transform="translate(448.44,262.3) rotate(-90)" font-size="6.05" fill="#404040" text-anchor="end">PTP2-SBA2</text>
<text transform="translate(454.43,262.3) rotate(-90)" font-size="6.05" fill="#404040" text-anchor="end">PTP2-TSW2</text>
<text transform="translate(460.41,262.3) rotate(-90)" font-size="6.05" fill="#404040" text-anchor="end">PTP2-PNEV</text>
<text transform="translate(466.4,262.3) rotate(-90)" font-size="6.05" fill="#404040" text-anchor="end">PTP2-UDF1</text>
<text transform="translate(472.39,262.3) rotate(-90)" font-size="6.05" fill="#404040" text-anchor="end">SRKW19-1</text>
<text transform="translate(478.37,262.3) rotate(-90)" font-size="6.05" fill="#404040" text-anchor="end">PTP2-TSW</text>
<text transform="translate(484.36,262.3) rotate(-90)" font-size="6.05" fill="#404040" text-anchor="end">PTP2-EH2</text>
<text transform="translate(490.34,262.3) rotate(-90)" font-size="6.05" fill="#404040" text-anchor="end">PTP2-FB</text>
<text transform="translate(496.33,262.3) rotate(-90)" font-size="6.05" fill="#404040" text-anchor="end">PTP2-PMV5</text>
<text transform="translate(502.32,262.3) rotate(-90)" font-size="6.05" fill="#404040" text-anchor="end">PTP2-NWC8</text>
<text transform="translate(508.3,262.3) rotate(-90)" font-size="6.05" fill="#404040" text-anchor="end">PTP2-SOA6</text>
<text transform="translate(514.29,262.3) rotate(-90)" font-size="6.05" fill="#404040" text-anchor="end">PTP2-IA3</text>
<text transform="translate(520.27,262.3) rotate(-90)" font-size="6.05" fill="#404040" text-anchor="end">SRKW19-3</text>
<text transform="translate(526.26,262.3) rotate(-90)" font-size="6.05" fill="#404040" text-anchor="end">PTP2-UDF2</text>
<text transform="translate(532.25,262.3) rotate(-90)" font-size="6.05" fill="#404040" text-anchor="end">SRKW19-12</text>
<text transform="translate(538.23,262.3) rotate(-90)" font-size="6.05" fill="#404040" text-anchor="end">PTP2-FR1</text>
<text transform="translate(544.22,262.3) rotate(-90)" font-size="6.05" fill="#404040" text-anchor="end">PTP2-WCM11</text>
<text transform="translate(550.2,262.3) rotate(-90)" font-size="6.05" fill="#404040" text-anchor="end">PTP2-PMV4</text>
<text transform="translate(556.19,262.3) rotate(-90)" font-size="6.05" fill="#404040" text-anchor="end">PTP2-SI1</text>
<text transform="translate(562.18,262.3) rotate(-90)" font-size="6.05" fill="#404040" text-anchor="end">PTP2-SAT</text>
<text transform="translate(568.16,262.3) rotate(-90)" font-size="6.05" fill="#404040" text-anchor="end">PTP2-TSW3</text>
<text transform="translate(574.15,262.3) rotate(-90)" font-size="6.05" fill="#404040" text-anchor="end">PTP2-NAN2</text>
<text transform="translate(580.13,262.3) rotate(-90)" font-size="6.05" fill="#404040" text-anchor="end">PTP2-PMV3</text>
<text transform="translate(586.12,262.3) rotate(-90)" font-size="6.05" fill="#404040" text-anchor="end">PTP2-GINP2</text>
<text transform="translate(592.11,262.3) rotate(-90)" font-size="6.05" fill="#404040" text-anchor="end">SRKW20-4</text>
<text transform="translate(598.09,262.3) rotate(-90)" font-size="6.05" fill="#404040" text-anchor="end">PTP2-NWC6</text>
<text transform="translate(604.08,262.3) rotate(-90)" font-size="6.05" fill="#404040" text-anchor="end">PTP2-COM1</text>
<text transform="translate(610.06,262.3) rotate(-90)" font-size="6.05" fill="#404040" text-anchor="end">PTP2-IA2</text>
<text transform="translate(616.05,262.3) rotate(-90)" font-size="6.05" fill="#404040" text-anchor="end">PTP2-NAMU</text>
<text transform="translate(622.04,262.3) rotate(-90)" font-size="6.05" fill="#404040" text-anchor="end">PTP2-NWC3</text>
<text transform="translate(8.4,58.6) rotate(-90)" font-size="7.95" fill="#000" text-anchor="middle">Proportion</text>
<text transform="translate(8.4,201.9) rotate(-90)" font-size="7.95" fill="#000" text-anchor="middle">Proportion</text>
<text transform="translate(328.8,320.7) scale(1,1.12)" font-size="7.7" fill="#000" text-anchor="middle">Site</text>
<text transform="translate(0.9,6.5) scale(1,1.12)" font-size="7.8" fill="#000">a</text>
<text transform="translate(5.6,6.2) scale(1,0.95)" font-size="7.6" fill="#000">)</text>
<text transform="translate(0.4,150.8) scale(1,1.12)" font-size="7.8" fill="#000">b</text>
<text transform="translate(4.9,150.9) scale(1,0.95)" font-size="7.6" fill="#000">)</text>
<text transform="translate(632.0,12.45) scale(1,1.1)" font-size="7.95" fill="#000">Major Element</text>
<rect x="632.4" y="16" width="8.6" height="8.6" fill="#8B008B"/>
<text transform="translate(645.5,23.8) scale(1,1.22)" font-size="6.15" fill="#000">Fe</text>
<rect x="632.4" y="25.63" width="8.6" height="8.6" fill="#00008B"/>
<text transform="translate(645.5,33.43) scale(1,1.22)" font-size="6.15" fill="#000">Ca</text>
<rect x="632.4" y="35.26" width="8.6" height="8.6" fill="#1E90FF"/>
<text transform="translate(645.5,43.06) scale(1,1.22)" font-size="6.15" fill="#000">Al</text>
<rect x="632.4" y="44.89" width="8.6" height="8.6" fill="#8470FF"/>
<text transform="translate(645.5,52.69) scale(1,1.22)" font-size="6.15" fill="#000">Na</text>
<rect x="632.4" y="54.52" width="8.6" height="8.6" fill="#228B22"/>
<text transform="translate(645.5,62.32) scale(1,1.22)" font-size="6.15" fill="#000">Mg</text>
<rect x="632.4" y="64.15" width="8.6" height="8.6" fill="#98FB98"/>
<text transform="translate(645.5,71.95) scale(1,1.22)" font-size="6.15" fill="#000">S</text>
<rect x="632.4" y="73.78" width="8.6" height="8.6" fill="#FFD700"/>
<text transform="translate(645.5,81.58) scale(1,1.22)" font-size="6.15" fill="#000">K</text>
<rect x="632.4" y="83.41" width="8.6" height="8.6" fill="#FF8C00"/>
<text transform="translate(645.5,91.21) scale(1,1.22)" font-size="6.15" fill="#000">Ti</text>
<rect x="632.4" y="93.04" width="8.6" height="8.6" fill="#FF3030"/>
<text transform="translate(645.5,100.84) scale(1,1.22)" font-size="6.15" fill="#000">P</text>
<rect x="632.4" y="102.67" width="8.6" height="8.6" fill="#F08080"/>
<text transform="translate(645.5,110.47) scale(1,1.22)" font-size="6.15" fill="#000">Mn</text>
<text transform="translate(632.0,152.1) scale(1,1.1)" font-size="7.95" fill="#000">Trace Element</text>
<rect x="632.4" y="156.1" width="8.6" height="8.6" fill="#8B008B"/>
<text transform="translate(645.5,163.9) scale(1,1.22)" font-size="6.15" fill="#000">Sr</text>
<rect x="632.4" y="165.64" width="8.6" height="8.6" fill="#00008B"/>
<text transform="translate(645.5,173.44) scale(1,1.22)" font-size="6.15" fill="#000">Zn</text>
<rect x="632.4" y="175.18" width="8.6" height="8.6" fill="#1E90FF"/>
<text transform="translate(645.5,182.98) scale(1,1.22)" font-size="6.15" fill="#000">V</text>
<rect x="632.4" y="184.72" width="8.6" height="8.6" fill="#8470FF"/>
<text transform="translate(645.5,192.52) scale(1,1.22)" font-size="6.15" fill="#000">Ba</text>
<rect x="632.4" y="194.26" width="8.6" height="8.6" fill="#228B22"/>
<text transform="translate(645.5,202.06) scale(1,1.22)" font-size="6.15" fill="#000">Cu</text>
<rect x="632.4" y="203.8" width="8.6" height="8.6" fill="#98FB98"/>
<text transform="translate(645.5,211.6) scale(1,1.22)" font-size="6.15" fill="#000">B</text>
<rect x="632.4" y="213.34" width="8.6" height="8.6" fill="#FFD700"/>
<text transform="translate(645.5,221.14) scale(1,1.22)" font-size="6.15" fill="#000">Cr</text>
<rect x="632.4" y="222.88" width="8.6" height="8.6" fill="#FF8C00"/>
<text transform="translate(645.5,230.68) scale(1,1.22)" font-size="6.15" fill="#000">Ni</text>
<rect x="632.4" y="232.42" width="8.6" height="8.6" fill="#FF3030"/>
<text transform="translate(645.5,240.22) scale(1,1.22)" font-size="6.15" fill="#000">Li</text>
<rect x="632.4" y="241.96" width="8.6" height="8.6" fill="#F08080"/>
<text transform="translate(645.5,249.76) scale(1,1.22)" font-size="6.15" fill="#000">Pb</text>
<rect x="632.4" y="251.5" width="8.6" height="8.6" fill="#000000"/>
<text transform="translate(645.5,259.3) scale(1,1.22)" font-size="6.15" fill="#000">Others</text>
</svg></body></html>
